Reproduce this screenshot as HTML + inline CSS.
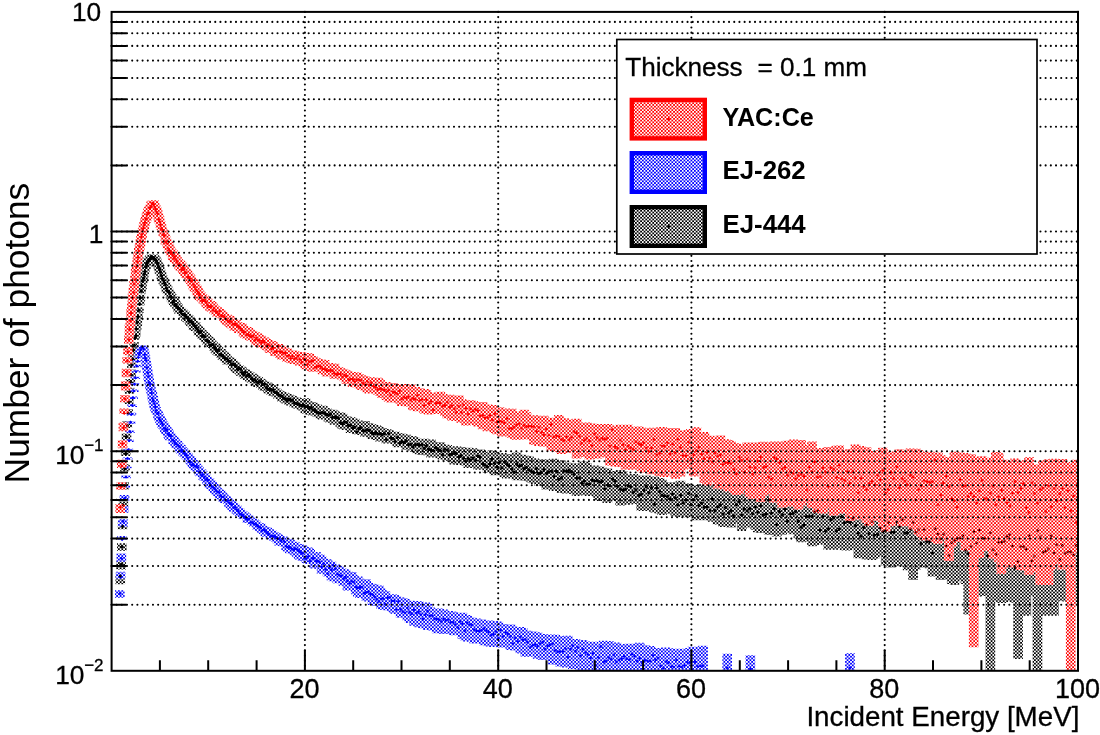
<!DOCTYPE html>
<html lang="en"><head><meta charset="utf-8"><title>Number of photons vs Incident Energy</title>
<style>html,body{margin:0;padding:0;background:#fff}body{width:1100px;height:735px;overflow:hidden}svg{display:block}</style></head>
<body>
<svg width="1100" height="735" viewBox="0 0 1100 735">
<defs>
<pattern id="pr" patternUnits="userSpaceOnUse" x="0" y="0" width="3.47" height="3.47"><rect x="0" y="0" width="1.735" height="1.735" fill="#ff0000"/><rect x="1.735" y="1.735" width="1.735" height="1.735" fill="#ff0000"/></pattern>
<pattern id="pb" patternUnits="userSpaceOnUse" x="0" y="0" width="3.47" height="3.47"><rect x="0" y="0" width="1.735" height="1.735" fill="#0000ff"/><rect x="1.735" y="1.735" width="1.735" height="1.735" fill="#0000ff"/></pattern>
<pattern id="pk" patternUnits="userSpaceOnUse" x="0" y="0" width="3.47" height="3.47"><rect x="0" y="0" width="1.735" height="1.735" fill="#000000"/><rect x="1.735" y="1.735" width="1.735" height="1.735" fill="#000000"/></pattern>
<clipPath id="cp"><rect x="111.6" y="11.9" width="966.4" height="658.9"/></clipPath>
</defs>
<rect width="1100" height="735" fill="#fff"/>
<g clip-path="url(#cp)">
<path d="M115.5 575.2H125.1V584.3H115.5zM116.2 560.7H125.9V569.6H116.2zM117.0 543.3H126.7V550.7H117.0zM117.8 522.2H127.4V529.3H117.8zM118.6 501.2H128.2V506.9H118.6zM119.3 482.1H129.0V489.6H119.3zM120.1 464.3H129.8V471.6H120.1zM120.9 448.7H130.5V455.9H120.9zM121.7 433.6H131.3V441.3H121.7zM122.4 420.9H132.1V428.1H122.4zM123.2 408.9H132.9V413.2H123.2zM124.0 397.5H133.6V403.9H124.0zM124.7 387.7H134.4V393.7H124.7zM125.5 379.1H135.2V384.7H125.5zM126.3 369.5H136.0V376.9H126.3zM127.1 362.3H136.7V367.9H127.1zM127.8 354.6H137.5V361.5H127.8zM128.6 347.7H138.3V354.7H128.6zM129.4 342.3H139.0V348.7H129.4zM130.2 336.7H139.8V339.7H130.2zM130.9 331.1H140.6V336.8H130.9zM131.7 324.9H141.4V330.8H131.7zM132.5 319.6H142.1V326.1H132.5zM133.2 313.5H142.9V319.1H133.2zM134.0 307.2H143.7V312.9H134.0zM134.8 300.7H144.5V305.4H134.8zM135.6 294.7H145.2V300.7H135.6zM136.3 288.8H146.0V293.4H136.3zM137.1 282.9H146.8V289.2H137.1zM137.9 278.5H147.6V283.2H137.9zM138.7 273.4H148.3V280.4H138.7zM139.4 270.3H149.1V276.2H139.4zM140.2 266.9H149.9V271.4H140.2zM141.0 264.6H150.6V269.2H141.0zM141.8 261.8H151.4V267.3H141.8zM142.5 259.4H152.2V265.5H142.5zM143.3 257.6H153.0V264.2H143.3zM144.1 256.9H153.7V263.6H144.1zM144.8 255.8H154.5V262.2H144.8zM145.6 254.9H155.3V261.2H145.6zM146.4 254.8H156.1V259.9H146.4zM147.2 254.6H156.8V260.4H147.2zM147.9 254.5H157.6V261.6H147.9zM148.9 254.6H158.6V260.8H148.9zM149.9 255.8H159.5V261.8H149.9zM150.8 256.4H160.5V264.4H150.8zM151.8 258.5H161.5V265.5H151.8zM152.8 260.9H162.4V266.9H152.8zM153.7 262.9H163.4V270.6H153.7zM154.7 265.5H164.4V273.7H154.7zM155.7 269.4H165.3V273.7H155.7zM156.6 272.1H166.3V279.3H156.6zM157.6 275.3H167.3V280.7H157.6zM158.6 277.5H168.3V284.2H158.6zM159.6 279.5H169.3V285.7H159.6zM160.6 282.4H170.3V288.5H160.6zM161.6 284.4H171.3V292.4H161.6zM162.6 286.0H172.3V293.6H162.6zM163.7 288.5H173.3V294.0H163.7zM164.7 290.2H174.4V296.0H164.7zM165.8 292.1H175.4V299.0H165.8zM166.8 294.2H176.5V302.1H166.8zM167.9 296.1H177.5V303.5H167.9zM169.0 297.8H178.6V305.0H169.0zM170.0 299.1H179.7V306.4H170.0zM171.1 301.2H180.8V306.0H171.1zM172.2 303.0H181.9V308.7H172.2zM173.3 304.4H183.0V311.9H173.3zM174.5 306.6H184.1V314.1H174.5zM175.6 307.2H185.2V313.7H175.6zM176.7 308.7H186.4V313.2H176.7zM177.9 309.6H187.5V315.7H177.9zM179.0 310.8H188.7V318.1H179.0zM180.2 311.5H189.8V317.1H180.2zM181.3 313.0H191.0V321.4H181.3zM182.5 314.1H192.2V321.6H182.5zM183.7 315.3H193.4V322.7H183.7zM184.9 316.7H194.6V325.1H184.9zM186.1 319.0H195.8V326.2H186.1zM187.3 319.7H197.0V324.6H187.3zM188.6 321.2H198.2V329.7H188.6zM189.8 322.1H199.5V330.8H189.8zM191.0 322.4H200.7V331.0H191.0zM192.3 325.2H202.0V331.1H192.3zM193.5 326.6H203.2V335.3H193.5zM194.8 327.4H204.5V334.9H194.8zM196.1 329.7H205.8V337.6H196.1zM197.4 330.3H207.1V338.7H197.4zM198.7 332.1H208.3V339.9H198.7zM200.0 333.3H209.7V341.3H200.0zM201.3 334.6H211.0V342.6H201.3zM202.6 336.0H212.3V345.0H202.6zM204.0 337.0H213.6V345.5H204.0zM205.3 338.6H215.0V346.6H205.3zM206.7 340.5H216.3V348.0H206.7zM208.0 341.7H217.7V347.7H208.0zM209.4 343.8H219.1V351.1H209.4zM210.8 343.5H220.4V353.3H210.8zM212.2 346.3H221.8V354.4H212.2zM213.6 347.3H223.2V356.1H213.6zM215.0 348.9H224.6V355.3H215.0zM216.4 348.9H226.1V357.9H216.4zM217.8 351.3H227.5V359.9H217.8zM219.3 352.6H228.9V360.6H219.3zM220.7 353.8H230.4V362.3H220.7zM222.2 355.8H231.8V364.4H222.2zM223.6 357.0H233.3V364.1H223.6zM225.1 357.8H234.8V364.4H225.1zM226.6 358.6H236.2V365.2H226.6zM228.1 360.5H237.7V368.5H228.1zM229.6 362.0H239.2V371.0H229.6zM231.1 362.7H240.7V372.4H231.1zM232.6 364.9H242.3V372.9H232.6zM234.1 365.6H243.8V373.4H234.1zM235.6 366.4H245.3V375.8H235.6zM237.2 367.3H246.9V373.5H237.2zM238.8 369.1H248.4V377.2H238.8zM240.3 369.5H250.0V379.0H240.3zM241.9 371.0H251.6V380.1H241.9zM243.5 371.4H253.1V379.2H243.5zM245.1 372.4H254.7V381.5H245.1zM246.7 374.2H256.3V382.4H246.7zM248.3 373.8H257.9V383.2H248.3zM249.9 375.6H259.6V383.2H249.9zM251.5 376.4H261.2V384.9H251.5zM253.1 377.0H262.8V387.0H253.1zM254.8 378.7H264.5V385.8H254.8zM256.4 379.3H266.1V387.9H256.4zM258.1 380.7H267.8V390.0H258.1zM259.8 381.4H269.4V391.1H259.8zM261.5 382.3H271.1V389.9H261.5zM263.2 382.8H272.8V393.3H263.2zM264.8 384.1H274.5V393.6H264.8zM266.6 385.3H276.2V395.1H266.6zM268.3 386.4H277.9V396.0H268.3zM270.0 388.3H279.7V394.1H270.0zM271.7 388.7H281.4V397.0H271.7zM273.5 390.3H283.1V399.1H273.5zM275.2 391.3H284.9V397.8H275.2zM277.0 392.1H286.6V401.6H277.0zM278.7 392.6H288.4V401.3H278.7zM280.5 393.4H290.2V403.2H280.5zM282.3 393.9H292.0V403.4H282.3zM284.1 394.8H293.8V404.8H284.1zM285.9 395.6H295.6V405.4H285.9zM287.7 395.9H297.4V405.4H287.7zM289.5 397.4H299.2V407.3H289.5zM291.4 397.6H301.0V407.7H291.4zM293.2 398.8H302.9V408.5H293.2zM295.0 398.3H304.7V409.1H295.0zM296.9 399.7H306.6V410.4H296.9zM298.8 401.1H308.4V408.9H298.8zM300.6 398.3H310.3V413.4H300.6zM302.5 401.3H312.2V411.3H302.5zM304.4 401.5H314.0V414.6H304.4zM306.3 402.1H315.9V415.1H306.3zM308.2 402.8H317.8V415.4H308.2zM310.1 403.9H319.7V414.1H310.1zM312.0 404.5H321.7V416.4H312.0zM313.9 405.8H323.6V417.4H313.9zM315.9 406.1H325.5V419.1H315.9zM317.8 405.7H327.5V419.4H317.8zM319.7 408.6H329.4V418.9H319.7zM321.7 408.1H331.4V417.0H321.7zM323.7 409.4H333.3V421.7H323.7zM325.6 410.1H335.3V422.8H325.6zM327.6 409.7H337.3V420.6H327.6zM329.6 410.8H339.3V424.7H329.6zM331.6 412.2H341.3V422.1H331.6zM333.6 412.9H343.3V423.5H333.6zM335.6 412.4H345.3V427.3H335.6zM337.6 413.7H347.3V428.9H337.6zM339.7 417.8H349.3V429.7H339.7zM341.7 416.3H351.3V430.0H341.7zM343.7 417.5H353.4V428.5H343.7zM345.8 417.2H355.4V432.9H345.8zM347.8 418.6H357.5V431.4H347.8zM349.9 418.7H359.5V430.1H349.9zM352.0 420.5H361.6V434.2H352.0zM354.0 420.5H363.7V432.9H354.0zM356.1 421.3H365.8V435.0H356.1zM358.2 422.0H367.9V433.6H358.2zM360.3 420.9H370.0V436.8H360.3zM362.4 423.0H372.1V434.5H362.4zM364.5 423.4H374.2V434.8H364.5zM366.6 424.3H376.3V439.0H366.6zM368.7 426.0H378.4V436.9H368.7zM370.9 425.1H380.5V439.5H370.9zM373.0 426.2H382.7V440.0H373.0zM375.2 427.0H384.8V441.5H375.2zM377.3 427.9H387.0V436.0H377.3zM379.5 429.3H389.1V440.5H379.5zM381.6 429.0H391.3V443.6H381.6zM383.8 430.0H393.5V443.0H383.8zM386.0 431.6H395.6V439.7H386.0zM388.2 432.8H397.8V441.5H388.2zM390.3 431.8H400.0V444.0H390.3zM392.5 433.1H402.2V447.3H392.5zM394.7 433.6H404.4V446.7H394.7zM397.0 433.8H406.6V446.7H397.0zM399.2 434.6H408.8V447.2H399.2zM401.4 434.8H411.1V449.7H401.4zM403.6 436.0H413.3V447.1H403.6zM405.8 436.9H415.5V448.1H405.8zM408.1 436.2H417.7V450.4H408.1zM410.3 437.4H420.0V451.9H410.3zM412.6 438.9H422.2V453.2H412.6zM414.8 439.1H424.5V454.3H414.8zM417.1 440.1H426.8V455.1H417.1zM419.4 438.8H429.0V452.7H419.4zM421.6 439.9H431.3V455.2H421.6zM423.9 440.3H433.6V454.7H423.9zM426.2 439.5H435.9V457.4H426.2zM428.5 442.0H438.1V453.2H428.5zM430.8 442.3H440.4V457.6H430.8zM433.1 443.3H442.7V457.6H433.1zM435.4 442.3H445.1V458.2H435.4zM437.7 444.6H447.4V459.6H437.7zM440.0 444.8H449.7V458.0H440.0zM442.3 444.9H452.0V460.8H442.3zM444.7 446.2H454.3V459.0H444.7zM447.0 447.5H456.7V461.8H447.0zM449.3 446.2H459.0V464.6H449.3zM451.7 446.4H461.3V461.2H451.7zM454.0 447.2H463.7V465.1H454.0zM456.4 447.1H466.0V461.2H456.4zM458.7 447.8H468.4V463.6H458.7zM461.1 448.7H470.8V465.5H461.1zM463.5 447.7H473.1V468.1H463.5zM465.8 448.6H475.5V468.0H465.8zM468.2 448.3H477.9V466.3H468.2zM470.6 449.6H480.3V467.5H470.6zM473.0 449.6H482.6V469.5H473.0zM475.4 449.4H485.0V469.8H475.4zM477.8 453.1H487.4V466.0H477.8zM480.2 452.4H489.8V468.9H480.2zM482.6 452.2H492.2V472.5H482.6zM485.0 452.0H494.6V470.8H485.0zM487.4 450.6H497.1V471.1H487.4zM489.8 452.2H499.5V475.2H489.8zM492.2 454.1H501.9V472.0H492.2zM494.7 453.4H504.3V474.1H494.7zM497.1 453.0H506.8V474.6H497.1zM499.5 453.9H509.2V477.3H499.5zM502.0 456.9H511.6V478.6H502.0zM504.4 455.5H514.1V472.3H504.4zM506.9 454.1H516.5V476.9H506.9zM509.3 457.0H519.0V476.2H509.3zM511.8 452.4H521.4V480.3H511.8zM514.2 455.1H523.9V479.4H514.2zM516.7 454.7H526.3V477.0H516.7zM519.2 458.2H528.8V480.5H519.2zM521.6 455.7H531.3V480.8H521.6zM524.1 456.6H533.8V481.3H524.1zM526.6 459.3H536.2V482.4H526.6zM529.1 458.3H538.7V483.9H529.1zM531.5 459.8H541.2V482.1H531.5zM534.0 461.5H543.7V486.0H534.0zM536.5 459.3H546.2V480.3H536.5zM539.0 460.3H548.7V482.2H539.0zM541.5 460.2H551.2V489.6H541.5zM544.0 459.6H553.7V483.8H544.0zM546.5 459.6H556.2V483.4H546.5zM549.1 458.8H558.7V491.0H549.1zM551.6 459.9H561.2V482.6H551.6zM554.1 463.9H563.7V490.1H554.1zM556.6 460.4H566.3V492.9H556.6zM559.1 462.9H568.8V486.4H559.1zM561.7 462.8H571.3V493.4H561.7zM564.2 463.3H573.9V492.0H564.2zM566.7 466.2H576.4V493.4H566.7zM569.3 463.4H578.9V494.1H569.3zM571.8 465.9H581.5V496.1H571.8zM574.3 463.2H584.0V493.9H574.3zM576.9 463.2H586.6V489.6H576.9zM579.4 461.5H589.1V495.3H579.4zM582.0 463.1H591.7V485.8H582.0zM584.6 465.6H594.2V496.1H584.6zM587.1 466.8H596.8V490.4H587.1zM589.7 465.5H599.3V495.1H589.7zM592.2 467.2H601.9V497.7H592.2zM594.8 466.6H604.5V501.1H594.8zM597.4 467.7H607.0V500.5H597.4zM600.0 471.9H609.6V499.3H600.0zM602.5 468.6H612.2V503.0H602.5zM605.1 472.0H614.8V497.5H605.1zM607.7 471.3H617.4V494.4H607.7zM610.3 472.0H619.9V500.8H610.3zM612.9 470.9H622.5V492.6H612.9zM615.4 470.0H625.1V505.4H615.4zM618.0 471.6H627.7V501.5H618.0zM620.6 474.5H630.3V504.7H620.6zM623.2 476.0H632.9V504.6H623.2zM625.8 477.0H635.5V501.8H625.8zM628.4 473.9H638.1V503.8H628.4zM631.0 478.1H640.7V502.4H631.0zM633.6 475.5H643.3V504.0H633.6zM636.3 476.8H645.9V510.5H636.3zM638.9 478.6H648.5V510.9H638.9zM641.5 475.6H651.1V506.2H641.5zM644.1 478.8H653.8V510.4H644.1zM646.7 479.0H656.4V510.5H646.7zM649.3 476.6H659.0V512.6H649.3zM652.0 481.2H661.6V509.6H652.0zM654.6 478.1H664.2V513.6H654.6zM657.2 479.7H666.9V514.9H657.2zM659.8 482.2H669.5V509.9H659.8zM662.5 482.9H672.1V513.1H662.5zM665.1 483.0H674.8V513.7H665.1zM667.7 482.6H677.4V511.7H667.7zM670.4 482.3H680.0V516.6H670.4zM673.0 482.2H682.7V515.4H673.0zM675.7 480.8H685.3V517.1H675.7zM678.3 485.3H688.0V509.9H678.3zM680.9 483.4H690.6V517.2H680.9zM683.6 485.6H693.3V511.0H683.6zM686.2 486.8H695.9V514.7H686.2zM688.9 485.0H698.6V513.1H688.9zM691.6 485.1H701.2V520.3H691.6zM694.2 485.6H703.9V519.1H694.2zM696.9 484.2H706.5V518.1H696.9zM699.5 487.7H709.2V520.3H699.5zM702.2 486.5H711.8V519.5H702.2zM704.8 485.1H714.5V518.5H704.8zM707.5 484.6H717.2V521.7H707.5zM710.2 487.4H719.8V520.3H710.2zM712.8 488.0H722.5V524.6H712.8zM715.5 488.6H725.2V522.6H715.5zM718.2 487.9H727.8V527.0H718.2zM720.9 489.9H730.5V526.4H720.9zM723.5 492.2H733.2V525.6H723.5zM726.2 492.1H735.9V527.4H726.2zM728.9 487.0H738.5V523.2H728.9zM731.6 489.0H741.2V520.9H731.6zM734.2 487.5H743.9V522.7H734.2zM736.9 492.7H746.6V531.1H736.9zM739.6 489.4H749.3V527.4H739.6zM742.3 488.9H752.0V527.6H742.3zM745.0 493.3H754.6V521.3H745.0zM747.7 491.3H757.3V526.9H747.7zM750.4 494.7H760.0V529.8H750.4zM753.0 493.0H762.7V532.3H753.0zM755.7 494.1H765.4V533.1H755.7zM758.4 496.8H768.1V529.8H758.4zM761.1 493.8H770.8V526.1H761.1zM763.8 493.7H773.5V534.6H763.8zM766.5 494.6H776.2V535.1H766.5zM769.2 493.2H778.9V532.4H769.2zM771.9 494.5H781.6V536.6H771.9zM774.6 494.7H784.3V531.0H774.6zM777.3 496.4H787.0V534.7H777.3zM780.0 494.4H789.7V524.6H780.0zM782.7 498.8H792.4V528.2H782.7zM785.4 496.2H795.1V532.7H785.4zM788.2 494.3H797.8V534.2H788.2zM790.9 495.0H800.5V533.9H790.9zM793.6 498.1H803.2V538.2H793.6zM796.3 490.8H805.9V542.3H796.3zM799.0 496.3H808.7V541.4H799.0zM801.7 498.3H811.4V535.1H801.7zM804.4 499.9H814.1V537.2H804.4zM807.1 497.3H816.8V546.3H807.1zM809.9 498.4H819.5V545.1H809.9zM812.6 496.3H822.2V543.6H812.6zM815.3 502.6H825.0V541.0H815.3zM818.0 500.5H827.7V541.7H818.0zM820.7 495.7H830.4V544.7H820.7zM823.5 497.0H833.1V549.7H823.5zM826.2 494.4H835.8V548.9H826.2zM828.9 499.3H838.6V549.8H828.9zM831.6 499.6H841.3V543.4H831.6zM834.4 500.1H844.0V545.1H834.4zM837.1 498.5H846.7V547.8H837.1zM839.8 497.3H849.5V550.2H839.8zM842.5 502.8H852.2V550.4H842.5zM845.3 501.1H854.9V548.5H845.3zM848.0 504.4H857.7V546.6H848.0zM850.7 501.6H860.4V548.3H850.7zM853.5 498.2H863.1V558.2H853.5zM856.2 507.5H865.9V543.0H856.2zM858.9 502.6H868.6V552.2H858.9zM861.7 505.0H871.3V559.5H861.7zM864.4 502.4H874.1V557.0H864.4zM867.1 500.1H876.8V560.0H867.1zM869.9 500.9H879.5V558.4H869.9zM872.6 505.7H882.3V556.6H872.6zM875.4 505.7H885.0V548.3H875.4zM878.1 504.3H887.8V555.1H878.1zM880.8 499.7H890.5V565.5H880.8zM883.6 504.7H893.3V552.6H883.6zM886.3 504.4H896.0V567.4H886.3zM889.1 509.5H898.7V566.4H889.1zM891.8 501.5H901.5V564.2H891.8zM894.6 506.2H904.2V565.8H894.6zM897.3 513.4H907.0V551.2H897.3zM900.1 506.2H909.7V566.5H900.1zM902.8 507.2H912.5V570.2H902.8zM905.6 507.4H915.2V569.0H905.6zM908.3 511.4H918.0V580.0H908.3zM911.0 509.8H920.7V569.4H911.0zM913.8 510.1H923.5V555.2H913.8zM916.6 515.2H926.2V562.9H916.6zM919.3 515.5H929.0V567.4H919.3zM922.1 515.5H931.7V565.9H922.1zM924.8 507.2H934.5V568.3H924.8zM927.6 518.6H937.2V576.4H927.6zM930.3 509.1H940.0V572.6H930.3zM933.1 513.4H942.7V568.1H933.1zM935.8 515.0H945.5V580.1H935.8zM938.6 514.3H948.2V566.6H938.6zM941.3 506.8H951.0V579.2H941.3zM944.1 513.1H953.8V569.9H944.1zM946.9 508.8H956.5V584.0H946.9zM949.6 506.6H959.3V585.0H949.6zM952.4 509.5H962.0V580.1H952.4zM955.1 511.2H964.8V580.5H955.1zM957.9 507.8H967.6V580.5H957.9zM960.6 509.7H970.3V583.9H960.6zM963.4 513.8H973.1V614.6H963.4zM966.2 511.6H975.8V584.4H966.2zM968.9 516.0H978.6V573.1H968.9zM971.7 514.0H981.4V596.7H971.7zM974.5 524.2H984.1V581.0H974.5zM977.2 513.3H986.9V595.9H977.2zM980.0 510.6H989.7V587.7H980.0zM982.8 513.8H992.4V593.2H982.8zM985.5 513.5H995.2V670.8H985.5zM988.3 511.3H997.9V591.3H988.3zM991.0 510.1H1000.7V599.8H991.0zM993.8 508.6H1003.5V601.7H993.8zM996.6 518.4H1006.2V603.1H996.6zM999.3 511.5H1009.0V596.5H999.3zM1002.1 510.4H1011.8V587.8H1002.1zM1004.9 517.5H1014.5V602.1H1004.9zM1007.7 510.4H1017.3V601.3H1007.7zM1010.4 514.6H1020.1V602.8H1010.4zM1013.2 523.2H1022.9V659.1H1013.2zM1016.0 518.7H1025.6V592.6H1016.0zM1018.7 515.2H1028.4V589.3H1018.7zM1021.5 515.7H1031.2V615.7H1021.5zM1024.3 518.9H1033.9V590.7H1024.3zM1027.0 517.9H1036.7V595.7H1027.0zM1029.8 518.1H1039.5V589.2H1029.8zM1032.6 522.9H1042.3V670.8H1032.6zM1035.4 515.0H1045.0V604.1H1035.4zM1038.1 514.0H1047.8V603.5H1038.1zM1040.9 512.3H1050.6V615.7H1040.9zM1043.7 518.4H1053.4V592.2H1043.7zM1046.5 516.1H1056.1V588.5H1046.5zM1049.2 515.0H1058.9V615.7H1049.2zM1052.0 517.0H1061.7V596.2H1052.0zM1054.8 512.0H1064.5V601.2H1054.8zM1057.6 520.5H1067.2V580.5H1057.6zM1060.3 521.4H1070.0V600.0H1060.3zM1063.1 517.2H1072.8V601.7H1063.1zM1065.9 516.5H1075.6V600.7H1065.9zM1068.7 520.4H1078.0V601.6H1068.7zM1071.4 523.0H1078.0V603.9H1071.4z" fill="url(#pk)"/>
<path d="M118.6 576.0l1.7 -1.7l1.7 1.7l-1.7 1.7zM119.4 564.6l1.7 -1.7l1.7 1.7l-1.7 1.7zM120.1 546.6l1.7 -1.7l1.7 1.7l-1.7 1.7zM120.9 526.2l1.7 -1.7l1.7 1.7l-1.7 1.7zM121.7 505.3l1.7 -1.7l1.7 1.7l-1.7 1.7zM122.5 485.5l1.7 -1.7l1.7 1.7l-1.7 1.7zM123.2 468.7l1.7 -1.7l1.7 1.7l-1.7 1.7zM124.0 453.7l1.7 -1.7l1.7 1.7l-1.7 1.7zM124.8 436.8l1.7 -1.7l1.7 1.7l-1.7 1.7zM125.6 425.7l1.7 -1.7l1.7 1.7l-1.7 1.7zM126.3 413.1l1.7 -1.7l1.7 1.7l-1.7 1.7zM127.1 402.1l1.7 -1.7l1.7 1.7l-1.7 1.7zM127.9 391.9l1.7 -1.7l1.7 1.7l-1.7 1.7zM128.6 382.0l1.7 -1.7l1.7 1.7l-1.7 1.7zM129.4 374.7l1.7 -1.7l1.7 1.7l-1.7 1.7zM130.2 365.0l1.7 -1.7l1.7 1.7l-1.7 1.7zM131.0 359.0l1.7 -1.7l1.7 1.7l-1.7 1.7zM131.7 350.3l1.7 -1.7l1.7 1.7l-1.7 1.7zM132.5 345.7l1.7 -1.7l1.7 1.7l-1.7 1.7zM133.3 338.2l1.7 -1.7l1.7 1.7l-1.7 1.7zM134.1 335.7l1.7 -1.7l1.7 1.7l-1.7 1.7zM134.8 328.9l1.7 -1.7l1.7 1.7l-1.7 1.7zM135.6 322.3l1.7 -1.7l1.7 1.7l-1.7 1.7zM136.4 316.8l1.7 -1.7l1.7 1.7l-1.7 1.7zM137.2 310.2l1.7 -1.7l1.7 1.7l-1.7 1.7zM137.9 304.2l1.7 -1.7l1.7 1.7l-1.7 1.7zM138.7 297.8l1.7 -1.7l1.7 1.7l-1.7 1.7zM139.5 291.0l1.7 -1.7l1.7 1.7l-1.7 1.7zM140.2 285.8l1.7 -1.7l1.7 1.7l-1.7 1.7zM141.0 281.4l1.7 -1.7l1.7 1.7l-1.7 1.7zM141.8 278.2l1.7 -1.7l1.7 1.7l-1.7 1.7zM142.6 274.0l1.7 -1.7l1.7 1.7l-1.7 1.7zM143.3 271.5l1.7 -1.7l1.7 1.7l-1.7 1.7zM144.1 267.0l1.7 -1.7l1.7 1.7l-1.7 1.7zM144.9 264.1l1.7 -1.7l1.7 1.7l-1.7 1.7zM145.7 262.6l1.7 -1.7l1.7 1.7l-1.7 1.7zM146.4 261.7l1.7 -1.7l1.7 1.7l-1.7 1.7zM147.2 259.6l1.7 -1.7l1.7 1.7l-1.7 1.7zM148.0 259.2l1.7 -1.7l1.7 1.7l-1.7 1.7zM148.7 258.2l1.7 -1.7l1.7 1.7l-1.7 1.7zM149.5 256.4l1.7 -1.7l1.7 1.7l-1.7 1.7zM150.3 257.5l1.7 -1.7l1.7 1.7l-1.7 1.7zM151.1 257.7l1.7 -1.7l1.7 1.7l-1.7 1.7zM152.0 257.6l1.7 -1.7l1.7 1.7l-1.7 1.7zM153.0 259.3l1.7 -1.7l1.7 1.7l-1.7 1.7zM154.0 260.0l1.7 -1.7l1.7 1.7l-1.7 1.7zM154.9 261.0l1.7 -1.7l1.7 1.7l-1.7 1.7zM155.9 263.8l1.7 -1.7l1.7 1.7l-1.7 1.7zM156.9 266.7l1.7 -1.7l1.7 1.7l-1.7 1.7zM157.8 269.4l1.7 -1.7l1.7 1.7l-1.7 1.7zM158.8 272.1l1.7 -1.7l1.7 1.7l-1.7 1.7zM159.8 275.8l1.7 -1.7l1.7 1.7l-1.7 1.7zM160.8 278.7l1.7 -1.7l1.7 1.7l-1.7 1.7zM161.7 280.4l1.7 -1.7l1.7 1.7l-1.7 1.7zM162.7 282.7l1.7 -1.7l1.7 1.7l-1.7 1.7zM163.7 284.5l1.7 -1.7l1.7 1.7l-1.7 1.7zM164.8 288.2l1.7 -1.7l1.7 1.7l-1.7 1.7zM165.8 291.1l1.7 -1.7l1.7 1.7l-1.7 1.7zM166.8 291.5l1.7 -1.7l1.7 1.7l-1.7 1.7zM167.8 293.0l1.7 -1.7l1.7 1.7l-1.7 1.7zM168.9 296.3l1.7 -1.7l1.7 1.7l-1.7 1.7zM169.9 297.6l1.7 -1.7l1.7 1.7l-1.7 1.7zM171.0 302.3l1.7 -1.7l1.7 1.7l-1.7 1.7zM172.1 300.6l1.7 -1.7l1.7 1.7l-1.7 1.7zM173.2 305.0l1.7 -1.7l1.7 1.7l-1.7 1.7zM174.3 304.8l1.7 -1.7l1.7 1.7l-1.7 1.7zM175.4 306.5l1.7 -1.7l1.7 1.7l-1.7 1.7zM176.5 307.9l1.7 -1.7l1.7 1.7l-1.7 1.7zM177.6 308.7l1.7 -1.7l1.7 1.7l-1.7 1.7zM178.7 312.0l1.7 -1.7l1.7 1.7l-1.7 1.7zM179.8 310.7l1.7 -1.7l1.7 1.7l-1.7 1.7zM181.0 314.4l1.7 -1.7l1.7 1.7l-1.7 1.7zM182.1 314.8l1.7 -1.7l1.7 1.7l-1.7 1.7zM183.3 315.0l1.7 -1.7l1.7 1.7l-1.7 1.7zM184.5 317.2l1.7 -1.7l1.7 1.7l-1.7 1.7zM185.7 318.0l1.7 -1.7l1.7 1.7l-1.7 1.7zM186.8 320.4l1.7 -1.7l1.7 1.7l-1.7 1.7zM188.0 321.7l1.7 -1.7l1.7 1.7l-1.7 1.7zM189.3 321.3l1.7 -1.7l1.7 1.7l-1.7 1.7zM190.5 323.0l1.7 -1.7l1.7 1.7l-1.7 1.7zM191.7 324.5l1.7 -1.7l1.7 1.7l-1.7 1.7zM192.9 325.9l1.7 -1.7l1.7 1.7l-1.7 1.7zM194.2 327.6l1.7 -1.7l1.7 1.7l-1.7 1.7zM195.4 329.0l1.7 -1.7l1.7 1.7l-1.7 1.7zM196.7 331.1l1.7 -1.7l1.7 1.7l-1.7 1.7zM198.0 332.6l1.7 -1.7l1.7 1.7l-1.7 1.7zM199.2 331.8l1.7 -1.7l1.7 1.7l-1.7 1.7zM200.5 336.2l1.7 -1.7l1.7 1.7l-1.7 1.7zM201.8 335.7l1.7 -1.7l1.7 1.7l-1.7 1.7zM203.1 336.6l1.7 -1.7l1.7 1.7l-1.7 1.7zM204.4 340.4l1.7 -1.7l1.7 1.7l-1.7 1.7zM205.8 340.5l1.7 -1.7l1.7 1.7l-1.7 1.7zM207.1 342.0l1.7 -1.7l1.7 1.7l-1.7 1.7zM208.4 345.4l1.7 -1.7l1.7 1.7l-1.7 1.7zM209.8 345.1l1.7 -1.7l1.7 1.7l-1.7 1.7zM211.2 344.6l1.7 -1.7l1.7 1.7l-1.7 1.7zM212.5 347.4l1.7 -1.7l1.7 1.7l-1.7 1.7zM213.9 349.3l1.7 -1.7l1.7 1.7l-1.7 1.7zM215.3 351.2l1.7 -1.7l1.7 1.7l-1.7 1.7zM216.7 350.0l1.7 -1.7l1.7 1.7l-1.7 1.7zM218.1 354.8l1.7 -1.7l1.7 1.7l-1.7 1.7zM219.5 354.4l1.7 -1.7l1.7 1.7l-1.7 1.7zM220.9 355.4l1.7 -1.7l1.7 1.7l-1.7 1.7zM222.4 357.3l1.7 -1.7l1.7 1.7l-1.7 1.7zM223.8 358.9l1.7 -1.7l1.7 1.7l-1.7 1.7zM225.3 358.9l1.7 -1.7l1.7 1.7l-1.7 1.7zM226.7 360.9l1.7 -1.7l1.7 1.7l-1.7 1.7zM228.2 361.5l1.7 -1.7l1.7 1.7l-1.7 1.7zM229.7 364.2l1.7 -1.7l1.7 1.7l-1.7 1.7zM231.2 364.2l1.7 -1.7l1.7 1.7l-1.7 1.7zM232.7 365.0l1.7 -1.7l1.7 1.7l-1.7 1.7zM234.2 366.2l1.7 -1.7l1.7 1.7l-1.7 1.7zM235.7 369.3l1.7 -1.7l1.7 1.7l-1.7 1.7zM237.2 367.9l1.7 -1.7l1.7 1.7l-1.7 1.7zM238.8 369.1l1.7 -1.7l1.7 1.7l-1.7 1.7zM240.3 372.7l1.7 -1.7l1.7 1.7l-1.7 1.7zM241.9 374.8l1.7 -1.7l1.7 1.7l-1.7 1.7zM243.4 372.3l1.7 -1.7l1.7 1.7l-1.7 1.7zM245.0 376.1l1.7 -1.7l1.7 1.7l-1.7 1.7zM246.6 374.4l1.7 -1.7l1.7 1.7l-1.7 1.7zM248.2 375.9l1.7 -1.7l1.7 1.7l-1.7 1.7zM249.8 378.4l1.7 -1.7l1.7 1.7l-1.7 1.7zM251.4 380.3l1.7 -1.7l1.7 1.7l-1.7 1.7zM253.0 379.5l1.7 -1.7l1.7 1.7l-1.7 1.7zM254.6 381.5l1.7 -1.7l1.7 1.7l-1.7 1.7zM256.3 382.7l1.7 -1.7l1.7 1.7l-1.7 1.7zM257.9 381.1l1.7 -1.7l1.7 1.7l-1.7 1.7zM259.6 382.1l1.7 -1.7l1.7 1.7l-1.7 1.7zM261.2 384.4l1.7 -1.7l1.7 1.7l-1.7 1.7zM262.9 384.1l1.7 -1.7l1.7 1.7l-1.7 1.7zM264.6 387.6l1.7 -1.7l1.7 1.7l-1.7 1.7zM266.3 389.2l1.7 -1.7l1.7 1.7l-1.7 1.7zM268.0 389.0l1.7 -1.7l1.7 1.7l-1.7 1.7zM269.7 390.0l1.7 -1.7l1.7 1.7l-1.7 1.7zM271.4 389.9l1.7 -1.7l1.7 1.7l-1.7 1.7zM273.1 392.4l1.7 -1.7l1.7 1.7l-1.7 1.7zM274.9 392.6l1.7 -1.7l1.7 1.7l-1.7 1.7zM276.6 394.6l1.7 -1.7l1.7 1.7l-1.7 1.7zM278.4 395.4l1.7 -1.7l1.7 1.7l-1.7 1.7zM280.1 396.1l1.7 -1.7l1.7 1.7l-1.7 1.7zM281.9 398.1l1.7 -1.7l1.7 1.7l-1.7 1.7zM283.7 399.1l1.7 -1.7l1.7 1.7l-1.7 1.7zM285.4 401.1l1.7 -1.7l1.7 1.7l-1.7 1.7zM287.2 399.2l1.7 -1.7l1.7 1.7l-1.7 1.7zM289.0 400.6l1.7 -1.7l1.7 1.7l-1.7 1.7zM290.8 400.1l1.7 -1.7l1.7 1.7l-1.7 1.7zM292.7 402.7l1.7 -1.7l1.7 1.7l-1.7 1.7zM294.5 403.5l1.7 -1.7l1.7 1.7l-1.7 1.7zM296.3 403.9l1.7 -1.7l1.7 1.7l-1.7 1.7zM298.2 404.9l1.7 -1.7l1.7 1.7l-1.7 1.7zM300.0 405.8l1.7 -1.7l1.7 1.7l-1.7 1.7zM301.9 404.9l1.7 -1.7l1.7 1.7l-1.7 1.7zM303.8 406.9l1.7 -1.7l1.7 1.7l-1.7 1.7zM305.6 406.4l1.7 -1.7l1.7 1.7l-1.7 1.7zM307.5 408.5l1.7 -1.7l1.7 1.7l-1.7 1.7zM309.4 407.7l1.7 -1.7l1.7 1.7l-1.7 1.7zM311.3 410.0l1.7 -1.7l1.7 1.7l-1.7 1.7zM313.2 410.3l1.7 -1.7l1.7 1.7l-1.7 1.7zM315.1 412.4l1.7 -1.7l1.7 1.7l-1.7 1.7zM317.1 413.0l1.7 -1.7l1.7 1.7l-1.7 1.7zM319.0 413.1l1.7 -1.7l1.7 1.7l-1.7 1.7zM320.9 412.4l1.7 -1.7l1.7 1.7l-1.7 1.7zM322.9 413.1l1.7 -1.7l1.7 1.7l-1.7 1.7zM324.8 414.5l1.7 -1.7l1.7 1.7l-1.7 1.7zM326.8 415.3l1.7 -1.7l1.7 1.7l-1.7 1.7zM328.8 414.1l1.7 -1.7l1.7 1.7l-1.7 1.7zM330.7 417.6l1.7 -1.7l1.7 1.7l-1.7 1.7zM332.7 417.2l1.7 -1.7l1.7 1.7l-1.7 1.7zM334.7 417.3l1.7 -1.7l1.7 1.7l-1.7 1.7zM336.7 418.3l1.7 -1.7l1.7 1.7l-1.7 1.7zM338.7 422.7l1.7 -1.7l1.7 1.7l-1.7 1.7zM340.8 424.0l1.7 -1.7l1.7 1.7l-1.7 1.7zM342.8 421.7l1.7 -1.7l1.7 1.7l-1.7 1.7zM344.8 422.5l1.7 -1.7l1.7 1.7l-1.7 1.7zM346.9 425.8l1.7 -1.7l1.7 1.7l-1.7 1.7zM348.9 425.2l1.7 -1.7l1.7 1.7l-1.7 1.7zM351.0 428.1l1.7 -1.7l1.7 1.7l-1.7 1.7zM353.0 427.3l1.7 -1.7l1.7 1.7l-1.7 1.7zM355.1 432.1l1.7 -1.7l1.7 1.7l-1.7 1.7zM357.2 428.7l1.7 -1.7l1.7 1.7l-1.7 1.7zM359.2 427.8l1.7 -1.7l1.7 1.7l-1.7 1.7zM361.3 430.4l1.7 -1.7l1.7 1.7l-1.7 1.7zM363.4 430.9l1.7 -1.7l1.7 1.7l-1.7 1.7zM365.5 429.7l1.7 -1.7l1.7 1.7l-1.7 1.7zM367.6 430.6l1.7 -1.7l1.7 1.7l-1.7 1.7zM369.8 432.7l1.7 -1.7l1.7 1.7l-1.7 1.7zM371.9 433.7l1.7 -1.7l1.7 1.7l-1.7 1.7zM374.0 432.3l1.7 -1.7l1.7 1.7l-1.7 1.7zM376.1 433.9l1.7 -1.7l1.7 1.7l-1.7 1.7zM378.3 433.6l1.7 -1.7l1.7 1.7l-1.7 1.7zM380.4 434.7l1.7 -1.7l1.7 1.7l-1.7 1.7zM382.6 433.2l1.7 -1.7l1.7 1.7l-1.7 1.7zM384.8 439.6l1.7 -1.7l1.7 1.7l-1.7 1.7zM386.9 433.6l1.7 -1.7l1.7 1.7l-1.7 1.7zM389.1 437.7l1.7 -1.7l1.7 1.7l-1.7 1.7zM391.3 438.5l1.7 -1.7l1.7 1.7l-1.7 1.7zM393.5 441.6l1.7 -1.7l1.7 1.7l-1.7 1.7zM395.7 437.4l1.7 -1.7l1.7 1.7l-1.7 1.7zM397.9 443.3l1.7 -1.7l1.7 1.7l-1.7 1.7zM400.1 441.5l1.7 -1.7l1.7 1.7l-1.7 1.7zM402.3 442.6l1.7 -1.7l1.7 1.7l-1.7 1.7zM404.5 440.9l1.7 -1.7l1.7 1.7l-1.7 1.7zM406.7 444.5l1.7 -1.7l1.7 1.7l-1.7 1.7zM409.0 444.5l1.7 -1.7l1.7 1.7l-1.7 1.7zM411.2 446.9l1.7 -1.7l1.7 1.7l-1.7 1.7zM413.5 444.6l1.7 -1.7l1.7 1.7l-1.7 1.7zM415.7 444.6l1.7 -1.7l1.7 1.7l-1.7 1.7zM418.0 445.2l1.7 -1.7l1.7 1.7l-1.7 1.7zM420.2 444.5l1.7 -1.7l1.7 1.7l-1.7 1.7zM422.5 448.2l1.7 -1.7l1.7 1.7l-1.7 1.7zM424.8 445.8l1.7 -1.7l1.7 1.7l-1.7 1.7zM427.0 449.2l1.7 -1.7l1.7 1.7l-1.7 1.7zM429.3 450.4l1.7 -1.7l1.7 1.7l-1.7 1.7zM431.6 450.6l1.7 -1.7l1.7 1.7l-1.7 1.7zM433.9 447.6l1.7 -1.7l1.7 1.7l-1.7 1.7zM436.2 449.0l1.7 -1.7l1.7 1.7l-1.7 1.7zM438.5 450.5l1.7 -1.7l1.7 1.7l-1.7 1.7zM440.8 454.8l1.7 -1.7l1.7 1.7l-1.7 1.7zM443.1 449.1l1.7 -1.7l1.7 1.7l-1.7 1.7zM445.5 450.1l1.7 -1.7l1.7 1.7l-1.7 1.7zM447.8 454.8l1.7 -1.7l1.7 1.7l-1.7 1.7zM450.1 454.1l1.7 -1.7l1.7 1.7l-1.7 1.7zM452.5 453.4l1.7 -1.7l1.7 1.7l-1.7 1.7zM454.8 453.5l1.7 -1.7l1.7 1.7l-1.7 1.7zM457.2 457.0l1.7 -1.7l1.7 1.7l-1.7 1.7zM459.5 455.6l1.7 -1.7l1.7 1.7l-1.7 1.7zM461.9 458.3l1.7 -1.7l1.7 1.7l-1.7 1.7zM464.2 461.6l1.7 -1.7l1.7 1.7l-1.7 1.7zM466.6 458.5l1.7 -1.7l1.7 1.7l-1.7 1.7zM469.0 460.1l1.7 -1.7l1.7 1.7l-1.7 1.7zM471.3 458.1l1.7 -1.7l1.7 1.7l-1.7 1.7zM473.7 460.4l1.7 -1.7l1.7 1.7l-1.7 1.7zM476.1 456.2l1.7 -1.7l1.7 1.7l-1.7 1.7zM478.5 457.5l1.7 -1.7l1.7 1.7l-1.7 1.7zM480.9 463.7l1.7 -1.7l1.7 1.7l-1.7 1.7zM483.3 465.1l1.7 -1.7l1.7 1.7l-1.7 1.7zM485.7 466.8l1.7 -1.7l1.7 1.7l-1.7 1.7zM488.1 463.7l1.7 -1.7l1.7 1.7l-1.7 1.7zM490.5 458.7l1.7 -1.7l1.7 1.7l-1.7 1.7zM492.9 463.5l1.7 -1.7l1.7 1.7l-1.7 1.7zM495.4 466.6l1.7 -1.7l1.7 1.7l-1.7 1.7zM497.8 462.6l1.7 -1.7l1.7 1.7l-1.7 1.7zM500.2 467.9l1.7 -1.7l1.7 1.7l-1.7 1.7zM502.7 462.0l1.7 -1.7l1.7 1.7l-1.7 1.7zM505.1 464.3l1.7 -1.7l1.7 1.7l-1.7 1.7zM507.5 465.9l1.7 -1.7l1.7 1.7l-1.7 1.7zM510.0 469.1l1.7 -1.7l1.7 1.7l-1.7 1.7zM512.4 472.3l1.7 -1.7l1.7 1.7l-1.7 1.7zM514.9 464.1l1.7 -1.7l1.7 1.7l-1.7 1.7zM517.4 466.3l1.7 -1.7l1.7 1.7l-1.7 1.7zM519.8 465.5l1.7 -1.7l1.7 1.7l-1.7 1.7zM522.3 468.8l1.7 -1.7l1.7 1.7l-1.7 1.7zM524.8 467.4l1.7 -1.7l1.7 1.7l-1.7 1.7zM527.2 469.9l1.7 -1.7l1.7 1.7l-1.7 1.7zM529.7 471.5l1.7 -1.7l1.7 1.7l-1.7 1.7zM532.2 472.6l1.7 -1.7l1.7 1.7l-1.7 1.7zM534.7 468.5l1.7 -1.7l1.7 1.7l-1.7 1.7zM537.2 473.4l1.7 -1.7l1.7 1.7l-1.7 1.7zM539.7 472.5l1.7 -1.7l1.7 1.7l-1.7 1.7zM542.2 469.7l1.7 -1.7l1.7 1.7l-1.7 1.7zM544.7 473.3l1.7 -1.7l1.7 1.7l-1.7 1.7zM547.2 471.9l1.7 -1.7l1.7 1.7l-1.7 1.7zM549.7 471.1l1.7 -1.7l1.7 1.7l-1.7 1.7zM552.2 476.6l1.7 -1.7l1.7 1.7l-1.7 1.7zM554.7 470.9l1.7 -1.7l1.7 1.7l-1.7 1.7zM557.2 479.5l1.7 -1.7l1.7 1.7l-1.7 1.7zM559.7 477.9l1.7 -1.7l1.7 1.7l-1.7 1.7zM562.3 471.0l1.7 -1.7l1.7 1.7l-1.7 1.7zM564.8 471.4l1.7 -1.7l1.7 1.7l-1.7 1.7zM567.3 470.3l1.7 -1.7l1.7 1.7l-1.7 1.7zM569.9 471.7l1.7 -1.7l1.7 1.7l-1.7 1.7zM572.4 474.3l1.7 -1.7l1.7 1.7l-1.7 1.7zM574.9 478.2l1.7 -1.7l1.7 1.7l-1.7 1.7zM577.5 478.0l1.7 -1.7l1.7 1.7l-1.7 1.7zM580.0 483.3l1.7 -1.7l1.7 1.7l-1.7 1.7zM582.6 480.9l1.7 -1.7l1.7 1.7l-1.7 1.7zM585.1 484.1l1.7 -1.7l1.7 1.7l-1.7 1.7zM587.7 484.3l1.7 -1.7l1.7 1.7l-1.7 1.7zM590.2 480.1l1.7 -1.7l1.7 1.7l-1.7 1.7zM592.8 480.7l1.7 -1.7l1.7 1.7l-1.7 1.7zM595.4 480.4l1.7 -1.7l1.7 1.7l-1.7 1.7zM597.9 481.9l1.7 -1.7l1.7 1.7l-1.7 1.7zM600.5 481.2l1.7 -1.7l1.7 1.7l-1.7 1.7zM603.1 489.1l1.7 -1.7l1.7 1.7l-1.7 1.7zM605.7 485.1l1.7 -1.7l1.7 1.7l-1.7 1.7zM608.2 485.6l1.7 -1.7l1.7 1.7l-1.7 1.7zM610.8 479.1l1.7 -1.7l1.7 1.7l-1.7 1.7zM613.4 481.0l1.7 -1.7l1.7 1.7l-1.7 1.7zM616.0 486.2l1.7 -1.7l1.7 1.7l-1.7 1.7zM618.6 489.1l1.7 -1.7l1.7 1.7l-1.7 1.7zM621.2 490.3l1.7 -1.7l1.7 1.7l-1.7 1.7zM623.8 489.5l1.7 -1.7l1.7 1.7l-1.7 1.7zM626.4 485.7l1.7 -1.7l1.7 1.7l-1.7 1.7zM629.0 486.8l1.7 -1.7l1.7 1.7l-1.7 1.7zM631.6 492.4l1.7 -1.7l1.7 1.7l-1.7 1.7zM634.2 490.0l1.7 -1.7l1.7 1.7l-1.7 1.7zM636.8 495.5l1.7 -1.7l1.7 1.7l-1.7 1.7zM639.4 494.7l1.7 -1.7l1.7 1.7l-1.7 1.7zM642.0 490.2l1.7 -1.7l1.7 1.7l-1.7 1.7zM644.6 486.7l1.7 -1.7l1.7 1.7l-1.7 1.7zM647.2 492.7l1.7 -1.7l1.7 1.7l-1.7 1.7zM649.8 488.0l1.7 -1.7l1.7 1.7l-1.7 1.7zM652.5 504.2l1.7 -1.7l1.7 1.7l-1.7 1.7zM655.1 487.7l1.7 -1.7l1.7 1.7l-1.7 1.7zM657.7 491.6l1.7 -1.7l1.7 1.7l-1.7 1.7zM660.3 495.2l1.7 -1.7l1.7 1.7l-1.7 1.7zM663.0 495.9l1.7 -1.7l1.7 1.7l-1.7 1.7zM665.6 496.8l1.7 -1.7l1.7 1.7l-1.7 1.7zM668.2 499.1l1.7 -1.7l1.7 1.7l-1.7 1.7zM670.9 494.2l1.7 -1.7l1.7 1.7l-1.7 1.7zM673.5 497.9l1.7 -1.7l1.7 1.7l-1.7 1.7zM676.1 504.8l1.7 -1.7l1.7 1.7l-1.7 1.7zM678.8 495.2l1.7 -1.7l1.7 1.7l-1.7 1.7zM681.4 502.9l1.7 -1.7l1.7 1.7l-1.7 1.7zM684.1 499.7l1.7 -1.7l1.7 1.7l-1.7 1.7zM686.7 493.4l1.7 -1.7l1.7 1.7l-1.7 1.7zM689.4 504.4l1.7 -1.7l1.7 1.7l-1.7 1.7zM692.0 499.6l1.7 -1.7l1.7 1.7l-1.7 1.7zM694.7 495.7l1.7 -1.7l1.7 1.7l-1.7 1.7zM697.3 505.4l1.7 -1.7l1.7 1.7l-1.7 1.7zM700.0 503.5l1.7 -1.7l1.7 1.7l-1.7 1.7zM702.7 507.2l1.7 -1.7l1.7 1.7l-1.7 1.7zM705.3 506.8l1.7 -1.7l1.7 1.7l-1.7 1.7zM708.0 510.6l1.7 -1.7l1.7 1.7l-1.7 1.7zM710.6 498.7l1.7 -1.7l1.7 1.7l-1.7 1.7zM713.3 510.7l1.7 -1.7l1.7 1.7l-1.7 1.7zM716.0 506.8l1.7 -1.7l1.7 1.7l-1.7 1.7zM718.6 505.0l1.7 -1.7l1.7 1.7l-1.7 1.7zM721.3 514.1l1.7 -1.7l1.7 1.7l-1.7 1.7zM724.0 507.5l1.7 -1.7l1.7 1.7l-1.7 1.7zM726.7 512.9l1.7 -1.7l1.7 1.7l-1.7 1.7zM729.3 510.5l1.7 -1.7l1.7 1.7l-1.7 1.7zM732.0 515.7l1.7 -1.7l1.7 1.7l-1.7 1.7zM734.7 504.5l1.7 -1.7l1.7 1.7l-1.7 1.7zM737.4 501.7l1.7 -1.7l1.7 1.7l-1.7 1.7zM740.1 515.2l1.7 -1.7l1.7 1.7l-1.7 1.7zM742.7 508.9l1.7 -1.7l1.7 1.7l-1.7 1.7zM745.4 510.9l1.7 -1.7l1.7 1.7l-1.7 1.7zM748.1 508.4l1.7 -1.7l1.7 1.7l-1.7 1.7zM750.8 513.4l1.7 -1.7l1.7 1.7l-1.7 1.7zM753.5 506.9l1.7 -1.7l1.7 1.7l-1.7 1.7zM756.2 512.1l1.7 -1.7l1.7 1.7l-1.7 1.7zM758.9 505.8l1.7 -1.7l1.7 1.7l-1.7 1.7zM761.6 515.1l1.7 -1.7l1.7 1.7l-1.7 1.7zM764.3 513.7l1.7 -1.7l1.7 1.7l-1.7 1.7zM767.0 499.9l1.7 -1.7l1.7 1.7l-1.7 1.7zM769.7 513.4l1.7 -1.7l1.7 1.7l-1.7 1.7zM772.4 508.8l1.7 -1.7l1.7 1.7l-1.7 1.7zM775.1 524.6l1.7 -1.7l1.7 1.7l-1.7 1.7zM777.8 511.7l1.7 -1.7l1.7 1.7l-1.7 1.7zM780.5 514.8l1.7 -1.7l1.7 1.7l-1.7 1.7zM783.2 509.0l1.7 -1.7l1.7 1.7l-1.7 1.7zM785.9 521.3l1.7 -1.7l1.7 1.7l-1.7 1.7zM788.6 513.9l1.7 -1.7l1.7 1.7l-1.7 1.7zM791.3 513.3l1.7 -1.7l1.7 1.7l-1.7 1.7zM794.0 511.3l1.7 -1.7l1.7 1.7l-1.7 1.7zM796.7 521.3l1.7 -1.7l1.7 1.7l-1.7 1.7zM799.4 527.1l1.7 -1.7l1.7 1.7l-1.7 1.7zM802.1 525.2l1.7 -1.7l1.7 1.7l-1.7 1.7zM804.8 516.4l1.7 -1.7l1.7 1.7l-1.7 1.7zM807.6 516.6l1.7 -1.7l1.7 1.7l-1.7 1.7zM810.3 516.3l1.7 -1.7l1.7 1.7l-1.7 1.7zM813.0 512.0l1.7 -1.7l1.7 1.7l-1.7 1.7zM815.7 510.6l1.7 -1.7l1.7 1.7l-1.7 1.7zM818.4 530.4l1.7 -1.7l1.7 1.7l-1.7 1.7zM821.1 516.7l1.7 -1.7l1.7 1.7l-1.7 1.7zM823.9 531.0l1.7 -1.7l1.7 1.7l-1.7 1.7zM826.6 529.0l1.7 -1.7l1.7 1.7l-1.7 1.7zM829.3 519.8l1.7 -1.7l1.7 1.7l-1.7 1.7zM832.0 517.8l1.7 -1.7l1.7 1.7l-1.7 1.7zM834.8 531.0l1.7 -1.7l1.7 1.7l-1.7 1.7zM837.5 529.1l1.7 -1.7l1.7 1.7l-1.7 1.7zM840.2 516.6l1.7 -1.7l1.7 1.7l-1.7 1.7zM842.9 522.7l1.7 -1.7l1.7 1.7l-1.7 1.7zM845.7 521.4l1.7 -1.7l1.7 1.7l-1.7 1.7zM848.4 522.6l1.7 -1.7l1.7 1.7l-1.7 1.7zM851.1 518.9l1.7 -1.7l1.7 1.7l-1.7 1.7zM853.9 525.7l1.7 -1.7l1.7 1.7l-1.7 1.7zM856.6 533.1l1.7 -1.7l1.7 1.7l-1.7 1.7zM859.3 536.1l1.7 -1.7l1.7 1.7l-1.7 1.7zM862.1 527.4l1.7 -1.7l1.7 1.7l-1.7 1.7zM864.8 524.5l1.7 -1.7l1.7 1.7l-1.7 1.7zM867.5 533.6l1.7 -1.7l1.7 1.7l-1.7 1.7zM870.3 521.6l1.7 -1.7l1.7 1.7l-1.7 1.7zM873.0 535.1l1.7 -1.7l1.7 1.7l-1.7 1.7zM875.8 534.3l1.7 -1.7l1.7 1.7l-1.7 1.7zM878.5 527.7l1.7 -1.7l1.7 1.7l-1.7 1.7zM881.2 531.6l1.7 -1.7l1.7 1.7l-1.7 1.7zM884.0 530.7l1.7 -1.7l1.7 1.7l-1.7 1.7zM886.7 522.5l1.7 -1.7l1.7 1.7l-1.7 1.7zM889.5 532.6l1.7 -1.7l1.7 1.7l-1.7 1.7zM892.2 532.4l1.7 -1.7l1.7 1.7l-1.7 1.7zM895.0 521.9l1.7 -1.7l1.7 1.7l-1.7 1.7zM897.7 526.5l1.7 -1.7l1.7 1.7l-1.7 1.7zM900.4 519.7l1.7 -1.7l1.7 1.7l-1.7 1.7zM903.2 533.1l1.7 -1.7l1.7 1.7l-1.7 1.7zM905.9 533.0l1.7 -1.7l1.7 1.7l-1.7 1.7zM908.7 528.9l1.7 -1.7l1.7 1.7l-1.7 1.7zM911.4 522.2l1.7 -1.7l1.7 1.7l-1.7 1.7zM914.2 532.4l1.7 -1.7l1.7 1.7l-1.7 1.7zM916.9 529.9l1.7 -1.7l1.7 1.7l-1.7 1.7zM919.7 543.7l1.7 -1.7l1.7 1.7l-1.7 1.7zM922.4 529.3l1.7 -1.7l1.7 1.7l-1.7 1.7zM925.2 541.8l1.7 -1.7l1.7 1.7l-1.7 1.7zM927.9 541.5l1.7 -1.7l1.7 1.7l-1.7 1.7zM930.7 553.3l1.7 -1.7l1.7 1.7l-1.7 1.7zM933.4 528.8l1.7 -1.7l1.7 1.7l-1.7 1.7zM936.2 534.2l1.7 -1.7l1.7 1.7l-1.7 1.7zM939.0 538.9l1.7 -1.7l1.7 1.7l-1.7 1.7zM941.7 534.0l1.7 -1.7l1.7 1.7l-1.7 1.7zM944.5 546.1l1.7 -1.7l1.7 1.7l-1.7 1.7zM947.2 555.6l1.7 -1.7l1.7 1.7l-1.7 1.7zM950.0 542.5l1.7 -1.7l1.7 1.7l-1.7 1.7zM952.7 540.5l1.7 -1.7l1.7 1.7l-1.7 1.7zM955.5 538.0l1.7 -1.7l1.7 1.7l-1.7 1.7zM958.3 538.1l1.7 -1.7l1.7 1.7l-1.7 1.7zM961.0 535.6l1.7 -1.7l1.7 1.7l-1.7 1.7zM963.8 549.7l1.7 -1.7l1.7 1.7l-1.7 1.7zM966.5 553.8l1.7 -1.7l1.7 1.7l-1.7 1.7zM969.3 546.7l1.7 -1.7l1.7 1.7l-1.7 1.7zM972.1 531.5l1.7 -1.7l1.7 1.7l-1.7 1.7zM974.8 542.9l1.7 -1.7l1.7 1.7l-1.7 1.7zM977.6 530.2l1.7 -1.7l1.7 1.7l-1.7 1.7zM980.4 538.2l1.7 -1.7l1.7 1.7l-1.7 1.7zM983.1 538.2l1.7 -1.7l1.7 1.7l-1.7 1.7zM985.9 555.7l1.7 -1.7l1.7 1.7l-1.7 1.7zM988.6 532.6l1.7 -1.7l1.7 1.7l-1.7 1.7zM991.4 549.5l1.7 -1.7l1.7 1.7l-1.7 1.7zM994.2 554.2l1.7 -1.7l1.7 1.7l-1.7 1.7zM996.9 542.6l1.7 -1.7l1.7 1.7l-1.7 1.7zM999.7 542.3l1.7 -1.7l1.7 1.7l-1.7 1.7zM1002.5 541.6l1.7 -1.7l1.7 1.7l-1.7 1.7zM1005.2 536.2l1.7 -1.7l1.7 1.7l-1.7 1.7zM1008.0 534.6l1.7 -1.7l1.7 1.7l-1.7 1.7zM1010.8 546.3l1.7 -1.7l1.7 1.7l-1.7 1.7zM1013.6 567.8l1.7 -1.7l1.7 1.7l-1.7 1.7zM1016.3 561.8l1.7 -1.7l1.7 1.7l-1.7 1.7zM1019.1 546.3l1.7 -1.7l1.7 1.7l-1.7 1.7zM1021.9 546.7l1.7 -1.7l1.7 1.7l-1.7 1.7zM1024.6 549.5l1.7 -1.7l1.7 1.7l-1.7 1.7zM1027.4 535.7l1.7 -1.7l1.7 1.7l-1.7 1.7zM1030.2 560.7l1.7 -1.7l1.7 1.7l-1.7 1.7zM1033.0 556.1l1.7 -1.7l1.7 1.7l-1.7 1.7zM1035.7 530.5l1.7 -1.7l1.7 1.7l-1.7 1.7zM1038.5 536.9l1.7 -1.7l1.7 1.7l-1.7 1.7zM1041.3 552.2l1.7 -1.7l1.7 1.7l-1.7 1.7zM1044.0 551.4l1.7 -1.7l1.7 1.7l-1.7 1.7zM1046.8 549.0l1.7 -1.7l1.7 1.7l-1.7 1.7zM1049.6 536.0l1.7 -1.7l1.7 1.7l-1.7 1.7zM1052.4 553.2l1.7 -1.7l1.7 1.7l-1.7 1.7zM1055.1 544.6l1.7 -1.7l1.7 1.7l-1.7 1.7zM1057.9 559.5l1.7 -1.7l1.7 1.7l-1.7 1.7zM1060.7 545.5l1.7 -1.7l1.7 1.7l-1.7 1.7zM1063.5 553.4l1.7 -1.7l1.7 1.7l-1.7 1.7zM1066.2 551.6l1.7 -1.7l1.7 1.7l-1.7 1.7zM1069.0 551.7l1.7 -1.7l1.7 1.7l-1.7 1.7zM1071.8 555.3l1.7 -1.7l1.7 1.7l-1.7 1.7zM1074.6 545.5l1.7 -1.7l1.7 1.7l-1.7 1.7z" fill="#000"/>
<path d="M115.0 590.2H124.6V597.8H115.0zM115.8 571.8H125.4V578.4H115.8zM116.5 553.4H126.2V561.7H116.5zM117.3 535.9H127.0V540.0H117.3zM118.1 519.2H127.7V526.7H118.1zM118.8 506.1H128.5V512.8H118.8zM119.6 494.9H129.3V500.7H119.6zM120.4 485.0H130.1V487.8H120.4zM121.2 475.5H130.8V478.3H121.2zM121.9 466.5H131.6V468.2H121.9zM122.7 457.5H132.4V459.9H122.7zM123.5 448.8H133.2V451.0H123.5zM124.3 439.6H133.9V442.0H124.3zM125.0 430.5H134.7V433.1H125.0zM125.8 421.5H135.5V424.0H125.8zM126.6 412.7H136.2V415.4H126.6zM127.4 404.3H137.0V406.9H127.4zM128.1 396.5H137.8V398.9H128.1zM128.9 389.5H138.6V391.9H128.9zM129.7 383.0H139.3V385.2H129.7zM130.4 376.7H140.1V379.0H130.4zM131.2 370.3H140.9V372.6H131.2zM132.0 364.8H141.7V367.3H132.0zM132.8 360.1H142.4V362.2H132.8zM133.5 356.4H143.2V358.09999999999997H133.5zM134.3 353.5H144.0V355.5H134.3zM135.1 350.7H144.7V353.5H135.1zM135.9 348.5H145.5V350.7H135.9zM136.6 346.5H146.3V349.9H136.6zM137.4 345.4H147.1V349.2H137.4zM138.2 345.5H147.8V349.2H138.2zM138.9 347.3H148.6V352.4H138.9zM139.7 351.2H149.4V356.3H139.7zM140.5 355.2H150.2V359.0H140.5zM141.3 359.3H150.9V364.4H141.3zM142.0 363.7H151.7V370.3H142.0zM142.8 369.2H152.5V375.5H142.8zM143.6 374.1H153.3V381.1H143.6zM144.4 378.4H154.0V384.3H144.4zM145.1 382.3H154.8V388.9H145.1zM145.9 385.0H155.6V392.5H145.9zM146.7 389.7H156.3V395.2H146.7zM147.5 391.6H157.1V400.6H147.5zM148.4 396.0H158.1V404.4H148.4zM149.4 400.0H159.1V408.3H149.4zM150.4 404.2H160.0V411.6H150.4zM151.3 407.0H161.0V412.8H151.3zM152.3 410.0H161.9V415.0H152.3zM153.3 411.5H162.9V419.6H153.3zM154.2 413.7H163.9V421.1H154.2zM155.2 415.6H164.8V423.1H155.2zM156.2 417.4H165.8V425.1H156.2zM157.1 419.3H166.8V427.4H157.1zM158.1 421.2H167.8V428.9H158.1zM159.1 422.8H168.8V429.5H159.1zM160.1 424.4H169.8V432.9H160.1zM161.1 425.8H170.8V433.8H161.1zM162.1 427.4H171.8V435.0H162.1zM163.2 428.7H172.8V437.4H163.2zM164.2 430.5H173.9V438.9H164.2zM165.2 432.0H174.9V440.3H165.2zM166.3 433.7H176.0V439.1H166.3zM167.3 435.7H177.0V440.5H167.3zM168.4 435.9H178.1V443.9H168.4zM169.5 437.8H179.2V444.6H169.5zM170.6 439.6H180.2V447.3H170.6zM171.7 440.8H181.3V448.3H171.7zM172.8 441.1H182.4V447.8H172.8zM173.9 443.4H183.6V449.3H173.9zM175.0 444.8H184.7V452.8H175.0zM176.1 445.1H185.8V453.5H176.1zM177.3 447.0H187.0V453.5H177.3zM178.4 448.3H188.1V456.0H178.4zM179.6 449.7H189.3V457.0H179.6zM180.8 450.9H190.4V458.2H180.8zM181.9 452.7H191.6V459.8H181.9zM183.1 453.1H192.8V460.5H183.1zM184.3 455.4H194.0V460.5H184.3zM185.5 456.3H195.2V464.1H185.5zM186.7 457.8H196.4V465.5H186.7zM187.9 460.1H197.6V468.1H187.9zM189.2 460.6H198.8V468.4H189.2zM190.4 463.4H200.1V470.2H190.4zM191.7 463.7H201.3V471.6H191.7zM192.9 465.7H202.6V471.3H192.9zM194.2 467.3H203.8V475.2H194.2zM195.5 469.2H205.1V476.2H195.5zM196.7 469.4H206.4V476.1H196.7zM198.0 471.6H207.7V479.5H198.0zM199.3 472.9H209.0V480.4H199.3zM200.6 474.2H210.3V481.1H200.6zM202.0 476.5H211.6V483.6H202.0zM203.3 477.7H213.0V485.1H203.3zM204.6 478.5H214.3V487.4H204.6zM206.0 480.5H215.7V488.7H206.0zM207.3 481.8H217.0V489.3H207.3zM208.7 483.9H218.4V492.1H208.7zM210.1 484.7H219.7V493.4H210.1zM211.5 487.1H221.1V494.4H211.5zM212.9 488.3H222.5V496.0H212.9zM214.3 489.8H223.9V497.5H214.3zM215.7 490.0H225.3V499.3H215.7zM217.1 492.0H226.8V498.4H217.1zM218.5 493.5H228.2V501.9H218.5zM220.0 495.5H229.6V503.0H220.0zM221.4 496.6H231.1V503.1H221.4zM222.9 498.3H232.5V503.7H222.9zM224.3 499.5H234.0V507.0H224.3zM225.8 500.9H235.5V508.2H225.8zM227.3 501.5H237.0V509.8H227.3zM228.8 503.3H238.5V511.5H228.8zM230.3 504.8H240.0V511.8H230.3zM231.8 505.5H241.5V514.0H231.8zM233.3 507.5H243.0V514.7H233.3zM234.9 508.5H244.5V516.3H234.9zM236.4 510.0H246.1V515.9H236.4zM238.0 511.4H247.6V518.9H238.0zM239.5 512.6H249.2V518.7H239.5zM241.1 513.5H250.8V518.3H241.1zM242.7 515.2H252.3V522.9H242.7zM244.3 515.8H253.9V522.8H244.3zM245.9 517.8H255.5V522.8H245.9zM247.5 518.5H257.1V524.9H247.5zM249.1 519.0H258.7V526.6H249.1zM250.7 520.5H260.4V526.5H250.7zM252.3 522.0H262.0V529.6H252.3zM254.0 523.6H263.6V530.4H254.0zM255.6 523.2H265.3V531.6H255.6zM257.3 525.7H266.9V533.0H257.3zM258.9 526.0H268.6V534.0H258.9zM260.6 527.1H270.3V536.2H260.6zM262.3 527.7H272.0V536.8H262.3zM264.0 529.0H273.7V533.4H264.0zM265.7 530.5H275.4V539.3H265.7zM267.4 530.8H277.1V538.9H267.4zM269.1 532.2H278.8V540.6H269.1zM270.9 533.0H280.5V541.6H270.9zM272.6 534.2H282.3V543.3H272.6zM274.3 534.9H284.0V545.4H274.3zM276.1 536.3H285.8V544.5H276.1zM277.9 536.5H287.5V546.1H277.9zM279.6 538.2H289.3V546.5H279.6zM281.4 538.8H291.1V550.7H281.4zM283.2 538.8H292.9V551.4H283.2zM285.0 539.7H294.7V553.2H285.0zM286.8 542.3H296.5V550.3H286.8zM288.6 541.7H298.3V554.3H288.6zM290.4 542.4H300.1V555.6H290.4zM292.3 544.2H301.9V557.3H292.3zM294.1 543.9H303.8V559.6H294.1zM296.0 545.2H305.6V554.9H296.0zM297.8 545.6H307.5V560.9H297.8zM299.7 547.1H309.3V560.4H299.7zM301.6 547.6H311.2V563.0H301.6zM303.4 547.5H313.1V563.8H303.4zM305.3 549.1H315.0V564.1H305.3zM307.2 552.3H316.9V562.6H307.2zM309.1 553.1H318.8V568.4H309.1zM311.0 552.0H320.7V567.5H311.0zM313.0 554.6H322.6V565.6H313.0zM314.9 554.5H324.6V569.0H314.9zM316.8 556.5H326.5V573.8H316.8zM318.8 558.8H328.4V568.4H318.8zM320.7 558.9H330.4V573.1H320.7zM322.7 559.6H332.3V576.3H322.7zM324.6 562.1H334.3V576.9H324.6zM326.6 561.8H336.3V580.3H326.6zM328.6 564.9H338.3V581.2H328.6zM330.6 564.5H340.3V581.2H330.6zM332.6 565.8H342.3V583.3H332.6zM334.6 566.6H344.3V581.1H334.6zM336.6 568.4H346.3V580.7H336.6zM338.6 569.2H348.3V585.8H338.6zM340.7 569.4H350.3V579.6H340.7zM342.7 571.4H352.4V590.4H342.7zM344.7 572.9H354.4V589.0H344.7zM346.8 572.1H356.5V588.5H346.8zM348.9 575.0H358.5V588.9H348.9zM350.9 577.4H360.6V594.2H350.9zM353.0 576.5H362.7V596.4H353.0zM355.1 578.8H364.7V597.9H355.1zM357.2 579.3H366.8V594.5H357.2zM359.2 580.8H368.9V593.3H359.2zM361.3 579.3H371.0V600.4H361.3zM363.5 583.0H373.1V601.4H363.5zM365.6 583.4H375.2V601.1H365.6zM367.7 583.9H377.3V605.0H367.7zM369.8 584.7H379.5V604.4H369.8zM371.9 585.8H381.6V605.9H371.9zM374.1 585.6H383.7V603.1H374.1zM376.2 588.4H385.9V608.9H376.2zM378.4 590.6H388.0V609.8H378.4zM380.5 591.3H390.2V609.3H380.5zM382.7 594.7H392.4V610.2H382.7zM384.9 594.8H394.5V610.4H384.9zM387.1 594.3H396.7V611.7H387.1zM389.3 595.1H398.9V613.5H389.3zM391.4 595.9H401.1V614.0H391.4zM393.6 597.2H403.3V613.5H393.6zM395.8 597.5H405.5V617.7H395.8zM398.1 598.3H407.7V613.1H398.1zM400.3 599.0H409.9V617.4H400.3zM402.5 601.5H412.2V620.6H402.5zM404.7 600.7H414.4V622.9H404.7zM407.0 602.8H416.6V621.1H407.0zM409.2 601.1H418.9V625.7H409.2zM411.4 603.2H421.1V624.2H411.4zM413.7 601.3H423.4V627.2H413.7zM416.0 606.1H425.6V626.4H416.0zM418.2 603.4H427.9V628.3H418.2zM420.5 602.5H430.2V621.9H420.5zM422.8 603.8H432.4V630.1H422.8zM425.1 607.2H434.7V626.8H425.1zM427.3 608.5H437.0V630.6H427.3zM429.6 608.6H439.3V630.0H429.6zM431.9 608.4H441.6V633.2H431.9zM434.2 608.4H443.9V631.6H434.2zM436.5 610.6H446.2V628.8H436.5zM438.9 609.6H448.5V633.9H438.9zM441.2 611.3H450.8V627.9H441.2zM443.5 610.9H453.2V630.6H443.5zM445.8 611.6H455.5V632.9H445.8zM448.2 611.8H457.8V635.0H448.2zM450.5 613.3H460.2V635.3H450.5zM452.8 614.7H462.5V630.2H452.8zM455.2 616.2H464.9V630.1H455.2zM457.6 612.8H467.2V638.9H457.6zM459.9 617.1H469.6V640.3H459.9zM462.3 615.0H471.9V641.5H462.3zM464.6 617.6H474.3V640.4H464.6zM467.0 617.7H476.7V641.8H467.0zM469.4 619.6H479.1V643.4H469.4zM471.8 618.6H481.4V633.8H471.8zM474.2 621.7H483.8V637.7H474.2zM476.6 619.5H486.2V641.2H476.6zM479.0 621.1H488.6V645.2H479.0zM481.4 620.8H491.0V644.9H481.4zM483.8 620.5H493.4V646.5H483.8zM486.2 622.1H495.8V639.0H486.2zM488.6 620.9H498.3V647.0H488.6zM491.0 624.6H500.7V645.6H491.0zM493.4 621.6H503.1V646.9H493.4zM495.9 626.6H505.5V647.6H495.9zM498.3 624.0H508.0V646.4H498.3zM500.7 625.5H510.4V645.3H500.7zM503.2 624.7H512.8V643.6H503.2zM505.6 624.5H515.3V649.9H505.6zM508.1 626.5H517.7V645.6H508.1zM510.5 628.5H520.2V650.6H510.5zM513.0 629.5H522.7V650.1H513.0zM515.5 627.1H525.1V653.2H515.5zM517.9 628.1H527.6V653.5H517.9zM520.4 630.8H530.1V656.5H520.4zM522.9 630.7H532.5V656.8H522.9zM525.3 631.5H535.0V651.5H525.3zM527.8 631.5H537.5V652.8H527.8zM530.3 632.2H540.0V648.8H530.3zM532.8 632.8H542.5V658.7H532.8zM535.3 634.8H544.9V657.3H535.3zM537.8 634.1H547.4V660.0H537.8zM540.3 634.8H549.9V657.4H540.3zM542.8 638.7H552.4V658.5H542.8zM545.3 634.5H554.9V655.1H545.3zM547.8 635.9H557.5V664.5H547.8zM550.3 634.8H560.0V657.2H550.3zM552.8 636.6H562.5V664.7H552.8zM555.3 636.8H565.0V666.6H555.3zM557.9 636.1H567.5V661.9H557.9zM560.4 639.8H570.1V667.5H560.4zM562.9 635.8H572.6V664.0H562.9zM565.5 640.3H575.1V666.8H565.5zM568.0 640.9H577.7V669.1H568.0zM570.5 639.1H580.2V666.7H570.5zM573.1 641.5H582.7V664.7H573.1zM575.6 640.8H585.3V670.8H575.6zM578.2 639.9H587.8V670.8H578.2zM580.7 641.5H590.4V670.8H580.7zM583.3 643.5H592.9V662.6H583.3zM585.8 643.6H595.5V664.6H585.8zM588.4 641.7H598.1V670.8H588.4zM591.0 643.9H600.6V670.8H591.0zM593.5 644.3H603.2V670.8H593.5zM596.1 644.8H605.8V670.8H596.1zM598.7 640.7H608.3V670.8H598.7zM601.2 644.6H610.9V670.8H601.2zM603.8 640.9H613.5V670.8H603.8zM606.4 642.7H616.1V670.8H606.4zM609.0 642.9H618.6V670.8H609.0zM611.6 642.6H621.2V670.8H611.6zM614.2 644.2H623.8V670.8H614.2zM616.7 644.0H626.4V668.1H616.7zM619.3 645.3H629.0V670.8H619.3zM621.9 644.5H631.6V670.8H621.9zM624.5 643.7H634.2V670.7H624.5zM627.1 646.5H636.8V670.8H627.1zM629.7 646.4H639.4V670.8H629.7zM632.3 643.7H642.0V666.9H632.3zM634.9 642.8H644.6V670.8H634.9zM637.6 647.2H647.2V670.8H637.6zM640.2 645.3H649.8V670.8H640.2zM642.8 648.5H652.4V670.8H642.8zM645.4 646.1H655.1V670.8H645.4zM648.0 649.5H657.7V670.8H648.0zM650.6 648.9H660.3V670.8H650.6zM653.3 648.1H662.9V670.8H653.3zM655.9 648.6H665.6V667.4H655.9zM658.5 648.3H668.2V670.8H658.5zM661.2 647.4H670.8V670.8H661.2zM663.8 648.3H673.4V670.8H663.8zM666.4 648.9H676.1V670.8H666.4zM669.1 648.8H678.7V670.8H669.1zM671.7 648.8H681.4V670.8H671.7zM674.3 648.7H684.0V670.8H674.3zM677.0 651.3H686.6V670.8H677.0zM679.6 649.3H689.3V670.8H679.6zM682.3 651.1H691.9V670.8H682.3zM684.9 648.1H694.6V670.8H684.9zM687.6 646.7H697.2V670.8H687.6zM690.2 647.6H699.9V670.5H690.2zM692.9 646.7H702.5V670.8H692.9zM695.5 648.4H705.2V670.8H695.5zM698.2 645.8H707.9V670.8H698.2zM722.4 653.8H732.0V670.8H722.4zM745.6 655.3H755.2V670.8H745.6zM845.1 653.2H854.8V670.8H845.1z" fill="#fff"/>
<path d="M118.6 576.0l1.7 -1.7l1.7 1.7l-1.7 1.7zM119.4 564.6l1.7 -1.7l1.7 1.7l-1.7 1.7zM120.1 546.6l1.7 -1.7l1.7 1.7l-1.7 1.7zM120.9 526.2l1.7 -1.7l1.7 1.7l-1.7 1.7zM121.7 505.3l1.7 -1.7l1.7 1.7l-1.7 1.7zM122.5 485.5l1.7 -1.7l1.7 1.7l-1.7 1.7zM123.2 468.7l1.7 -1.7l1.7 1.7l-1.7 1.7zM124.0 453.7l1.7 -1.7l1.7 1.7l-1.7 1.7zM124.8 436.8l1.7 -1.7l1.7 1.7l-1.7 1.7zM125.6 425.7l1.7 -1.7l1.7 1.7l-1.7 1.7zM126.3 413.1l1.7 -1.7l1.7 1.7l-1.7 1.7zM127.1 402.1l1.7 -1.7l1.7 1.7l-1.7 1.7zM127.9 391.9l1.7 -1.7l1.7 1.7l-1.7 1.7zM128.6 382.0l1.7 -1.7l1.7 1.7l-1.7 1.7zM129.4 374.7l1.7 -1.7l1.7 1.7l-1.7 1.7zM130.2 365.0l1.7 -1.7l1.7 1.7l-1.7 1.7zM131.0 359.0l1.7 -1.7l1.7 1.7l-1.7 1.7zM131.7 350.3l1.7 -1.7l1.7 1.7l-1.7 1.7zM132.5 345.7l1.7 -1.7l1.7 1.7l-1.7 1.7zM133.3 338.2l1.7 -1.7l1.7 1.7l-1.7 1.7zM134.1 335.7l1.7 -1.7l1.7 1.7l-1.7 1.7zM134.8 328.9l1.7 -1.7l1.7 1.7l-1.7 1.7zM135.6 322.3l1.7 -1.7l1.7 1.7l-1.7 1.7zM136.4 316.8l1.7 -1.7l1.7 1.7l-1.7 1.7zM137.2 310.2l1.7 -1.7l1.7 1.7l-1.7 1.7zM137.9 304.2l1.7 -1.7l1.7 1.7l-1.7 1.7zM138.7 297.8l1.7 -1.7l1.7 1.7l-1.7 1.7zM139.5 291.0l1.7 -1.7l1.7 1.7l-1.7 1.7zM140.2 285.8l1.7 -1.7l1.7 1.7l-1.7 1.7zM141.0 281.4l1.7 -1.7l1.7 1.7l-1.7 1.7zM141.8 278.2l1.7 -1.7l1.7 1.7l-1.7 1.7zM142.6 274.0l1.7 -1.7l1.7 1.7l-1.7 1.7zM143.3 271.5l1.7 -1.7l1.7 1.7l-1.7 1.7zM144.1 267.0l1.7 -1.7l1.7 1.7l-1.7 1.7zM144.9 264.1l1.7 -1.7l1.7 1.7l-1.7 1.7zM145.7 262.6l1.7 -1.7l1.7 1.7l-1.7 1.7zM146.4 261.7l1.7 -1.7l1.7 1.7l-1.7 1.7zM147.2 259.6l1.7 -1.7l1.7 1.7l-1.7 1.7zM148.0 259.2l1.7 -1.7l1.7 1.7l-1.7 1.7zM148.7 258.2l1.7 -1.7l1.7 1.7l-1.7 1.7zM149.5 256.4l1.7 -1.7l1.7 1.7l-1.7 1.7zM150.3 257.5l1.7 -1.7l1.7 1.7l-1.7 1.7zM151.1 257.7l1.7 -1.7l1.7 1.7l-1.7 1.7zM152.0 257.6l1.7 -1.7l1.7 1.7l-1.7 1.7zM153.0 259.3l1.7 -1.7l1.7 1.7l-1.7 1.7zM154.0 260.0l1.7 -1.7l1.7 1.7l-1.7 1.7zM154.9 261.0l1.7 -1.7l1.7 1.7l-1.7 1.7zM155.9 263.8l1.7 -1.7l1.7 1.7l-1.7 1.7zM156.9 266.7l1.7 -1.7l1.7 1.7l-1.7 1.7zM157.8 269.4l1.7 -1.7l1.7 1.7l-1.7 1.7zM158.8 272.1l1.7 -1.7l1.7 1.7l-1.7 1.7zM159.8 275.8l1.7 -1.7l1.7 1.7l-1.7 1.7zM160.8 278.7l1.7 -1.7l1.7 1.7l-1.7 1.7zM161.7 280.4l1.7 -1.7l1.7 1.7l-1.7 1.7zM162.7 282.7l1.7 -1.7l1.7 1.7l-1.7 1.7zM163.7 284.5l1.7 -1.7l1.7 1.7l-1.7 1.7zM164.8 288.2l1.7 -1.7l1.7 1.7l-1.7 1.7zM165.8 291.1l1.7 -1.7l1.7 1.7l-1.7 1.7zM166.8 291.5l1.7 -1.7l1.7 1.7l-1.7 1.7zM167.8 293.0l1.7 -1.7l1.7 1.7l-1.7 1.7zM168.9 296.3l1.7 -1.7l1.7 1.7l-1.7 1.7zM169.9 297.6l1.7 -1.7l1.7 1.7l-1.7 1.7zM171.0 302.3l1.7 -1.7l1.7 1.7l-1.7 1.7zM172.1 300.6l1.7 -1.7l1.7 1.7l-1.7 1.7zM173.2 305.0l1.7 -1.7l1.7 1.7l-1.7 1.7zM174.3 304.8l1.7 -1.7l1.7 1.7l-1.7 1.7zM175.4 306.5l1.7 -1.7l1.7 1.7l-1.7 1.7zM176.5 307.9l1.7 -1.7l1.7 1.7l-1.7 1.7zM177.6 308.7l1.7 -1.7l1.7 1.7l-1.7 1.7zM178.7 312.0l1.7 -1.7l1.7 1.7l-1.7 1.7zM179.8 310.7l1.7 -1.7l1.7 1.7l-1.7 1.7zM181.0 314.4l1.7 -1.7l1.7 1.7l-1.7 1.7zM182.1 314.8l1.7 -1.7l1.7 1.7l-1.7 1.7zM183.3 315.0l1.7 -1.7l1.7 1.7l-1.7 1.7zM184.5 317.2l1.7 -1.7l1.7 1.7l-1.7 1.7zM185.7 318.0l1.7 -1.7l1.7 1.7l-1.7 1.7zM186.8 320.4l1.7 -1.7l1.7 1.7l-1.7 1.7zM188.0 321.7l1.7 -1.7l1.7 1.7l-1.7 1.7zM189.3 321.3l1.7 -1.7l1.7 1.7l-1.7 1.7zM190.5 323.0l1.7 -1.7l1.7 1.7l-1.7 1.7zM191.7 324.5l1.7 -1.7l1.7 1.7l-1.7 1.7zM192.9 325.9l1.7 -1.7l1.7 1.7l-1.7 1.7zM194.2 327.6l1.7 -1.7l1.7 1.7l-1.7 1.7zM195.4 329.0l1.7 -1.7l1.7 1.7l-1.7 1.7zM196.7 331.1l1.7 -1.7l1.7 1.7l-1.7 1.7zM198.0 332.6l1.7 -1.7l1.7 1.7l-1.7 1.7zM199.2 331.8l1.7 -1.7l1.7 1.7l-1.7 1.7zM200.5 336.2l1.7 -1.7l1.7 1.7l-1.7 1.7zM201.8 335.7l1.7 -1.7l1.7 1.7l-1.7 1.7zM203.1 336.6l1.7 -1.7l1.7 1.7l-1.7 1.7zM204.4 340.4l1.7 -1.7l1.7 1.7l-1.7 1.7zM205.8 340.5l1.7 -1.7l1.7 1.7l-1.7 1.7zM207.1 342.0l1.7 -1.7l1.7 1.7l-1.7 1.7zM208.4 345.4l1.7 -1.7l1.7 1.7l-1.7 1.7zM209.8 345.1l1.7 -1.7l1.7 1.7l-1.7 1.7zM211.2 344.6l1.7 -1.7l1.7 1.7l-1.7 1.7zM212.5 347.4l1.7 -1.7l1.7 1.7l-1.7 1.7zM213.9 349.3l1.7 -1.7l1.7 1.7l-1.7 1.7zM215.3 351.2l1.7 -1.7l1.7 1.7l-1.7 1.7zM216.7 350.0l1.7 -1.7l1.7 1.7l-1.7 1.7zM218.1 354.8l1.7 -1.7l1.7 1.7l-1.7 1.7zM219.5 354.4l1.7 -1.7l1.7 1.7l-1.7 1.7zM220.9 355.4l1.7 -1.7l1.7 1.7l-1.7 1.7zM222.4 357.3l1.7 -1.7l1.7 1.7l-1.7 1.7zM223.8 358.9l1.7 -1.7l1.7 1.7l-1.7 1.7zM225.3 358.9l1.7 -1.7l1.7 1.7l-1.7 1.7zM226.7 360.9l1.7 -1.7l1.7 1.7l-1.7 1.7zM228.2 361.5l1.7 -1.7l1.7 1.7l-1.7 1.7zM229.7 364.2l1.7 -1.7l1.7 1.7l-1.7 1.7zM231.2 364.2l1.7 -1.7l1.7 1.7l-1.7 1.7zM232.7 365.0l1.7 -1.7l1.7 1.7l-1.7 1.7zM234.2 366.2l1.7 -1.7l1.7 1.7l-1.7 1.7zM235.7 369.3l1.7 -1.7l1.7 1.7l-1.7 1.7zM237.2 367.9l1.7 -1.7l1.7 1.7l-1.7 1.7zM238.8 369.1l1.7 -1.7l1.7 1.7l-1.7 1.7zM240.3 372.7l1.7 -1.7l1.7 1.7l-1.7 1.7zM241.9 374.8l1.7 -1.7l1.7 1.7l-1.7 1.7zM243.4 372.3l1.7 -1.7l1.7 1.7l-1.7 1.7zM245.0 376.1l1.7 -1.7l1.7 1.7l-1.7 1.7zM246.6 374.4l1.7 -1.7l1.7 1.7l-1.7 1.7zM248.2 375.9l1.7 -1.7l1.7 1.7l-1.7 1.7zM249.8 378.4l1.7 -1.7l1.7 1.7l-1.7 1.7zM251.4 380.3l1.7 -1.7l1.7 1.7l-1.7 1.7zM253.0 379.5l1.7 -1.7l1.7 1.7l-1.7 1.7zM254.6 381.5l1.7 -1.7l1.7 1.7l-1.7 1.7zM256.3 382.7l1.7 -1.7l1.7 1.7l-1.7 1.7zM257.9 381.1l1.7 -1.7l1.7 1.7l-1.7 1.7zM259.6 382.1l1.7 -1.7l1.7 1.7l-1.7 1.7zM261.2 384.4l1.7 -1.7l1.7 1.7l-1.7 1.7zM262.9 384.1l1.7 -1.7l1.7 1.7l-1.7 1.7zM264.6 387.6l1.7 -1.7l1.7 1.7l-1.7 1.7zM266.3 389.2l1.7 -1.7l1.7 1.7l-1.7 1.7zM268.0 389.0l1.7 -1.7l1.7 1.7l-1.7 1.7zM269.7 390.0l1.7 -1.7l1.7 1.7l-1.7 1.7zM271.4 389.9l1.7 -1.7l1.7 1.7l-1.7 1.7zM273.1 392.4l1.7 -1.7l1.7 1.7l-1.7 1.7zM274.9 392.6l1.7 -1.7l1.7 1.7l-1.7 1.7zM276.6 394.6l1.7 -1.7l1.7 1.7l-1.7 1.7zM278.4 395.4l1.7 -1.7l1.7 1.7l-1.7 1.7zM280.1 396.1l1.7 -1.7l1.7 1.7l-1.7 1.7zM281.9 398.1l1.7 -1.7l1.7 1.7l-1.7 1.7zM283.7 399.1l1.7 -1.7l1.7 1.7l-1.7 1.7zM285.4 401.1l1.7 -1.7l1.7 1.7l-1.7 1.7zM287.2 399.2l1.7 -1.7l1.7 1.7l-1.7 1.7zM289.0 400.6l1.7 -1.7l1.7 1.7l-1.7 1.7zM290.8 400.1l1.7 -1.7l1.7 1.7l-1.7 1.7zM292.7 402.7l1.7 -1.7l1.7 1.7l-1.7 1.7zM294.5 403.5l1.7 -1.7l1.7 1.7l-1.7 1.7zM296.3 403.9l1.7 -1.7l1.7 1.7l-1.7 1.7zM298.2 404.9l1.7 -1.7l1.7 1.7l-1.7 1.7zM300.0 405.8l1.7 -1.7l1.7 1.7l-1.7 1.7zM301.9 404.9l1.7 -1.7l1.7 1.7l-1.7 1.7zM303.8 406.9l1.7 -1.7l1.7 1.7l-1.7 1.7zM305.6 406.4l1.7 -1.7l1.7 1.7l-1.7 1.7zM307.5 408.5l1.7 -1.7l1.7 1.7l-1.7 1.7zM309.4 407.7l1.7 -1.7l1.7 1.7l-1.7 1.7zM311.3 410.0l1.7 -1.7l1.7 1.7l-1.7 1.7zM313.2 410.3l1.7 -1.7l1.7 1.7l-1.7 1.7zM315.1 412.4l1.7 -1.7l1.7 1.7l-1.7 1.7zM317.1 413.0l1.7 -1.7l1.7 1.7l-1.7 1.7zM319.0 413.1l1.7 -1.7l1.7 1.7l-1.7 1.7zM320.9 412.4l1.7 -1.7l1.7 1.7l-1.7 1.7zM322.9 413.1l1.7 -1.7l1.7 1.7l-1.7 1.7zM324.8 414.5l1.7 -1.7l1.7 1.7l-1.7 1.7zM326.8 415.3l1.7 -1.7l1.7 1.7l-1.7 1.7zM328.8 414.1l1.7 -1.7l1.7 1.7l-1.7 1.7zM330.7 417.6l1.7 -1.7l1.7 1.7l-1.7 1.7zM332.7 417.2l1.7 -1.7l1.7 1.7l-1.7 1.7zM334.7 417.3l1.7 -1.7l1.7 1.7l-1.7 1.7zM336.7 418.3l1.7 -1.7l1.7 1.7l-1.7 1.7zM338.7 422.7l1.7 -1.7l1.7 1.7l-1.7 1.7zM340.8 424.0l1.7 -1.7l1.7 1.7l-1.7 1.7zM342.8 421.7l1.7 -1.7l1.7 1.7l-1.7 1.7zM344.8 422.5l1.7 -1.7l1.7 1.7l-1.7 1.7zM346.9 425.8l1.7 -1.7l1.7 1.7l-1.7 1.7zM348.9 425.2l1.7 -1.7l1.7 1.7l-1.7 1.7zM351.0 428.1l1.7 -1.7l1.7 1.7l-1.7 1.7zM353.0 427.3l1.7 -1.7l1.7 1.7l-1.7 1.7zM355.1 432.1l1.7 -1.7l1.7 1.7l-1.7 1.7zM357.2 428.7l1.7 -1.7l1.7 1.7l-1.7 1.7zM359.2 427.8l1.7 -1.7l1.7 1.7l-1.7 1.7zM361.3 430.4l1.7 -1.7l1.7 1.7l-1.7 1.7zM363.4 430.9l1.7 -1.7l1.7 1.7l-1.7 1.7zM365.5 429.7l1.7 -1.7l1.7 1.7l-1.7 1.7zM367.6 430.6l1.7 -1.7l1.7 1.7l-1.7 1.7zM369.8 432.7l1.7 -1.7l1.7 1.7l-1.7 1.7zM371.9 433.7l1.7 -1.7l1.7 1.7l-1.7 1.7zM374.0 432.3l1.7 -1.7l1.7 1.7l-1.7 1.7zM376.1 433.9l1.7 -1.7l1.7 1.7l-1.7 1.7zM378.3 433.6l1.7 -1.7l1.7 1.7l-1.7 1.7zM380.4 434.7l1.7 -1.7l1.7 1.7l-1.7 1.7zM382.6 433.2l1.7 -1.7l1.7 1.7l-1.7 1.7zM384.8 439.6l1.7 -1.7l1.7 1.7l-1.7 1.7zM386.9 433.6l1.7 -1.7l1.7 1.7l-1.7 1.7zM389.1 437.7l1.7 -1.7l1.7 1.7l-1.7 1.7zM391.3 438.5l1.7 -1.7l1.7 1.7l-1.7 1.7zM393.5 441.6l1.7 -1.7l1.7 1.7l-1.7 1.7zM395.7 437.4l1.7 -1.7l1.7 1.7l-1.7 1.7zM397.9 443.3l1.7 -1.7l1.7 1.7l-1.7 1.7zM400.1 441.5l1.7 -1.7l1.7 1.7l-1.7 1.7zM402.3 442.6l1.7 -1.7l1.7 1.7l-1.7 1.7zM404.5 440.9l1.7 -1.7l1.7 1.7l-1.7 1.7zM406.7 444.5l1.7 -1.7l1.7 1.7l-1.7 1.7zM409.0 444.5l1.7 -1.7l1.7 1.7l-1.7 1.7zM411.2 446.9l1.7 -1.7l1.7 1.7l-1.7 1.7zM413.5 444.6l1.7 -1.7l1.7 1.7l-1.7 1.7zM415.7 444.6l1.7 -1.7l1.7 1.7l-1.7 1.7zM418.0 445.2l1.7 -1.7l1.7 1.7l-1.7 1.7zM420.2 444.5l1.7 -1.7l1.7 1.7l-1.7 1.7zM422.5 448.2l1.7 -1.7l1.7 1.7l-1.7 1.7zM424.8 445.8l1.7 -1.7l1.7 1.7l-1.7 1.7zM427.0 449.2l1.7 -1.7l1.7 1.7l-1.7 1.7zM429.3 450.4l1.7 -1.7l1.7 1.7l-1.7 1.7zM431.6 450.6l1.7 -1.7l1.7 1.7l-1.7 1.7zM433.9 447.6l1.7 -1.7l1.7 1.7l-1.7 1.7zM436.2 449.0l1.7 -1.7l1.7 1.7l-1.7 1.7zM438.5 450.5l1.7 -1.7l1.7 1.7l-1.7 1.7zM440.8 454.8l1.7 -1.7l1.7 1.7l-1.7 1.7zM443.1 449.1l1.7 -1.7l1.7 1.7l-1.7 1.7zM445.5 450.1l1.7 -1.7l1.7 1.7l-1.7 1.7zM447.8 454.8l1.7 -1.7l1.7 1.7l-1.7 1.7zM450.1 454.1l1.7 -1.7l1.7 1.7l-1.7 1.7zM452.5 453.4l1.7 -1.7l1.7 1.7l-1.7 1.7zM454.8 453.5l1.7 -1.7l1.7 1.7l-1.7 1.7zM457.2 457.0l1.7 -1.7l1.7 1.7l-1.7 1.7zM459.5 455.6l1.7 -1.7l1.7 1.7l-1.7 1.7zM461.9 458.3l1.7 -1.7l1.7 1.7l-1.7 1.7zM464.2 461.6l1.7 -1.7l1.7 1.7l-1.7 1.7zM466.6 458.5l1.7 -1.7l1.7 1.7l-1.7 1.7zM469.0 460.1l1.7 -1.7l1.7 1.7l-1.7 1.7zM471.3 458.1l1.7 -1.7l1.7 1.7l-1.7 1.7zM473.7 460.4l1.7 -1.7l1.7 1.7l-1.7 1.7zM476.1 456.2l1.7 -1.7l1.7 1.7l-1.7 1.7zM478.5 457.5l1.7 -1.7l1.7 1.7l-1.7 1.7zM480.9 463.7l1.7 -1.7l1.7 1.7l-1.7 1.7zM483.3 465.1l1.7 -1.7l1.7 1.7l-1.7 1.7zM485.7 466.8l1.7 -1.7l1.7 1.7l-1.7 1.7zM488.1 463.7l1.7 -1.7l1.7 1.7l-1.7 1.7zM490.5 458.7l1.7 -1.7l1.7 1.7l-1.7 1.7zM492.9 463.5l1.7 -1.7l1.7 1.7l-1.7 1.7zM495.4 466.6l1.7 -1.7l1.7 1.7l-1.7 1.7zM497.8 462.6l1.7 -1.7l1.7 1.7l-1.7 1.7zM500.2 467.9l1.7 -1.7l1.7 1.7l-1.7 1.7zM502.7 462.0l1.7 -1.7l1.7 1.7l-1.7 1.7zM505.1 464.3l1.7 -1.7l1.7 1.7l-1.7 1.7zM507.5 465.9l1.7 -1.7l1.7 1.7l-1.7 1.7zM510.0 469.1l1.7 -1.7l1.7 1.7l-1.7 1.7zM512.4 472.3l1.7 -1.7l1.7 1.7l-1.7 1.7zM514.9 464.1l1.7 -1.7l1.7 1.7l-1.7 1.7zM517.4 466.3l1.7 -1.7l1.7 1.7l-1.7 1.7zM519.8 465.5l1.7 -1.7l1.7 1.7l-1.7 1.7zM522.3 468.8l1.7 -1.7l1.7 1.7l-1.7 1.7zM524.8 467.4l1.7 -1.7l1.7 1.7l-1.7 1.7zM527.2 469.9l1.7 -1.7l1.7 1.7l-1.7 1.7zM529.7 471.5l1.7 -1.7l1.7 1.7l-1.7 1.7zM532.2 472.6l1.7 -1.7l1.7 1.7l-1.7 1.7zM534.7 468.5l1.7 -1.7l1.7 1.7l-1.7 1.7zM537.2 473.4l1.7 -1.7l1.7 1.7l-1.7 1.7zM539.7 472.5l1.7 -1.7l1.7 1.7l-1.7 1.7zM542.2 469.7l1.7 -1.7l1.7 1.7l-1.7 1.7zM544.7 473.3l1.7 -1.7l1.7 1.7l-1.7 1.7zM547.2 471.9l1.7 -1.7l1.7 1.7l-1.7 1.7zM549.7 471.1l1.7 -1.7l1.7 1.7l-1.7 1.7zM552.2 476.6l1.7 -1.7l1.7 1.7l-1.7 1.7zM554.7 470.9l1.7 -1.7l1.7 1.7l-1.7 1.7zM557.2 479.5l1.7 -1.7l1.7 1.7l-1.7 1.7zM559.7 477.9l1.7 -1.7l1.7 1.7l-1.7 1.7zM562.3 471.0l1.7 -1.7l1.7 1.7l-1.7 1.7zM564.8 471.4l1.7 -1.7l1.7 1.7l-1.7 1.7zM567.3 470.3l1.7 -1.7l1.7 1.7l-1.7 1.7zM569.9 471.7l1.7 -1.7l1.7 1.7l-1.7 1.7zM572.4 474.3l1.7 -1.7l1.7 1.7l-1.7 1.7zM574.9 478.2l1.7 -1.7l1.7 1.7l-1.7 1.7zM577.5 478.0l1.7 -1.7l1.7 1.7l-1.7 1.7zM580.0 483.3l1.7 -1.7l1.7 1.7l-1.7 1.7zM582.6 480.9l1.7 -1.7l1.7 1.7l-1.7 1.7zM585.1 484.1l1.7 -1.7l1.7 1.7l-1.7 1.7zM587.7 484.3l1.7 -1.7l1.7 1.7l-1.7 1.7zM590.2 480.1l1.7 -1.7l1.7 1.7l-1.7 1.7zM592.8 480.7l1.7 -1.7l1.7 1.7l-1.7 1.7zM595.4 480.4l1.7 -1.7l1.7 1.7l-1.7 1.7zM597.9 481.9l1.7 -1.7l1.7 1.7l-1.7 1.7zM600.5 481.2l1.7 -1.7l1.7 1.7l-1.7 1.7zM603.1 489.1l1.7 -1.7l1.7 1.7l-1.7 1.7zM605.7 485.1l1.7 -1.7l1.7 1.7l-1.7 1.7zM608.2 485.6l1.7 -1.7l1.7 1.7l-1.7 1.7zM610.8 479.1l1.7 -1.7l1.7 1.7l-1.7 1.7zM613.4 481.0l1.7 -1.7l1.7 1.7l-1.7 1.7zM616.0 486.2l1.7 -1.7l1.7 1.7l-1.7 1.7zM618.6 489.1l1.7 -1.7l1.7 1.7l-1.7 1.7zM621.2 490.3l1.7 -1.7l1.7 1.7l-1.7 1.7zM623.8 489.5l1.7 -1.7l1.7 1.7l-1.7 1.7zM626.4 485.7l1.7 -1.7l1.7 1.7l-1.7 1.7zM629.0 486.8l1.7 -1.7l1.7 1.7l-1.7 1.7zM631.6 492.4l1.7 -1.7l1.7 1.7l-1.7 1.7zM634.2 490.0l1.7 -1.7l1.7 1.7l-1.7 1.7zM636.8 495.5l1.7 -1.7l1.7 1.7l-1.7 1.7zM639.4 494.7l1.7 -1.7l1.7 1.7l-1.7 1.7zM642.0 490.2l1.7 -1.7l1.7 1.7l-1.7 1.7zM644.6 486.7l1.7 -1.7l1.7 1.7l-1.7 1.7zM647.2 492.7l1.7 -1.7l1.7 1.7l-1.7 1.7zM649.8 488.0l1.7 -1.7l1.7 1.7l-1.7 1.7zM652.5 504.2l1.7 -1.7l1.7 1.7l-1.7 1.7zM655.1 487.7l1.7 -1.7l1.7 1.7l-1.7 1.7zM657.7 491.6l1.7 -1.7l1.7 1.7l-1.7 1.7zM660.3 495.2l1.7 -1.7l1.7 1.7l-1.7 1.7zM663.0 495.9l1.7 -1.7l1.7 1.7l-1.7 1.7zM665.6 496.8l1.7 -1.7l1.7 1.7l-1.7 1.7zM668.2 499.1l1.7 -1.7l1.7 1.7l-1.7 1.7zM670.9 494.2l1.7 -1.7l1.7 1.7l-1.7 1.7zM673.5 497.9l1.7 -1.7l1.7 1.7l-1.7 1.7zM676.1 504.8l1.7 -1.7l1.7 1.7l-1.7 1.7zM678.8 495.2l1.7 -1.7l1.7 1.7l-1.7 1.7zM681.4 502.9l1.7 -1.7l1.7 1.7l-1.7 1.7zM684.1 499.7l1.7 -1.7l1.7 1.7l-1.7 1.7zM686.7 493.4l1.7 -1.7l1.7 1.7l-1.7 1.7zM689.4 504.4l1.7 -1.7l1.7 1.7l-1.7 1.7zM692.0 499.6l1.7 -1.7l1.7 1.7l-1.7 1.7zM694.7 495.7l1.7 -1.7l1.7 1.7l-1.7 1.7zM697.3 505.4l1.7 -1.7l1.7 1.7l-1.7 1.7zM700.0 503.5l1.7 -1.7l1.7 1.7l-1.7 1.7zM702.7 507.2l1.7 -1.7l1.7 1.7l-1.7 1.7zM705.3 506.8l1.7 -1.7l1.7 1.7l-1.7 1.7zM708.0 510.6l1.7 -1.7l1.7 1.7l-1.7 1.7zM710.6 498.7l1.7 -1.7l1.7 1.7l-1.7 1.7zM713.3 510.7l1.7 -1.7l1.7 1.7l-1.7 1.7zM716.0 506.8l1.7 -1.7l1.7 1.7l-1.7 1.7zM718.6 505.0l1.7 -1.7l1.7 1.7l-1.7 1.7zM721.3 514.1l1.7 -1.7l1.7 1.7l-1.7 1.7zM724.0 507.5l1.7 -1.7l1.7 1.7l-1.7 1.7zM726.7 512.9l1.7 -1.7l1.7 1.7l-1.7 1.7zM729.3 510.5l1.7 -1.7l1.7 1.7l-1.7 1.7zM732.0 515.7l1.7 -1.7l1.7 1.7l-1.7 1.7zM734.7 504.5l1.7 -1.7l1.7 1.7l-1.7 1.7zM737.4 501.7l1.7 -1.7l1.7 1.7l-1.7 1.7zM740.1 515.2l1.7 -1.7l1.7 1.7l-1.7 1.7zM742.7 508.9l1.7 -1.7l1.7 1.7l-1.7 1.7zM745.4 510.9l1.7 -1.7l1.7 1.7l-1.7 1.7zM748.1 508.4l1.7 -1.7l1.7 1.7l-1.7 1.7zM750.8 513.4l1.7 -1.7l1.7 1.7l-1.7 1.7zM753.5 506.9l1.7 -1.7l1.7 1.7l-1.7 1.7zM756.2 512.1l1.7 -1.7l1.7 1.7l-1.7 1.7zM758.9 505.8l1.7 -1.7l1.7 1.7l-1.7 1.7zM761.6 515.1l1.7 -1.7l1.7 1.7l-1.7 1.7zM764.3 513.7l1.7 -1.7l1.7 1.7l-1.7 1.7zM767.0 499.9l1.7 -1.7l1.7 1.7l-1.7 1.7zM769.7 513.4l1.7 -1.7l1.7 1.7l-1.7 1.7zM772.4 508.8l1.7 -1.7l1.7 1.7l-1.7 1.7zM775.1 524.6l1.7 -1.7l1.7 1.7l-1.7 1.7zM777.8 511.7l1.7 -1.7l1.7 1.7l-1.7 1.7zM780.5 514.8l1.7 -1.7l1.7 1.7l-1.7 1.7zM783.2 509.0l1.7 -1.7l1.7 1.7l-1.7 1.7zM785.9 521.3l1.7 -1.7l1.7 1.7l-1.7 1.7zM788.6 513.9l1.7 -1.7l1.7 1.7l-1.7 1.7zM791.3 513.3l1.7 -1.7l1.7 1.7l-1.7 1.7zM794.0 511.3l1.7 -1.7l1.7 1.7l-1.7 1.7zM796.7 521.3l1.7 -1.7l1.7 1.7l-1.7 1.7zM799.4 527.1l1.7 -1.7l1.7 1.7l-1.7 1.7zM802.1 525.2l1.7 -1.7l1.7 1.7l-1.7 1.7zM804.8 516.4l1.7 -1.7l1.7 1.7l-1.7 1.7zM807.6 516.6l1.7 -1.7l1.7 1.7l-1.7 1.7zM810.3 516.3l1.7 -1.7l1.7 1.7l-1.7 1.7zM813.0 512.0l1.7 -1.7l1.7 1.7l-1.7 1.7zM815.7 510.6l1.7 -1.7l1.7 1.7l-1.7 1.7zM818.4 530.4l1.7 -1.7l1.7 1.7l-1.7 1.7zM821.1 516.7l1.7 -1.7l1.7 1.7l-1.7 1.7zM823.9 531.0l1.7 -1.7l1.7 1.7l-1.7 1.7zM826.6 529.0l1.7 -1.7l1.7 1.7l-1.7 1.7zM829.3 519.8l1.7 -1.7l1.7 1.7l-1.7 1.7zM832.0 517.8l1.7 -1.7l1.7 1.7l-1.7 1.7zM834.8 531.0l1.7 -1.7l1.7 1.7l-1.7 1.7zM837.5 529.1l1.7 -1.7l1.7 1.7l-1.7 1.7zM840.2 516.6l1.7 -1.7l1.7 1.7l-1.7 1.7zM842.9 522.7l1.7 -1.7l1.7 1.7l-1.7 1.7zM845.7 521.4l1.7 -1.7l1.7 1.7l-1.7 1.7zM848.4 522.6l1.7 -1.7l1.7 1.7l-1.7 1.7zM851.1 518.9l1.7 -1.7l1.7 1.7l-1.7 1.7zM853.9 525.7l1.7 -1.7l1.7 1.7l-1.7 1.7zM856.6 533.1l1.7 -1.7l1.7 1.7l-1.7 1.7zM859.3 536.1l1.7 -1.7l1.7 1.7l-1.7 1.7zM862.1 527.4l1.7 -1.7l1.7 1.7l-1.7 1.7zM864.8 524.5l1.7 -1.7l1.7 1.7l-1.7 1.7zM867.5 533.6l1.7 -1.7l1.7 1.7l-1.7 1.7zM870.3 521.6l1.7 -1.7l1.7 1.7l-1.7 1.7zM873.0 535.1l1.7 -1.7l1.7 1.7l-1.7 1.7zM875.8 534.3l1.7 -1.7l1.7 1.7l-1.7 1.7zM878.5 527.7l1.7 -1.7l1.7 1.7l-1.7 1.7zM881.2 531.6l1.7 -1.7l1.7 1.7l-1.7 1.7zM884.0 530.7l1.7 -1.7l1.7 1.7l-1.7 1.7zM886.7 522.5l1.7 -1.7l1.7 1.7l-1.7 1.7zM889.5 532.6l1.7 -1.7l1.7 1.7l-1.7 1.7zM892.2 532.4l1.7 -1.7l1.7 1.7l-1.7 1.7zM895.0 521.9l1.7 -1.7l1.7 1.7l-1.7 1.7zM897.7 526.5l1.7 -1.7l1.7 1.7l-1.7 1.7zM900.4 519.7l1.7 -1.7l1.7 1.7l-1.7 1.7zM903.2 533.1l1.7 -1.7l1.7 1.7l-1.7 1.7zM905.9 533.0l1.7 -1.7l1.7 1.7l-1.7 1.7zM908.7 528.9l1.7 -1.7l1.7 1.7l-1.7 1.7zM911.4 522.2l1.7 -1.7l1.7 1.7l-1.7 1.7zM914.2 532.4l1.7 -1.7l1.7 1.7l-1.7 1.7zM916.9 529.9l1.7 -1.7l1.7 1.7l-1.7 1.7zM919.7 543.7l1.7 -1.7l1.7 1.7l-1.7 1.7zM922.4 529.3l1.7 -1.7l1.7 1.7l-1.7 1.7zM925.2 541.8l1.7 -1.7l1.7 1.7l-1.7 1.7zM927.9 541.5l1.7 -1.7l1.7 1.7l-1.7 1.7zM930.7 553.3l1.7 -1.7l1.7 1.7l-1.7 1.7zM933.4 528.8l1.7 -1.7l1.7 1.7l-1.7 1.7zM936.2 534.2l1.7 -1.7l1.7 1.7l-1.7 1.7zM939.0 538.9l1.7 -1.7l1.7 1.7l-1.7 1.7zM941.7 534.0l1.7 -1.7l1.7 1.7l-1.7 1.7zM944.5 546.1l1.7 -1.7l1.7 1.7l-1.7 1.7zM947.2 555.6l1.7 -1.7l1.7 1.7l-1.7 1.7zM950.0 542.5l1.7 -1.7l1.7 1.7l-1.7 1.7zM952.7 540.5l1.7 -1.7l1.7 1.7l-1.7 1.7zM955.5 538.0l1.7 -1.7l1.7 1.7l-1.7 1.7zM958.3 538.1l1.7 -1.7l1.7 1.7l-1.7 1.7zM961.0 535.6l1.7 -1.7l1.7 1.7l-1.7 1.7zM963.8 549.7l1.7 -1.7l1.7 1.7l-1.7 1.7zM966.5 553.8l1.7 -1.7l1.7 1.7l-1.7 1.7zM969.3 546.7l1.7 -1.7l1.7 1.7l-1.7 1.7zM972.1 531.5l1.7 -1.7l1.7 1.7l-1.7 1.7zM974.8 542.9l1.7 -1.7l1.7 1.7l-1.7 1.7zM977.6 530.2l1.7 -1.7l1.7 1.7l-1.7 1.7zM980.4 538.2l1.7 -1.7l1.7 1.7l-1.7 1.7zM983.1 538.2l1.7 -1.7l1.7 1.7l-1.7 1.7zM985.9 555.7l1.7 -1.7l1.7 1.7l-1.7 1.7zM988.6 532.6l1.7 -1.7l1.7 1.7l-1.7 1.7zM991.4 549.5l1.7 -1.7l1.7 1.7l-1.7 1.7zM994.2 554.2l1.7 -1.7l1.7 1.7l-1.7 1.7zM996.9 542.6l1.7 -1.7l1.7 1.7l-1.7 1.7zM999.7 542.3l1.7 -1.7l1.7 1.7l-1.7 1.7zM1002.5 541.6l1.7 -1.7l1.7 1.7l-1.7 1.7zM1005.2 536.2l1.7 -1.7l1.7 1.7l-1.7 1.7zM1008.0 534.6l1.7 -1.7l1.7 1.7l-1.7 1.7zM1010.8 546.3l1.7 -1.7l1.7 1.7l-1.7 1.7zM1013.6 567.8l1.7 -1.7l1.7 1.7l-1.7 1.7zM1016.3 561.8l1.7 -1.7l1.7 1.7l-1.7 1.7zM1019.1 546.3l1.7 -1.7l1.7 1.7l-1.7 1.7zM1021.9 546.7l1.7 -1.7l1.7 1.7l-1.7 1.7zM1024.6 549.5l1.7 -1.7l1.7 1.7l-1.7 1.7zM1027.4 535.7l1.7 -1.7l1.7 1.7l-1.7 1.7zM1030.2 560.7l1.7 -1.7l1.7 1.7l-1.7 1.7zM1033.0 556.1l1.7 -1.7l1.7 1.7l-1.7 1.7zM1035.7 530.5l1.7 -1.7l1.7 1.7l-1.7 1.7zM1038.5 536.9l1.7 -1.7l1.7 1.7l-1.7 1.7zM1041.3 552.2l1.7 -1.7l1.7 1.7l-1.7 1.7zM1044.0 551.4l1.7 -1.7l1.7 1.7l-1.7 1.7zM1046.8 549.0l1.7 -1.7l1.7 1.7l-1.7 1.7zM1049.6 536.0l1.7 -1.7l1.7 1.7l-1.7 1.7zM1052.4 553.2l1.7 -1.7l1.7 1.7l-1.7 1.7zM1055.1 544.6l1.7 -1.7l1.7 1.7l-1.7 1.7zM1057.9 559.5l1.7 -1.7l1.7 1.7l-1.7 1.7zM1060.7 545.5l1.7 -1.7l1.7 1.7l-1.7 1.7zM1063.5 553.4l1.7 -1.7l1.7 1.7l-1.7 1.7zM1066.2 551.6l1.7 -1.7l1.7 1.7l-1.7 1.7zM1069.0 551.7l1.7 -1.7l1.7 1.7l-1.7 1.7zM1071.8 555.3l1.7 -1.7l1.7 1.7l-1.7 1.7zM1074.6 545.5l1.7 -1.7l1.7 1.7l-1.7 1.7z" fill="#000"/>
<path d="M115.0 590.2H124.6V597.8H115.0zM115.8 571.8H125.4V578.4H115.8zM116.5 553.4H126.2V561.7H116.5zM117.3 535.9H127.0V540.0H117.3zM118.1 519.2H127.7V526.7H118.1zM118.8 506.1H128.5V512.8H118.8zM119.6 494.9H129.3V500.7H119.6zM120.4 485.0H130.1V487.8H120.4zM121.2 475.5H130.8V478.3H121.2zM121.9 466.5H131.6V468.2H121.9zM122.7 457.5H132.4V459.9H122.7zM123.5 448.8H133.2V451.0H123.5zM124.3 439.6H133.9V442.0H124.3zM125.0 430.5H134.7V433.1H125.0zM125.8 421.5H135.5V424.0H125.8zM126.6 412.7H136.2V415.4H126.6zM127.4 404.3H137.0V406.9H127.4zM128.1 396.5H137.8V398.9H128.1zM128.9 389.5H138.6V391.9H128.9zM129.7 383.0H139.3V385.2H129.7zM130.4 376.7H140.1V379.0H130.4zM131.2 370.3H140.9V372.6H131.2zM132.0 364.8H141.7V367.3H132.0zM132.8 360.1H142.4V362.2H132.8zM133.5 356.4H143.2V358.09999999999997H133.5zM134.3 353.5H144.0V355.5H134.3zM135.1 350.7H144.7V353.5H135.1zM135.9 348.5H145.5V350.7H135.9zM136.6 346.5H146.3V349.9H136.6zM137.4 345.4H147.1V349.2H137.4zM138.2 345.5H147.8V349.2H138.2zM138.9 347.3H148.6V352.4H138.9zM139.7 351.2H149.4V356.3H139.7zM140.5 355.2H150.2V359.0H140.5zM141.3 359.3H150.9V364.4H141.3zM142.0 363.7H151.7V370.3H142.0zM142.8 369.2H152.5V375.5H142.8zM143.6 374.1H153.3V381.1H143.6zM144.4 378.4H154.0V384.3H144.4zM145.1 382.3H154.8V388.9H145.1zM145.9 385.0H155.6V392.5H145.9zM146.7 389.7H156.3V395.2H146.7zM147.5 391.6H157.1V400.6H147.5zM148.4 396.0H158.1V404.4H148.4zM149.4 400.0H159.1V408.3H149.4zM150.4 404.2H160.0V411.6H150.4zM151.3 407.0H161.0V412.8H151.3zM152.3 410.0H161.9V415.0H152.3zM153.3 411.5H162.9V419.6H153.3zM154.2 413.7H163.9V421.1H154.2zM155.2 415.6H164.8V423.1H155.2zM156.2 417.4H165.8V425.1H156.2zM157.1 419.3H166.8V427.4H157.1zM158.1 421.2H167.8V428.9H158.1zM159.1 422.8H168.8V429.5H159.1zM160.1 424.4H169.8V432.9H160.1zM161.1 425.8H170.8V433.8H161.1zM162.1 427.4H171.8V435.0H162.1zM163.2 428.7H172.8V437.4H163.2zM164.2 430.5H173.9V438.9H164.2zM165.2 432.0H174.9V440.3H165.2zM166.3 433.7H176.0V439.1H166.3zM167.3 435.7H177.0V440.5H167.3zM168.4 435.9H178.1V443.9H168.4zM169.5 437.8H179.2V444.6H169.5zM170.6 439.6H180.2V447.3H170.6zM171.7 440.8H181.3V448.3H171.7zM172.8 441.1H182.4V447.8H172.8zM173.9 443.4H183.6V449.3H173.9zM175.0 444.8H184.7V452.8H175.0zM176.1 445.1H185.8V453.5H176.1zM177.3 447.0H187.0V453.5H177.3zM178.4 448.3H188.1V456.0H178.4zM179.6 449.7H189.3V457.0H179.6zM180.8 450.9H190.4V458.2H180.8zM181.9 452.7H191.6V459.8H181.9zM183.1 453.1H192.8V460.5H183.1zM184.3 455.4H194.0V460.5H184.3zM185.5 456.3H195.2V464.1H185.5zM186.7 457.8H196.4V465.5H186.7zM187.9 460.1H197.6V468.1H187.9zM189.2 460.6H198.8V468.4H189.2zM190.4 463.4H200.1V470.2H190.4zM191.7 463.7H201.3V471.6H191.7zM192.9 465.7H202.6V471.3H192.9zM194.2 467.3H203.8V475.2H194.2zM195.5 469.2H205.1V476.2H195.5zM196.7 469.4H206.4V476.1H196.7zM198.0 471.6H207.7V479.5H198.0zM199.3 472.9H209.0V480.4H199.3zM200.6 474.2H210.3V481.1H200.6zM202.0 476.5H211.6V483.6H202.0zM203.3 477.7H213.0V485.1H203.3zM204.6 478.5H214.3V487.4H204.6zM206.0 480.5H215.7V488.7H206.0zM207.3 481.8H217.0V489.3H207.3zM208.7 483.9H218.4V492.1H208.7zM210.1 484.7H219.7V493.4H210.1zM211.5 487.1H221.1V494.4H211.5zM212.9 488.3H222.5V496.0H212.9zM214.3 489.8H223.9V497.5H214.3zM215.7 490.0H225.3V499.3H215.7zM217.1 492.0H226.8V498.4H217.1zM218.5 493.5H228.2V501.9H218.5zM220.0 495.5H229.6V503.0H220.0zM221.4 496.6H231.1V503.1H221.4zM222.9 498.3H232.5V503.7H222.9zM224.3 499.5H234.0V507.0H224.3zM225.8 500.9H235.5V508.2H225.8zM227.3 501.5H237.0V509.8H227.3zM228.8 503.3H238.5V511.5H228.8zM230.3 504.8H240.0V511.8H230.3zM231.8 505.5H241.5V514.0H231.8zM233.3 507.5H243.0V514.7H233.3zM234.9 508.5H244.5V516.3H234.9zM236.4 510.0H246.1V515.9H236.4zM238.0 511.4H247.6V518.9H238.0zM239.5 512.6H249.2V518.7H239.5zM241.1 513.5H250.8V518.3H241.1zM242.7 515.2H252.3V522.9H242.7zM244.3 515.8H253.9V522.8H244.3zM245.9 517.8H255.5V522.8H245.9zM247.5 518.5H257.1V524.9H247.5zM249.1 519.0H258.7V526.6H249.1zM250.7 520.5H260.4V526.5H250.7zM252.3 522.0H262.0V529.6H252.3zM254.0 523.6H263.6V530.4H254.0zM255.6 523.2H265.3V531.6H255.6zM257.3 525.7H266.9V533.0H257.3zM258.9 526.0H268.6V534.0H258.9zM260.6 527.1H270.3V536.2H260.6zM262.3 527.7H272.0V536.8H262.3zM264.0 529.0H273.7V533.4H264.0zM265.7 530.5H275.4V539.3H265.7zM267.4 530.8H277.1V538.9H267.4zM269.1 532.2H278.8V540.6H269.1zM270.9 533.0H280.5V541.6H270.9zM272.6 534.2H282.3V543.3H272.6zM274.3 534.9H284.0V545.4H274.3zM276.1 536.3H285.8V544.5H276.1zM277.9 536.5H287.5V546.1H277.9zM279.6 538.2H289.3V546.5H279.6zM281.4 538.8H291.1V550.7H281.4zM283.2 538.8H292.9V551.4H283.2zM285.0 539.7H294.7V553.2H285.0zM286.8 542.3H296.5V550.3H286.8zM288.6 541.7H298.3V554.3H288.6zM290.4 542.4H300.1V555.6H290.4zM292.3 544.2H301.9V557.3H292.3zM294.1 543.9H303.8V559.6H294.1zM296.0 545.2H305.6V554.9H296.0zM297.8 545.6H307.5V560.9H297.8zM299.7 547.1H309.3V560.4H299.7zM301.6 547.6H311.2V563.0H301.6zM303.4 547.5H313.1V563.8H303.4zM305.3 549.1H315.0V564.1H305.3zM307.2 552.3H316.9V562.6H307.2zM309.1 553.1H318.8V568.4H309.1zM311.0 552.0H320.7V567.5H311.0zM313.0 554.6H322.6V565.6H313.0zM314.9 554.5H324.6V569.0H314.9zM316.8 556.5H326.5V573.8H316.8zM318.8 558.8H328.4V568.4H318.8zM320.7 558.9H330.4V573.1H320.7zM322.7 559.6H332.3V576.3H322.7zM324.6 562.1H334.3V576.9H324.6zM326.6 561.8H336.3V580.3H326.6zM328.6 564.9H338.3V581.2H328.6zM330.6 564.5H340.3V581.2H330.6zM332.6 565.8H342.3V583.3H332.6zM334.6 566.6H344.3V581.1H334.6zM336.6 568.4H346.3V580.7H336.6zM338.6 569.2H348.3V585.8H338.6zM340.7 569.4H350.3V579.6H340.7zM342.7 571.4H352.4V590.4H342.7zM344.7 572.9H354.4V589.0H344.7zM346.8 572.1H356.5V588.5H346.8zM348.9 575.0H358.5V588.9H348.9zM350.9 577.4H360.6V594.2H350.9zM353.0 576.5H362.7V596.4H353.0zM355.1 578.8H364.7V597.9H355.1zM357.2 579.3H366.8V594.5H357.2zM359.2 580.8H368.9V593.3H359.2zM361.3 579.3H371.0V600.4H361.3zM363.5 583.0H373.1V601.4H363.5zM365.6 583.4H375.2V601.1H365.6zM367.7 583.9H377.3V605.0H367.7zM369.8 584.7H379.5V604.4H369.8zM371.9 585.8H381.6V605.9H371.9zM374.1 585.6H383.7V603.1H374.1zM376.2 588.4H385.9V608.9H376.2zM378.4 590.6H388.0V609.8H378.4zM380.5 591.3H390.2V609.3H380.5zM382.7 594.7H392.4V610.2H382.7zM384.9 594.8H394.5V610.4H384.9zM387.1 594.3H396.7V611.7H387.1zM389.3 595.1H398.9V613.5H389.3zM391.4 595.9H401.1V614.0H391.4zM393.6 597.2H403.3V613.5H393.6zM395.8 597.5H405.5V617.7H395.8zM398.1 598.3H407.7V613.1H398.1zM400.3 599.0H409.9V617.4H400.3zM402.5 601.5H412.2V620.6H402.5zM404.7 600.7H414.4V622.9H404.7zM407.0 602.8H416.6V621.1H407.0zM409.2 601.1H418.9V625.7H409.2zM411.4 603.2H421.1V624.2H411.4zM413.7 601.3H423.4V627.2H413.7zM416.0 606.1H425.6V626.4H416.0zM418.2 603.4H427.9V628.3H418.2zM420.5 602.5H430.2V621.9H420.5zM422.8 603.8H432.4V630.1H422.8zM425.1 607.2H434.7V626.8H425.1zM427.3 608.5H437.0V630.6H427.3zM429.6 608.6H439.3V630.0H429.6zM431.9 608.4H441.6V633.2H431.9zM434.2 608.4H443.9V631.6H434.2zM436.5 610.6H446.2V628.8H436.5zM438.9 609.6H448.5V633.9H438.9zM441.2 611.3H450.8V627.9H441.2zM443.5 610.9H453.2V630.6H443.5zM445.8 611.6H455.5V632.9H445.8zM448.2 611.8H457.8V635.0H448.2zM450.5 613.3H460.2V635.3H450.5zM452.8 614.7H462.5V630.2H452.8zM455.2 616.2H464.9V630.1H455.2zM457.6 612.8H467.2V638.9H457.6zM459.9 617.1H469.6V640.3H459.9zM462.3 615.0H471.9V641.5H462.3zM464.6 617.6H474.3V640.4H464.6zM467.0 617.7H476.7V641.8H467.0zM469.4 619.6H479.1V643.4H469.4zM471.8 618.6H481.4V633.8H471.8zM474.2 621.7H483.8V637.7H474.2zM476.6 619.5H486.2V641.2H476.6zM479.0 621.1H488.6V645.2H479.0zM481.4 620.8H491.0V644.9H481.4zM483.8 620.5H493.4V646.5H483.8zM486.2 622.1H495.8V639.0H486.2zM488.6 620.9H498.3V647.0H488.6zM491.0 624.6H500.7V645.6H491.0zM493.4 621.6H503.1V646.9H493.4zM495.9 626.6H505.5V647.6H495.9zM498.3 624.0H508.0V646.4H498.3zM500.7 625.5H510.4V645.3H500.7zM503.2 624.7H512.8V643.6H503.2zM505.6 624.5H515.3V649.9H505.6zM508.1 626.5H517.7V645.6H508.1zM510.5 628.5H520.2V650.6H510.5zM513.0 629.5H522.7V650.1H513.0zM515.5 627.1H525.1V653.2H515.5zM517.9 628.1H527.6V653.5H517.9zM520.4 630.8H530.1V656.5H520.4zM522.9 630.7H532.5V656.8H522.9zM525.3 631.5H535.0V651.5H525.3zM527.8 631.5H537.5V652.8H527.8zM530.3 632.2H540.0V648.8H530.3zM532.8 632.8H542.5V658.7H532.8zM535.3 634.8H544.9V657.3H535.3zM537.8 634.1H547.4V660.0H537.8zM540.3 634.8H549.9V657.4H540.3zM542.8 638.7H552.4V658.5H542.8zM545.3 634.5H554.9V655.1H545.3zM547.8 635.9H557.5V664.5H547.8zM550.3 634.8H560.0V657.2H550.3zM552.8 636.6H562.5V664.7H552.8zM555.3 636.8H565.0V666.6H555.3zM557.9 636.1H567.5V661.9H557.9zM560.4 639.8H570.1V667.5H560.4zM562.9 635.8H572.6V664.0H562.9zM565.5 640.3H575.1V666.8H565.5zM568.0 640.9H577.7V669.1H568.0zM570.5 639.1H580.2V666.7H570.5zM573.1 641.5H582.7V664.7H573.1zM575.6 640.8H585.3V670.8H575.6zM578.2 639.9H587.8V670.8H578.2zM580.7 641.5H590.4V670.8H580.7zM583.3 643.5H592.9V662.6H583.3zM585.8 643.6H595.5V664.6H585.8zM588.4 641.7H598.1V670.8H588.4zM591.0 643.9H600.6V670.8H591.0zM593.5 644.3H603.2V670.8H593.5zM596.1 644.8H605.8V670.8H596.1zM598.7 640.7H608.3V670.8H598.7zM601.2 644.6H610.9V670.8H601.2zM603.8 640.9H613.5V670.8H603.8zM606.4 642.7H616.1V670.8H606.4zM609.0 642.9H618.6V670.8H609.0zM611.6 642.6H621.2V670.8H611.6zM614.2 644.2H623.8V670.8H614.2zM616.7 644.0H626.4V668.1H616.7zM619.3 645.3H629.0V670.8H619.3zM621.9 644.5H631.6V670.8H621.9zM624.5 643.7H634.2V670.7H624.5zM627.1 646.5H636.8V670.8H627.1zM629.7 646.4H639.4V670.8H629.7zM632.3 643.7H642.0V666.9H632.3zM634.9 642.8H644.6V670.8H634.9zM637.6 647.2H647.2V670.8H637.6zM640.2 645.3H649.8V670.8H640.2zM642.8 648.5H652.4V670.8H642.8zM645.4 646.1H655.1V670.8H645.4zM648.0 649.5H657.7V670.8H648.0zM650.6 648.9H660.3V670.8H650.6zM653.3 648.1H662.9V670.8H653.3zM655.9 648.6H665.6V667.4H655.9zM658.5 648.3H668.2V670.8H658.5zM661.2 647.4H670.8V670.8H661.2zM663.8 648.3H673.4V670.8H663.8zM666.4 648.9H676.1V670.8H666.4zM669.1 648.8H678.7V670.8H669.1zM671.7 648.8H681.4V670.8H671.7zM674.3 648.7H684.0V670.8H674.3zM677.0 651.3H686.6V670.8H677.0zM679.6 649.3H689.3V670.8H679.6zM682.3 651.1H691.9V670.8H682.3zM684.9 648.1H694.6V670.8H684.9zM687.6 646.7H697.2V670.8H687.6zM690.2 647.6H699.9V670.5H690.2zM692.9 646.7H702.5V670.8H692.9zM695.5 648.4H705.2V670.8H695.5zM698.2 645.8H707.9V670.8H698.2zM722.4 653.8H732.0V670.8H722.4zM745.6 655.3H755.2V670.8H745.6zM845.1 653.2H854.8V670.8H845.1z" fill="url(#pb)"/>
<path d="M118.1 593.5l1.7 -1.7l1.7 1.7l-1.7 1.7zM118.9 577.4l1.7 -1.7l1.7 1.7l-1.7 1.7zM119.7 558.4l1.7 -1.7l1.7 1.7l-1.7 1.7zM120.4 539.5l1.7 -1.7l1.7 1.7l-1.7 1.7zM121.2 521.3l1.7 -1.7l1.7 1.7l-1.7 1.7zM122.0 508.6l1.7 -1.7l1.7 1.7l-1.7 1.7zM122.8 498.4l1.7 -1.7l1.7 1.7l-1.7 1.7zM123.5 486.5l1.7 -1.7l1.7 1.7l-1.7 1.7zM124.3 477.1l1.7 -1.7l1.7 1.7l-1.7 1.7zM125.1 467.4l1.7 -1.7l1.7 1.7l-1.7 1.7zM125.8 458.4l1.7 -1.7l1.7 1.7l-1.7 1.7zM126.6 449.7l1.7 -1.7l1.7 1.7l-1.7 1.7zM127.4 440.6l1.7 -1.7l1.7 1.7l-1.7 1.7zM128.2 431.5l1.7 -1.7l1.7 1.7l-1.7 1.7zM128.9 422.2l1.7 -1.7l1.7 1.7l-1.7 1.7zM129.7 414.4l1.7 -1.7l1.7 1.7l-1.7 1.7zM130.5 405.4l1.7 -1.7l1.7 1.7l-1.7 1.7zM131.3 397.7l1.7 -1.7l1.7 1.7l-1.7 1.7zM132.0 391.0l1.7 -1.7l1.7 1.7l-1.7 1.7zM132.8 384.2l1.7 -1.7l1.7 1.7l-1.7 1.7zM133.6 377.8l1.7 -1.7l1.7 1.7l-1.7 1.7zM134.3 371.6l1.7 -1.7l1.7 1.7l-1.7 1.7zM135.1 366.1l1.7 -1.7l1.7 1.7l-1.7 1.7zM135.9 361.4l1.7 -1.7l1.7 1.7l-1.7 1.7zM136.7 357.6l1.7 -1.7l1.7 1.7l-1.7 1.7zM137.4 354.7l1.7 -1.7l1.7 1.7l-1.7 1.7zM138.2 352.5l1.7 -1.7l1.7 1.7l-1.7 1.7zM139.0 349.7l1.7 -1.7l1.7 1.7l-1.7 1.7zM139.8 347.3l1.7 -1.7l1.7 1.7l-1.7 1.7zM140.5 347.1l1.7 -1.7l1.7 1.7l-1.7 1.7zM141.3 347.7l1.7 -1.7l1.7 1.7l-1.7 1.7zM142.1 349.1l1.7 -1.7l1.7 1.7l-1.7 1.7zM142.9 354.6l1.7 -1.7l1.7 1.7l-1.7 1.7zM143.6 358.0l1.7 -1.7l1.7 1.7l-1.7 1.7zM144.4 360.4l1.7 -1.7l1.7 1.7l-1.7 1.7zM145.2 367.7l1.7 -1.7l1.7 1.7l-1.7 1.7zM145.9 372.8l1.7 -1.7l1.7 1.7l-1.7 1.7zM146.7 376.8l1.7 -1.7l1.7 1.7l-1.7 1.7zM147.5 382.5l1.7 -1.7l1.7 1.7l-1.7 1.7zM148.3 383.9l1.7 -1.7l1.7 1.7l-1.7 1.7zM149.0 389.4l1.7 -1.7l1.7 1.7l-1.7 1.7zM149.8 393.1l1.7 -1.7l1.7 1.7l-1.7 1.7zM150.6 398.2l1.7 -1.7l1.7 1.7l-1.7 1.7zM151.6 400.8l1.7 -1.7l1.7 1.7l-1.7 1.7zM152.5 403.6l1.7 -1.7l1.7 1.7l-1.7 1.7zM153.5 406.9l1.7 -1.7l1.7 1.7l-1.7 1.7zM154.5 410.5l1.7 -1.7l1.7 1.7l-1.7 1.7zM155.4 413.4l1.7 -1.7l1.7 1.7l-1.7 1.7zM156.4 413.5l1.7 -1.7l1.7 1.7l-1.7 1.7zM157.4 418.2l1.7 -1.7l1.7 1.7l-1.7 1.7zM158.3 420.3l1.7 -1.7l1.7 1.7l-1.7 1.7zM159.3 421.4l1.7 -1.7l1.7 1.7l-1.7 1.7zM160.3 423.1l1.7 -1.7l1.7 1.7l-1.7 1.7zM161.2 424.9l1.7 -1.7l1.7 1.7l-1.7 1.7zM162.2 428.2l1.7 -1.7l1.7 1.7l-1.7 1.7zM163.2 428.2l1.7 -1.7l1.7 1.7l-1.7 1.7zM164.2 430.5l1.7 -1.7l1.7 1.7l-1.7 1.7zM165.3 429.8l1.7 -1.7l1.7 1.7l-1.7 1.7zM166.3 433.6l1.7 -1.7l1.7 1.7l-1.7 1.7zM167.3 435.2l1.7 -1.7l1.7 1.7l-1.7 1.7zM168.4 435.2l1.7 -1.7l1.7 1.7l-1.7 1.7zM169.4 435.9l1.7 -1.7l1.7 1.7l-1.7 1.7zM170.5 439.9l1.7 -1.7l1.7 1.7l-1.7 1.7zM171.5 440.3l1.7 -1.7l1.7 1.7l-1.7 1.7zM172.6 441.6l1.7 -1.7l1.7 1.7l-1.7 1.7zM173.7 443.5l1.7 -1.7l1.7 1.7l-1.7 1.7zM174.8 443.9l1.7 -1.7l1.7 1.7l-1.7 1.7zM175.9 445.1l1.7 -1.7l1.7 1.7l-1.7 1.7zM177.0 446.0l1.7 -1.7l1.7 1.7l-1.7 1.7zM178.1 447.0l1.7 -1.7l1.7 1.7l-1.7 1.7zM179.3 450.7l1.7 -1.7l1.7 1.7l-1.7 1.7zM180.4 450.1l1.7 -1.7l1.7 1.7l-1.7 1.7zM181.6 451.8l1.7 -1.7l1.7 1.7l-1.7 1.7zM182.7 453.0l1.7 -1.7l1.7 1.7l-1.7 1.7zM183.9 455.0l1.7 -1.7l1.7 1.7l-1.7 1.7zM185.1 455.6l1.7 -1.7l1.7 1.7l-1.7 1.7zM186.3 458.2l1.7 -1.7l1.7 1.7l-1.7 1.7zM187.4 461.5l1.7 -1.7l1.7 1.7l-1.7 1.7zM188.6 461.7l1.7 -1.7l1.7 1.7l-1.7 1.7zM189.9 465.2l1.7 -1.7l1.7 1.7l-1.7 1.7zM191.1 464.0l1.7 -1.7l1.7 1.7l-1.7 1.7zM192.3 465.2l1.7 -1.7l1.7 1.7l-1.7 1.7zM193.5 466.4l1.7 -1.7l1.7 1.7l-1.7 1.7zM194.8 466.1l1.7 -1.7l1.7 1.7l-1.7 1.7zM196.0 467.6l1.7 -1.7l1.7 1.7l-1.7 1.7zM197.3 471.6l1.7 -1.7l1.7 1.7l-1.7 1.7zM198.6 472.4l1.7 -1.7l1.7 1.7l-1.7 1.7zM199.9 475.7l1.7 -1.7l1.7 1.7l-1.7 1.7zM201.2 474.6l1.7 -1.7l1.7 1.7l-1.7 1.7zM202.5 477.2l1.7 -1.7l1.7 1.7l-1.7 1.7zM203.8 479.9l1.7 -1.7l1.7 1.7l-1.7 1.7zM205.1 478.7l1.7 -1.7l1.7 1.7l-1.7 1.7zM206.4 480.2l1.7 -1.7l1.7 1.7l-1.7 1.7zM207.8 483.2l1.7 -1.7l1.7 1.7l-1.7 1.7zM209.1 485.3l1.7 -1.7l1.7 1.7l-1.7 1.7zM210.5 486.7l1.7 -1.7l1.7 1.7l-1.7 1.7zM211.8 487.6l1.7 -1.7l1.7 1.7l-1.7 1.7zM213.2 489.0l1.7 -1.7l1.7 1.7l-1.7 1.7zM214.6 490.9l1.7 -1.7l1.7 1.7l-1.7 1.7zM216.0 492.0l1.7 -1.7l1.7 1.7l-1.7 1.7zM217.4 492.4l1.7 -1.7l1.7 1.7l-1.7 1.7zM218.8 495.4l1.7 -1.7l1.7 1.7l-1.7 1.7zM220.2 496.9l1.7 -1.7l1.7 1.7l-1.7 1.7zM221.7 496.9l1.7 -1.7l1.7 1.7l-1.7 1.7zM223.1 499.4l1.7 -1.7l1.7 1.7l-1.7 1.7zM224.6 500.8l1.7 -1.7l1.7 1.7l-1.7 1.7zM226.0 500.6l1.7 -1.7l1.7 1.7l-1.7 1.7zM227.5 502.9l1.7 -1.7l1.7 1.7l-1.7 1.7zM229.0 504.0l1.7 -1.7l1.7 1.7l-1.7 1.7zM230.4 504.6l1.7 -1.7l1.7 1.7l-1.7 1.7zM231.9 507.6l1.7 -1.7l1.7 1.7l-1.7 1.7zM233.4 507.2l1.7 -1.7l1.7 1.7l-1.7 1.7zM235.0 509.8l1.7 -1.7l1.7 1.7l-1.7 1.7zM236.5 511.3l1.7 -1.7l1.7 1.7l-1.7 1.7zM238.0 513.8l1.7 -1.7l1.7 1.7l-1.7 1.7zM239.6 514.5l1.7 -1.7l1.7 1.7l-1.7 1.7zM241.1 515.8l1.7 -1.7l1.7 1.7l-1.7 1.7zM242.7 517.1l1.7 -1.7l1.7 1.7l-1.7 1.7zM244.2 518.8l1.7 -1.7l1.7 1.7l-1.7 1.7zM245.8 519.5l1.7 -1.7l1.7 1.7l-1.7 1.7zM247.4 518.8l1.7 -1.7l1.7 1.7l-1.7 1.7zM249.0 522.2l1.7 -1.7l1.7 1.7l-1.7 1.7zM250.6 522.5l1.7 -1.7l1.7 1.7l-1.7 1.7zM252.2 523.9l1.7 -1.7l1.7 1.7l-1.7 1.7zM253.8 524.0l1.7 -1.7l1.7 1.7l-1.7 1.7zM255.5 525.3l1.7 -1.7l1.7 1.7l-1.7 1.7zM257.1 526.8l1.7 -1.7l1.7 1.7l-1.7 1.7zM258.8 527.8l1.7 -1.7l1.7 1.7l-1.7 1.7zM260.4 530.6l1.7 -1.7l1.7 1.7l-1.7 1.7zM262.1 529.4l1.7 -1.7l1.7 1.7l-1.7 1.7zM263.8 531.0l1.7 -1.7l1.7 1.7l-1.7 1.7zM265.4 533.0l1.7 -1.7l1.7 1.7l-1.7 1.7zM267.1 534.2l1.7 -1.7l1.7 1.7l-1.7 1.7zM268.8 536.4l1.7 -1.7l1.7 1.7l-1.7 1.7zM270.5 536.1l1.7 -1.7l1.7 1.7l-1.7 1.7zM272.3 536.2l1.7 -1.7l1.7 1.7l-1.7 1.7zM274.0 537.2l1.7 -1.7l1.7 1.7l-1.7 1.7zM275.7 538.2l1.7 -1.7l1.7 1.7l-1.7 1.7zM277.5 538.6l1.7 -1.7l1.7 1.7l-1.7 1.7zM279.2 540.7l1.7 -1.7l1.7 1.7l-1.7 1.7zM281.0 538.7l1.7 -1.7l1.7 1.7l-1.7 1.7zM282.8 541.7l1.7 -1.7l1.7 1.7l-1.7 1.7zM284.5 546.3l1.7 -1.7l1.7 1.7l-1.7 1.7zM286.3 547.5l1.7 -1.7l1.7 1.7l-1.7 1.7zM288.1 547.1l1.7 -1.7l1.7 1.7l-1.7 1.7zM289.9 548.8l1.7 -1.7l1.7 1.7l-1.7 1.7zM291.8 550.0l1.7 -1.7l1.7 1.7l-1.7 1.7zM293.6 548.6l1.7 -1.7l1.7 1.7l-1.7 1.7zM295.4 549.6l1.7 -1.7l1.7 1.7l-1.7 1.7zM297.2 551.1l1.7 -1.7l1.7 1.7l-1.7 1.7zM299.1 552.4l1.7 -1.7l1.7 1.7l-1.7 1.7zM301.0 553.3l1.7 -1.7l1.7 1.7l-1.7 1.7zM302.8 558.3l1.7 -1.7l1.7 1.7l-1.7 1.7zM304.7 558.7l1.7 -1.7l1.7 1.7l-1.7 1.7zM306.6 556.5l1.7 -1.7l1.7 1.7l-1.7 1.7zM308.5 560.9l1.7 -1.7l1.7 1.7l-1.7 1.7zM310.4 558.3l1.7 -1.7l1.7 1.7l-1.7 1.7zM312.3 558.2l1.7 -1.7l1.7 1.7l-1.7 1.7zM314.2 561.1l1.7 -1.7l1.7 1.7l-1.7 1.7zM316.1 561.0l1.7 -1.7l1.7 1.7l-1.7 1.7zM318.0 562.3l1.7 -1.7l1.7 1.7l-1.7 1.7zM320.0 566.9l1.7 -1.7l1.7 1.7l-1.7 1.7zM321.9 563.6l1.7 -1.7l1.7 1.7l-1.7 1.7zM323.9 569.2l1.7 -1.7l1.7 1.7l-1.7 1.7zM325.8 573.6l1.7 -1.7l1.7 1.7l-1.7 1.7zM327.8 567.7l1.7 -1.7l1.7 1.7l-1.7 1.7zM329.8 570.0l1.7 -1.7l1.7 1.7l-1.7 1.7zM331.7 565.5l1.7 -1.7l1.7 1.7l-1.7 1.7zM333.7 568.6l1.7 -1.7l1.7 1.7l-1.7 1.7zM335.7 573.9l1.7 -1.7l1.7 1.7l-1.7 1.7zM337.7 575.2l1.7 -1.7l1.7 1.7l-1.7 1.7zM339.7 575.9l1.7 -1.7l1.7 1.7l-1.7 1.7zM341.8 578.7l1.7 -1.7l1.7 1.7l-1.7 1.7zM343.8 577.1l1.7 -1.7l1.7 1.7l-1.7 1.7zM345.8 580.8l1.7 -1.7l1.7 1.7l-1.7 1.7zM347.9 583.2l1.7 -1.7l1.7 1.7l-1.7 1.7zM349.9 581.1l1.7 -1.7l1.7 1.7l-1.7 1.7zM352.0 582.1l1.7 -1.7l1.7 1.7l-1.7 1.7zM354.0 586.9l1.7 -1.7l1.7 1.7l-1.7 1.7zM356.1 588.0l1.7 -1.7l1.7 1.7l-1.7 1.7zM358.2 587.3l1.7 -1.7l1.7 1.7l-1.7 1.7zM360.3 587.3l1.7 -1.7l1.7 1.7l-1.7 1.7zM362.4 593.3l1.7 -1.7l1.7 1.7l-1.7 1.7zM364.5 592.4l1.7 -1.7l1.7 1.7l-1.7 1.7zM366.6 591.6l1.7 -1.7l1.7 1.7l-1.7 1.7zM368.7 593.8l1.7 -1.7l1.7 1.7l-1.7 1.7zM370.8 594.6l1.7 -1.7l1.7 1.7l-1.7 1.7zM372.9 596.7l1.7 -1.7l1.7 1.7l-1.7 1.7zM375.1 599.2l1.7 -1.7l1.7 1.7l-1.7 1.7zM377.2 601.5l1.7 -1.7l1.7 1.7l-1.7 1.7zM379.4 598.9l1.7 -1.7l1.7 1.7l-1.7 1.7zM381.5 598.6l1.7 -1.7l1.7 1.7l-1.7 1.7zM383.7 604.3l1.7 -1.7l1.7 1.7l-1.7 1.7zM385.8 597.8l1.7 -1.7l1.7 1.7l-1.7 1.7zM388.0 597.4l1.7 -1.7l1.7 1.7l-1.7 1.7zM390.2 600.9l1.7 -1.7l1.7 1.7l-1.7 1.7zM392.4 600.9l1.7 -1.7l1.7 1.7l-1.7 1.7zM394.6 609.4l1.7 -1.7l1.7 1.7l-1.7 1.7zM396.8 601.5l1.7 -1.7l1.7 1.7l-1.7 1.7zM399.0 609.2l1.7 -1.7l1.7 1.7l-1.7 1.7zM401.2 611.6l1.7 -1.7l1.7 1.7l-1.7 1.7zM403.4 612.9l1.7 -1.7l1.7 1.7l-1.7 1.7zM405.6 608.1l1.7 -1.7l1.7 1.7l-1.7 1.7zM407.9 612.1l1.7 -1.7l1.7 1.7l-1.7 1.7zM410.1 613.8l1.7 -1.7l1.7 1.7l-1.7 1.7zM412.3 609.9l1.7 -1.7l1.7 1.7l-1.7 1.7zM414.6 613.1l1.7 -1.7l1.7 1.7l-1.7 1.7zM416.8 611.7l1.7 -1.7l1.7 1.7l-1.7 1.7zM419.1 614.8l1.7 -1.7l1.7 1.7l-1.7 1.7zM421.4 619.0l1.7 -1.7l1.7 1.7l-1.7 1.7zM423.6 614.6l1.7 -1.7l1.7 1.7l-1.7 1.7zM425.9 611.3l1.7 -1.7l1.7 1.7l-1.7 1.7zM428.2 615.9l1.7 -1.7l1.7 1.7l-1.7 1.7zM430.5 615.6l1.7 -1.7l1.7 1.7l-1.7 1.7zM432.8 618.8l1.7 -1.7l1.7 1.7l-1.7 1.7zM435.1 619.1l1.7 -1.7l1.7 1.7l-1.7 1.7zM437.4 619.8l1.7 -1.7l1.7 1.7l-1.7 1.7zM439.7 621.7l1.7 -1.7l1.7 1.7l-1.7 1.7zM442.0 619.0l1.7 -1.7l1.7 1.7l-1.7 1.7zM444.3 620.4l1.7 -1.7l1.7 1.7l-1.7 1.7zM446.6 619.4l1.7 -1.7l1.7 1.7l-1.7 1.7zM449.0 622.5l1.7 -1.7l1.7 1.7l-1.7 1.7zM451.3 622.3l1.7 -1.7l1.7 1.7l-1.7 1.7zM453.6 624.8l1.7 -1.7l1.7 1.7l-1.7 1.7zM456.0 627.4l1.7 -1.7l1.7 1.7l-1.7 1.7zM458.3 621.5l1.7 -1.7l1.7 1.7l-1.7 1.7zM460.7 623.8l1.7 -1.7l1.7 1.7l-1.7 1.7zM463.0 630.7l1.7 -1.7l1.7 1.7l-1.7 1.7zM465.4 622.8l1.7 -1.7l1.7 1.7l-1.7 1.7zM467.8 624.8l1.7 -1.7l1.7 1.7l-1.7 1.7zM470.2 624.9l1.7 -1.7l1.7 1.7l-1.7 1.7zM472.5 629.7l1.7 -1.7l1.7 1.7l-1.7 1.7zM474.9 630.9l1.7 -1.7l1.7 1.7l-1.7 1.7zM477.3 631.3l1.7 -1.7l1.7 1.7l-1.7 1.7zM479.7 630.4l1.7 -1.7l1.7 1.7l-1.7 1.7zM482.1 628.7l1.7 -1.7l1.7 1.7l-1.7 1.7zM484.5 630.5l1.7 -1.7l1.7 1.7l-1.7 1.7zM486.9 631.9l1.7 -1.7l1.7 1.7l-1.7 1.7zM489.3 635.3l1.7 -1.7l1.7 1.7l-1.7 1.7zM491.7 634.2l1.7 -1.7l1.7 1.7l-1.7 1.7zM494.2 631.4l1.7 -1.7l1.7 1.7l-1.7 1.7zM496.6 638.2l1.7 -1.7l1.7 1.7l-1.7 1.7zM499.0 630.1l1.7 -1.7l1.7 1.7l-1.7 1.7zM501.4 636.4l1.7 -1.7l1.7 1.7l-1.7 1.7zM503.9 632.4l1.7 -1.7l1.7 1.7l-1.7 1.7zM506.3 633.9l1.7 -1.7l1.7 1.7l-1.7 1.7zM508.8 636.2l1.7 -1.7l1.7 1.7l-1.7 1.7zM511.2 643.8l1.7 -1.7l1.7 1.7l-1.7 1.7zM513.7 637.9l1.7 -1.7l1.7 1.7l-1.7 1.7zM516.1 641.5l1.7 -1.7l1.7 1.7l-1.7 1.7zM518.6 637.0l1.7 -1.7l1.7 1.7l-1.7 1.7zM521.0 639.9l1.7 -1.7l1.7 1.7l-1.7 1.7zM523.5 639.5l1.7 -1.7l1.7 1.7l-1.7 1.7zM526.0 642.3l1.7 -1.7l1.7 1.7l-1.7 1.7zM528.5 647.5l1.7 -1.7l1.7 1.7l-1.7 1.7zM530.9 645.4l1.7 -1.7l1.7 1.7l-1.7 1.7zM533.4 644.5l1.7 -1.7l1.7 1.7l-1.7 1.7zM535.9 646.3l1.7 -1.7l1.7 1.7l-1.7 1.7zM538.4 643.7l1.7 -1.7l1.7 1.7l-1.7 1.7zM540.9 642.3l1.7 -1.7l1.7 1.7l-1.7 1.7zM543.4 649.2l1.7 -1.7l1.7 1.7l-1.7 1.7zM545.9 645.8l1.7 -1.7l1.7 1.7l-1.7 1.7zM548.4 644.8l1.7 -1.7l1.7 1.7l-1.7 1.7zM550.9 643.4l1.7 -1.7l1.7 1.7l-1.7 1.7zM553.4 650.4l1.7 -1.7l1.7 1.7l-1.7 1.7zM556.0 651.8l1.7 -1.7l1.7 1.7l-1.7 1.7zM558.5 651.6l1.7 -1.7l1.7 1.7l-1.7 1.7zM561.0 651.4l1.7 -1.7l1.7 1.7l-1.7 1.7zM563.5 648.4l1.7 -1.7l1.7 1.7l-1.7 1.7zM566.1 657.2l1.7 -1.7l1.7 1.7l-1.7 1.7zM568.6 649.3l1.7 -1.7l1.7 1.7l-1.7 1.7zM571.1 645.7l1.7 -1.7l1.7 1.7l-1.7 1.7zM573.7 651.3l1.7 -1.7l1.7 1.7l-1.7 1.7zM576.2 647.5l1.7 -1.7l1.7 1.7l-1.7 1.7zM578.8 656.0l1.7 -1.7l1.7 1.7l-1.7 1.7zM581.3 649.2l1.7 -1.7l1.7 1.7l-1.7 1.7zM583.9 652.2l1.7 -1.7l1.7 1.7l-1.7 1.7zM586.4 654.6l1.7 -1.7l1.7 1.7l-1.7 1.7zM589.0 657.8l1.7 -1.7l1.7 1.7l-1.7 1.7zM591.5 653.2l1.7 -1.7l1.7 1.7l-1.7 1.7zM594.1 665.4l1.7 -1.7l1.7 1.7l-1.7 1.7zM596.7 657.4l1.7 -1.7l1.7 1.7l-1.7 1.7zM599.2 646.5l1.7 -1.7l1.7 1.7l-1.7 1.7zM601.8 662.0l1.7 -1.7l1.7 1.7l-1.7 1.7zM604.4 661.3l1.7 -1.7l1.7 1.7l-1.7 1.7zM606.9 657.3l1.7 -1.7l1.7 1.7l-1.7 1.7zM609.5 659.4l1.7 -1.7l1.7 1.7l-1.7 1.7zM612.1 654.9l1.7 -1.7l1.7 1.7l-1.7 1.7zM614.7 661.9l1.7 -1.7l1.7 1.7l-1.7 1.7zM617.3 660.0l1.7 -1.7l1.7 1.7l-1.7 1.7zM619.9 658.8l1.7 -1.7l1.7 1.7l-1.7 1.7zM622.5 656.2l1.7 -1.7l1.7 1.7l-1.7 1.7zM625.1 658.7l1.7 -1.7l1.7 1.7l-1.7 1.7zM627.7 659.8l1.7 -1.7l1.7 1.7l-1.7 1.7zM630.3 654.0l1.7 -1.7l1.7 1.7l-1.7 1.7zM632.9 656.1l1.7 -1.7l1.7 1.7l-1.7 1.7zM635.5 661.2l1.7 -1.7l1.7 1.7l-1.7 1.7zM638.1 658.2l1.7 -1.7l1.7 1.7l-1.7 1.7zM640.7 663.2l1.7 -1.7l1.7 1.7l-1.7 1.7zM643.3 660.2l1.7 -1.7l1.7 1.7l-1.7 1.7zM645.9 661.1l1.7 -1.7l1.7 1.7l-1.7 1.7zM648.5 661.1l1.7 -1.7l1.7 1.7l-1.7 1.7zM651.2 655.4l1.7 -1.7l1.7 1.7l-1.7 1.7zM653.8 659.8l1.7 -1.7l1.7 1.7l-1.7 1.7zM656.4 658.1l1.7 -1.7l1.7 1.7l-1.7 1.7zM659.0 666.1l1.7 -1.7l1.7 1.7l-1.7 1.7zM661.7 668.1l1.7 -1.7l1.7 1.7l-1.7 1.7zM664.3 661.6l1.7 -1.7l1.7 1.7l-1.7 1.7zM666.9 662.5l1.7 -1.7l1.7 1.7l-1.7 1.7zM669.6 666.6l1.7 -1.7l1.7 1.7l-1.7 1.7zM672.2 667.1l1.7 -1.7l1.7 1.7l-1.7 1.7zM674.8 660.1l1.7 -1.7l1.7 1.7l-1.7 1.7zM677.5 666.0l1.7 -1.7l1.7 1.7l-1.7 1.7zM680.1 667.1l1.7 -1.7l1.7 1.7l-1.7 1.7zM682.8 665.5l1.7 -1.7l1.7 1.7l-1.7 1.7zM685.4 662.1l1.7 -1.7l1.7 1.7l-1.7 1.7zM688.1 662.6l1.7 -1.7l1.7 1.7l-1.7 1.7zM690.7 670.7l1.7 -1.7l1.7 1.7l-1.7 1.7zM693.4 662.0l1.7 -1.7l1.7 1.7l-1.7 1.7zM696.0 666.4l1.7 -1.7l1.7 1.7l-1.7 1.7zM698.7 665.9l1.7 -1.7l1.7 1.7l-1.7 1.7zM701.3 665.8l1.7 -1.7l1.7 1.7l-1.7 1.7zM725.5 668.0l1.7 -1.7l1.7 1.7l-1.7 1.7zM748.7 668.9l1.7 -1.7l1.7 1.7l-1.7 1.7zM848.2 668.0l1.7 -1.7l1.7 1.7l-1.7 1.7z" fill="#00f"/>
<path d="M115.5 504.1H125.1V512.9H115.5zM116.2 482.3H125.9V489.7H116.2zM117.0 459.8H126.7V468.0H117.0zM117.8 440.3H127.4V448.3H117.8zM118.6 422.4H128.2V431.2H118.6zM119.3 408.6H129.0V413.7H119.3zM120.1 394.9H129.8V402.3H120.1zM120.9 381.3H130.5V390.4H120.9zM121.7 368.7H131.3V377.3H121.7zM122.4 357.0H132.1V363.6H122.4zM123.2 346.7H132.9V355.2H123.2zM124.0 335.7H133.6V343.8H124.0zM124.7 324.6H134.4V335.4H124.7zM125.5 317.7H135.2V326.0H125.5zM126.3 308.9H136.0V317.5H126.3zM127.1 301.8H136.7V309.6H127.1zM127.8 293.5H137.5V302.6H127.8zM128.6 287.5H138.3V295.1H128.6zM129.4 280.6H139.0V289.9H129.4zM130.2 274.5H139.8V283.6H130.2zM130.9 268.6H140.6V277.1H130.9zM131.7 263.4H141.4V271.3H131.7zM132.5 257.7H142.1V266.4H132.5zM133.2 253.0H142.9V260.0H133.2zM134.0 247.7H143.7V254.3H134.0zM134.8 242.9H144.5V250.9H134.8zM135.6 239.0H145.2V246.5H135.6zM136.3 235.1H146.0V242.6H136.3zM137.1 231.1H146.8V238.3H137.1zM137.9 228.2H147.6V232.6H137.9zM138.7 224.4H148.3V231.8H138.7zM139.4 221.8H149.1V229.7H139.4zM140.2 218.1H149.9V225.9H140.2zM141.0 215.3H150.6V223.1H141.0zM141.8 212.9H151.4V221.2H141.8zM142.5 211.5H152.2V219.0H142.5zM143.3 208.5H153.0V215.8H143.3zM144.1 207.0H153.7V215.2H144.1zM144.8 205.3H154.5V210.4H144.8zM145.6 204.4H155.3V211.6H145.6zM146.4 201.5H156.1V209.8H146.4zM147.2 200.7H156.8V209.4H147.2zM147.9 200.9H157.6V208.1H147.9zM148.9 200.3H158.6V208.1H148.9zM149.9 203.2H159.5V209.8H149.9zM150.8 205.2H160.5V212.6H150.8zM151.8 207.2H161.5V216.1H151.8zM152.8 210.3H162.4V218.4H152.8zM153.7 213.8H163.4V222.2H153.7zM154.7 216.5H164.4V223.9H154.7zM155.7 221.0H165.3V227.9H155.7zM156.6 224.2H166.3V229.8H156.6zM157.6 227.7H167.3V232.5H157.6zM158.6 230.0H168.3V236.6H158.6zM159.6 233.5H169.3V236.3H159.6zM160.6 235.2H170.3V244.4H160.6zM161.6 238.1H171.3V244.7H161.6zM162.6 241.4H172.3V248.2H162.6zM163.7 242.1H173.3V250.1H163.7zM164.7 244.7H174.4V252.9H164.7zM165.8 247.5H175.4V255.3H165.8zM166.8 249.4H176.5V256.3H166.8zM167.9 249.9H177.5V260.0H167.9zM169.0 252.9H178.6V261.6H169.0zM170.0 254.8H179.7V262.2H170.0zM171.1 255.1H180.8V262.7H171.1zM172.2 257.3H181.9V266.3H172.2zM173.3 258.9H183.0V265.0H173.3zM174.5 259.9H184.1V269.1H174.5zM175.6 260.8H185.2V270.6H175.6zM176.7 262.5H186.4V271.1H176.7zM177.9 264.2H187.5V272.9H177.9zM179.0 265.9H188.7V273.9H179.0zM180.2 268.6H189.8V276.0H180.2zM181.3 269.6H191.0V278.1H181.3zM182.5 270.4H192.2V278.7H182.5zM183.7 272.7H193.4V278.0H183.7zM184.9 273.9H194.6V282.5H184.9zM186.1 275.8H195.8V283.9H186.1zM187.3 278.2H197.0V286.2H187.3zM188.6 279.4H198.2V289.5H188.6zM189.8 282.1H199.5V291.5H189.8zM191.0 284.5H200.7V291.9H191.0zM192.3 285.7H202.0V295.3H192.3zM193.5 288.6H203.2V298.3H193.5zM194.8 290.7H204.5V299.9H194.8zM196.1 292.4H205.8V300.5H196.1zM197.4 294.0H207.1V301.8H197.4zM198.7 295.1H208.3V303.8H198.7zM200.0 296.3H209.7V304.3H200.0zM201.3 297.8H211.0V306.6H201.3zM202.6 298.6H212.3V308.3H202.6zM204.0 300.9H213.6V308.3H204.0zM205.3 300.9H215.0V310.9H205.3zM206.7 301.9H216.3V311.6H206.7zM208.0 303.4H217.7V311.1H208.0zM209.4 305.4H219.1V313.5H209.4zM210.8 306.6H220.4V314.4H210.8zM212.2 307.3H221.8V316.5H212.2zM213.6 309.1H223.2V316.8H213.6zM215.0 309.1H224.6V315.9H215.0zM216.4 310.6H226.1V317.7H216.4zM217.8 312.0H227.5V318.4H217.8zM219.3 313.0H228.9V321.4H219.3zM220.7 314.5H230.4V323.3H220.7zM222.2 314.7H231.8V325.2H222.2zM223.6 315.7H233.3V325.4H223.6zM225.1 316.0H234.8V326.9H225.1zM226.6 318.6H236.2V328.3H226.6zM228.1 319.4H237.7V327.5H228.1zM229.6 319.5H239.2V330.5H229.6zM231.1 320.1H240.7V331.0H231.1zM232.6 322.1H242.3V331.0H232.6zM234.1 323.3H243.8V333.1H234.1zM235.6 323.0H245.3V331.3H235.6zM237.2 323.7H246.9V333.5H237.2zM238.8 326.0H248.4V336.4H238.8zM240.3 326.8H250.0V337.7H240.3zM241.9 326.9H251.6V338.6H241.9zM243.5 328.0H253.1V337.9H243.5zM245.1 329.6H254.7V340.4H245.1zM246.7 330.6H256.3V337.6H246.7zM248.3 331.5H257.9V340.8H248.3zM249.9 332.0H259.6V342.3H249.9zM251.5 333.8H261.2V344.9H251.5zM253.1 333.5H262.8V345.2H253.1zM254.8 335.2H264.5V346.7H254.8zM256.4 335.7H266.1V347.4H256.4zM258.1 337.6H267.8V346.8H258.1zM259.8 337.4H269.4V348.3H259.8zM261.5 338.9H271.1V349.7H261.5zM263.2 340.0H272.8V350.5H263.2zM264.8 341.2H274.5V352.9H264.8zM266.6 341.0H276.2V352.4H266.6zM268.3 342.2H277.9V352.7H268.3zM270.0 343.9H279.7V355.9H270.0zM271.7 344.0H281.4V355.9H271.7zM273.5 344.0H283.1V356.3H273.5zM275.2 345.8H284.9V358.0H275.2zM277.0 345.8H286.6V359.6H277.0zM278.7 347.2H288.4V358.3H278.7zM280.5 348.5H290.2V358.2H280.5zM282.3 348.4H292.0V361.7H282.3zM284.1 350.7H293.8V361.4H284.1zM285.9 351.1H295.6V363.0H285.9zM287.7 350.6H297.4V363.5H287.7zM289.5 351.0H299.2V364.1H289.5zM291.4 352.0H301.0V363.9H291.4zM293.2 352.1H302.9V364.2H293.2zM295.0 354.5H304.7V365.4H295.0zM296.9 352.0H306.6V364.8H296.9zM298.8 353.8H308.4V366.4H298.8zM300.6 353.0H310.3V369.3H300.6zM302.5 353.2H312.2V368.4H302.5zM304.4 353.7H314.0V367.8H304.4zM306.3 355.9H315.9V370.7H306.3zM308.2 356.2H317.8V371.8H308.2zM310.1 357.8H319.7V370.9H310.1zM312.0 358.4H321.7V371.1H312.0zM313.9 359.2H323.6V369.0H313.9zM315.9 359.6H325.5V368.7H315.9zM317.8 361.6H327.5V374.3H317.8zM319.7 360.0H329.4V372.8H319.7zM321.7 363.1H331.4V376.6H321.7zM323.7 362.9H333.3V376.6H323.7zM325.6 363.0H335.3V375.9H325.6zM327.6 365.2H337.3V376.4H327.6zM329.6 363.7H339.3V378.8H329.6zM331.6 366.7H341.3V377.9H331.6zM333.6 367.2H343.3V377.8H333.6zM335.6 368.3H345.3V378.1H335.6zM337.6 368.8H347.3V379.9H337.6zM339.7 369.7H349.3V381.3H339.7zM341.7 370.4H351.3V383.9H341.7zM343.7 371.4H353.4V380.1H343.7zM345.8 372.4H355.4V383.1H345.8zM347.8 372.1H357.5V387.1H347.8zM349.9 373.9H359.5V384.5H349.9zM352.0 372.6H361.6V387.2H352.0zM354.0 373.9H363.7V388.2H354.0zM356.1 375.3H365.8V390.1H356.1zM358.2 375.9H367.9V387.8H358.2zM360.3 376.6H370.0V390.6H360.3zM362.4 377.5H372.1V392.3H362.4zM364.5 377.3H374.2V393.6H364.5zM366.6 377.6H376.3V392.1H366.6zM368.7 379.7H378.4V391.6H368.7zM370.9 379.2H380.5V389.2H370.9zM373.0 377.8H382.7V394.4H373.0zM375.2 379.6H384.8V395.9H375.2zM377.3 382.7H387.0V398.1H377.3zM379.5 382.1H389.1V394.0H379.5zM381.6 382.0H391.3V399.9H381.6zM383.8 383.0H393.5V401.5H383.8zM386.0 383.3H395.6V402.4H386.0zM388.2 382.9H397.8V400.9H388.2zM390.3 384.8H400.0V402.6H390.3zM392.5 385.6H402.2V396.4H392.5zM394.7 385.0H404.4V403.6H394.7zM397.0 384.0H406.6V406.1H397.0zM399.2 386.4H408.8V405.5H399.2zM401.4 387.6H411.1V403.9H401.4zM403.6 386.8H413.3V406.6H403.6zM405.8 384.2H415.5V402.8H405.8zM408.1 387.3H417.7V410.2H408.1zM410.3 387.0H420.0V409.8H410.3zM412.6 389.1H422.2V411.3H412.6zM414.8 388.3H424.5V406.9H414.8zM417.1 390.5H426.8V409.6H417.1zM419.4 389.1H429.0V413.4H419.4zM421.6 390.1H431.3V413.3H421.6zM423.9 392.6H433.6V414.5H423.9zM426.2 392.4H435.9V414.0H426.2zM428.5 393.1H438.1V408.9H428.5zM430.8 393.2H440.4V411.9H430.8zM433.1 395.7H442.7V413.6H433.1zM435.4 391.7H445.1V412.9H435.4zM437.7 393.9H447.4V414.0H437.7zM440.0 395.0H449.7V415.8H440.0zM442.3 395.6H452.0V418.3H442.3zM444.7 394.8H454.3V418.6H444.7zM447.0 398.0H456.7V420.6H447.0zM449.3 398.0H459.0V416.3H449.3zM451.7 397.0H461.3V421.1H451.7zM454.0 395.6H463.7V418.1H454.0zM456.4 399.3H466.0V422.7H456.4zM458.7 399.7H468.4V420.6H458.7zM461.1 400.8H470.8V425.5H461.1zM463.5 401.1H473.1V423.0H463.5zM465.8 400.2H475.5V425.0H465.8zM468.2 401.0H477.9V422.2H468.2zM470.6 403.5H480.3V425.0H470.6zM473.0 401.9H482.6V426.6H473.0zM475.4 403.0H485.0V424.1H475.4zM477.8 402.1H487.4V429.3H477.8zM480.2 404.9H489.8V423.6H480.2zM482.6 404.6H492.2V431.2H482.6zM485.0 408.4H494.6V427.1H485.0zM487.4 404.9H497.1V427.5H487.4zM489.8 407.6H499.5V433.0H489.8zM492.2 409.6H501.9V434.2H492.2zM494.7 407.2H504.3V428.9H494.7zM497.1 410.1H506.8V436.6H497.1zM499.5 411.1H509.2V433.1H499.5zM502.0 408.5H511.6V431.6H502.0zM504.4 412.0H514.1V433.6H504.4zM506.9 408.7H516.5V437.8H506.9zM509.3 411.4H519.0V438.7H509.3zM511.8 412.3H521.4V439.7H511.8zM514.2 416.6H523.9V439.6H514.2zM516.7 412.3H526.3V437.3H516.7zM519.2 409.7H528.8V439.1H519.2zM521.6 412.3H531.3V439.0H521.6zM524.1 415.3H533.8V439.3H524.1zM526.6 417.7H536.2V439.6H526.6zM529.1 415.3H538.7V444.7H529.1zM531.5 415.8H541.2V438.5H531.5zM534.0 417.1H543.7V445.9H534.0zM536.5 415.9H546.2V440.4H536.5zM539.0 415.8H548.7V446.6H539.0zM541.5 418.3H551.2V438.7H541.5zM544.0 419.1H553.7V437.6H544.0zM546.5 419.8H556.2V451.1H546.5zM549.1 417.8H558.7V450.4H549.1zM551.6 421.2H561.2V451.7H551.6zM554.1 414.9H563.7V451.2H554.1zM556.6 418.2H566.3V453.9H556.6zM559.1 418.2H568.8V453.1H559.1zM561.7 420.1H571.3V452.7H561.7zM564.2 419.8H573.9V451.3H564.2zM566.7 424.9H576.4V442.8H566.7zM569.3 419.6H578.9V451.5H569.3zM571.8 418.8H581.5V458.4H571.8zM574.3 425.0H584.0V454.7H574.3zM576.9 422.8H586.6V457.0H576.9zM579.4 422.8H589.1V452.3H579.4zM582.0 422.4H591.7V456.9H582.0zM584.6 425.5H594.2V459.5H584.6zM587.1 423.4H596.8V458.7H587.1zM589.7 424.9H599.3V456.5H589.7zM592.2 425.1H601.9V458.6H592.2zM594.8 423.9H604.5V454.1H594.8zM597.4 426.7H607.0V457.1H597.4zM600.0 423.9H609.6V448.9H600.0zM602.5 424.0H612.2V457.4H602.5zM605.1 425.4H614.8V465.6H605.1zM607.7 427.8H617.4V464.3H607.7zM610.3 425.6H619.9V466.5H610.3zM612.9 427.5H622.5V464.5H612.9zM615.4 424.7H625.1V467.1H615.4zM618.0 429.1H627.7V462.8H618.0zM620.6 425.6H630.3V469.5H620.6zM623.2 424.7H632.9V467.5H623.2zM625.8 429.3H635.5V469.8H625.8zM628.4 427.1H638.1V469.2H628.4zM631.0 430.9H640.7V469.1H631.0zM633.6 426.6H643.3V464.2H633.6zM636.3 427.5H645.9V471.3H636.3zM638.9 429.2H648.5V472.4H638.9zM641.5 429.8H651.1V463.4H641.5zM644.1 428.4H653.8V460.9H644.1zM646.7 427.7H656.4V474.3H646.7zM649.3 432.0H659.0V468.7H649.3zM652.0 429.9H661.6V470.5H652.0zM654.6 427.6H664.2V476.0H654.6zM657.2 427.1H666.9V471.1H657.2zM659.8 434.0H669.5V476.9H659.8zM662.5 433.0H672.1V470.6H662.5zM665.1 428.0H674.8V472.7H665.1zM667.7 428.4H677.4V470.9H667.7zM670.4 428.0H680.0V478.8H670.4zM673.0 435.3H682.7V473.4H673.0zM675.7 432.2H685.3V476.4H675.7zM678.3 430.5H688.0V469.5H678.3zM680.9 434.2H690.6V464.9H680.9zM683.6 429.9H693.3V466.0H683.6zM686.2 428.9H695.9V468.5H686.2zM688.9 433.5H698.6V476.5H688.9zM691.6 427.3H701.2V469.5H691.6zM694.2 436.9H703.9V472.9H694.2zM696.9 435.7H706.5V467.9H696.9zM699.5 431.9H709.2V483.0H699.5zM702.2 436.4H711.8V485.6H702.2zM704.8 435.7H714.5V467.9H704.8zM707.5 437.6H717.2V481.9H707.5zM710.2 440.6H719.8V480.4H710.2zM712.8 437.4H722.5V488.4H712.8zM715.5 435.4H725.2V485.2H715.5zM718.2 439.9H727.8V489.2H718.2zM720.9 439.3H730.5V485.0H720.9zM723.5 440.0H733.2V491.2H723.5zM726.2 441.3H735.9V482.3H726.2zM728.9 443.1H738.5V493.1H728.9zM731.6 443.8H741.2V495.1H731.6zM734.2 450.2H743.9V494.0H734.2zM736.9 446.1H746.6V489.0H736.9zM739.6 447.2H749.3V489.9H739.6zM742.3 442.5H752.0V480.9H742.3zM745.0 442.5H754.6V496.7H745.0zM747.7 448.3H757.3V498.8H747.7zM750.4 442.5H760.0V492.6H750.4zM753.0 443.3H762.7V493.9H753.0zM755.7 445.8H765.4V502.1H755.7zM758.4 441.8H768.1V495.6H758.4zM761.1 444.4H770.8V494.1H761.1zM763.8 442.5H773.5V483.1H763.8zM766.5 446.7H776.2V487.9H766.5zM769.2 441.6H778.9V502.5H769.2zM771.9 450.1H781.6V497.1H771.9zM774.6 441.5H784.3V497.7H774.6zM777.3 444.5H787.0V507.5H777.3zM780.0 442.3H789.7V506.5H780.0zM782.7 440.8H792.4V497.1H782.7zM785.4 443.6H795.1V506.6H785.4zM788.2 439.4H797.8V505.4H788.2zM790.9 442.5H800.5V485.4H790.9zM793.6 448.1H803.2V509.6H793.6zM796.3 439.9H805.9V505.5H796.3zM799.0 445.1H808.7V503.1H799.0zM801.7 446.5H811.4V488.2H801.7zM804.4 445.8H814.1V498.3H804.4zM807.1 441.6H816.8V508.1H807.1zM809.9 448.0H819.5V504.2H809.9zM812.6 451.6H822.2V512.7H812.6zM815.3 450.6H825.0V491.7H815.3zM818.0 448.0H827.7V513.4H818.0zM820.7 449.2H830.4V508.3H820.7zM823.5 446.9H833.1V505.9H823.5zM826.2 452.5H835.8V504.7H826.2zM828.9 452.3H838.6V515.6H828.9zM831.6 445.7H841.3V509.8H831.6zM834.4 445.6H844.0V493.0H834.4zM837.1 453.8H846.7V513.6H837.1zM839.8 450.4H849.5V511.9H839.8zM842.5 450.4H852.2V500.6H842.5zM845.3 449.1H854.9V520.9H845.3zM848.0 451.3H857.7V507.7H848.0zM850.7 444.4H860.4V519.6H850.7zM853.5 456.4H863.1V518.7H853.5zM856.2 445.9H865.9V516.6H856.2zM858.9 455.8H868.6V519.0H858.9zM861.7 447.3H871.3V522.8H861.7zM864.4 458.3H874.1V525.8H864.4zM867.1 455.4H876.8V520.1H867.1zM869.9 451.1H879.5V520.8H869.9zM872.6 453.3H882.3V509.8H872.6zM875.4 450.3H885.0V509.1H875.4zM878.1 447.8H887.8V527.5H878.1zM880.8 453.0H890.5V531.5H880.8zM883.6 455.6H893.3V509.9H883.6zM886.3 451.4H896.0V526.0H886.3zM889.1 452.0H898.7V520.8H889.1zM891.8 453.2H901.5V512.2H891.8zM894.6 449.2H904.2V520.3H894.6zM897.3 452.2H907.0V526.3H897.3zM900.1 450.5H909.7V525.4H900.1zM902.8 456.7H912.5V526.0H902.8zM905.6 448.4H915.2V517.7H905.6zM908.3 452.2H918.0V529.5H908.3zM911.0 448.8H920.7V527.8H911.0zM913.8 450.2H923.5V534.8H913.8zM916.6 452.0H926.2V536.9H916.6zM919.3 461.2H929.0V540.2H919.3zM922.1 454.6H931.7V521.3H922.1zM924.8 451.8H934.5V540.5H924.8zM927.6 456.3H937.2V534.5H927.6zM930.3 456.6H940.0V542.1H930.3zM933.1 452.6H942.7V543.7H933.1zM935.8 455.3H945.5V535.8H935.8zM938.6 457.0H948.2V518.0H938.6zM941.3 458.8H951.0V538.7H941.3zM944.1 457.2H953.8V561.0H944.1zM946.9 457.7H956.5V546.5H946.9zM949.6 451.7H959.3V538.8H949.6zM952.4 453.8H962.0V541.9H952.4zM955.1 452.5H964.8V535.2H955.1zM957.9 457.0H967.6V541.3H957.9zM960.6 453.1H970.3V550.5H960.6zM963.4 457.2H973.1V540.5H963.4zM966.2 454.2H975.8V535.9H966.2zM968.9 456.9H978.6V647.3H968.9zM971.7 457.9H981.4V554.6H971.7zM974.5 459.4H984.1V558.0H974.5zM977.2 456.3H986.9V536.0H977.2zM980.0 460.4H989.7V550.8H980.0zM982.8 457.7H992.4V550.1H982.8zM985.5 459.1H995.2V540.7H985.5zM988.3 460.5H997.9V558.6H988.3zM991.0 451.9H1000.7V550.1H991.0zM993.8 453.2H1003.5V561.8H993.8zM996.6 463.2H1006.2V574.0H996.6zM999.3 459.8H1009.0V565.6H999.3zM1002.1 462.6H1011.8V554.1H1002.1zM1004.9 461.5H1014.5V567.3H1004.9zM1007.7 462.0H1017.3V548.5H1007.7zM1010.4 458.4H1020.1V567.4H1010.4zM1013.2 465.3H1022.9V563.9H1013.2zM1016.0 464.0H1025.6V570.1H1016.0zM1018.7 461.0H1028.4V570.3H1018.7zM1021.5 460.3H1031.2V549.5H1021.5zM1024.3 457.3H1033.9V575.0H1024.3zM1027.0 472.1H1036.7V571.7H1027.0zM1029.8 468.2H1039.5V543.9H1029.8zM1032.6 464.5H1042.3V572.2H1032.6zM1035.4 466.5H1045.0V585.0H1035.4zM1038.1 460.3H1047.8V567.6H1038.1zM1040.9 462.9H1050.6V567.1H1040.9zM1043.7 459.3H1053.4V585.0H1043.7zM1046.5 462.6H1056.1V569.2H1046.5zM1049.2 458.7H1058.9V563.6H1049.2zM1052.0 465.1H1061.7V556.7H1052.0zM1054.8 464.5H1064.5V564.0H1054.8zM1057.6 459.1H1067.2V569.6H1057.6zM1060.3 461.9H1070.0V560.2H1060.3zM1063.1 465.8H1072.8V564.7H1063.1zM1065.9 463.6H1075.6V670.8H1065.9zM1068.7 465.0H1078.0V552.4H1068.7zM1071.4 459.7H1078.0V547.1H1071.4z" fill="#fff"/>
<path d="M118.6 576.0l1.7 -1.7l1.7 1.7l-1.7 1.7zM119.4 564.6l1.7 -1.7l1.7 1.7l-1.7 1.7zM120.1 546.6l1.7 -1.7l1.7 1.7l-1.7 1.7zM120.9 526.2l1.7 -1.7l1.7 1.7l-1.7 1.7zM121.7 505.3l1.7 -1.7l1.7 1.7l-1.7 1.7zM122.5 485.5l1.7 -1.7l1.7 1.7l-1.7 1.7zM123.2 468.7l1.7 -1.7l1.7 1.7l-1.7 1.7zM124.0 453.7l1.7 -1.7l1.7 1.7l-1.7 1.7zM124.8 436.8l1.7 -1.7l1.7 1.7l-1.7 1.7zM125.6 425.7l1.7 -1.7l1.7 1.7l-1.7 1.7zM126.3 413.1l1.7 -1.7l1.7 1.7l-1.7 1.7zM127.1 402.1l1.7 -1.7l1.7 1.7l-1.7 1.7zM127.9 391.9l1.7 -1.7l1.7 1.7l-1.7 1.7zM128.6 382.0l1.7 -1.7l1.7 1.7l-1.7 1.7zM129.4 374.7l1.7 -1.7l1.7 1.7l-1.7 1.7zM130.2 365.0l1.7 -1.7l1.7 1.7l-1.7 1.7zM131.0 359.0l1.7 -1.7l1.7 1.7l-1.7 1.7zM131.7 350.3l1.7 -1.7l1.7 1.7l-1.7 1.7zM132.5 345.7l1.7 -1.7l1.7 1.7l-1.7 1.7zM133.3 338.2l1.7 -1.7l1.7 1.7l-1.7 1.7zM134.1 335.7l1.7 -1.7l1.7 1.7l-1.7 1.7zM134.8 328.9l1.7 -1.7l1.7 1.7l-1.7 1.7zM135.6 322.3l1.7 -1.7l1.7 1.7l-1.7 1.7zM136.4 316.8l1.7 -1.7l1.7 1.7l-1.7 1.7zM137.2 310.2l1.7 -1.7l1.7 1.7l-1.7 1.7zM137.9 304.2l1.7 -1.7l1.7 1.7l-1.7 1.7zM138.7 297.8l1.7 -1.7l1.7 1.7l-1.7 1.7zM139.5 291.0l1.7 -1.7l1.7 1.7l-1.7 1.7zM140.2 285.8l1.7 -1.7l1.7 1.7l-1.7 1.7zM141.0 281.4l1.7 -1.7l1.7 1.7l-1.7 1.7zM141.8 278.2l1.7 -1.7l1.7 1.7l-1.7 1.7zM142.6 274.0l1.7 -1.7l1.7 1.7l-1.7 1.7zM143.3 271.5l1.7 -1.7l1.7 1.7l-1.7 1.7zM144.1 267.0l1.7 -1.7l1.7 1.7l-1.7 1.7zM144.9 264.1l1.7 -1.7l1.7 1.7l-1.7 1.7zM145.7 262.6l1.7 -1.7l1.7 1.7l-1.7 1.7zM146.4 261.7l1.7 -1.7l1.7 1.7l-1.7 1.7zM147.2 259.6l1.7 -1.7l1.7 1.7l-1.7 1.7zM148.0 259.2l1.7 -1.7l1.7 1.7l-1.7 1.7zM148.7 258.2l1.7 -1.7l1.7 1.7l-1.7 1.7zM149.5 256.4l1.7 -1.7l1.7 1.7l-1.7 1.7zM150.3 257.5l1.7 -1.7l1.7 1.7l-1.7 1.7zM151.1 257.7l1.7 -1.7l1.7 1.7l-1.7 1.7zM152.0 257.6l1.7 -1.7l1.7 1.7l-1.7 1.7zM153.0 259.3l1.7 -1.7l1.7 1.7l-1.7 1.7zM154.0 260.0l1.7 -1.7l1.7 1.7l-1.7 1.7zM154.9 261.0l1.7 -1.7l1.7 1.7l-1.7 1.7zM155.9 263.8l1.7 -1.7l1.7 1.7l-1.7 1.7zM156.9 266.7l1.7 -1.7l1.7 1.7l-1.7 1.7zM157.8 269.4l1.7 -1.7l1.7 1.7l-1.7 1.7zM158.8 272.1l1.7 -1.7l1.7 1.7l-1.7 1.7zM159.8 275.8l1.7 -1.7l1.7 1.7l-1.7 1.7zM160.8 278.7l1.7 -1.7l1.7 1.7l-1.7 1.7zM161.7 280.4l1.7 -1.7l1.7 1.7l-1.7 1.7zM162.7 282.7l1.7 -1.7l1.7 1.7l-1.7 1.7zM163.7 284.5l1.7 -1.7l1.7 1.7l-1.7 1.7zM164.8 288.2l1.7 -1.7l1.7 1.7l-1.7 1.7zM165.8 291.1l1.7 -1.7l1.7 1.7l-1.7 1.7zM166.8 291.5l1.7 -1.7l1.7 1.7l-1.7 1.7zM167.8 293.0l1.7 -1.7l1.7 1.7l-1.7 1.7zM168.9 296.3l1.7 -1.7l1.7 1.7l-1.7 1.7zM169.9 297.6l1.7 -1.7l1.7 1.7l-1.7 1.7zM171.0 302.3l1.7 -1.7l1.7 1.7l-1.7 1.7zM172.1 300.6l1.7 -1.7l1.7 1.7l-1.7 1.7zM173.2 305.0l1.7 -1.7l1.7 1.7l-1.7 1.7zM174.3 304.8l1.7 -1.7l1.7 1.7l-1.7 1.7zM175.4 306.5l1.7 -1.7l1.7 1.7l-1.7 1.7zM176.5 307.9l1.7 -1.7l1.7 1.7l-1.7 1.7zM177.6 308.7l1.7 -1.7l1.7 1.7l-1.7 1.7zM178.7 312.0l1.7 -1.7l1.7 1.7l-1.7 1.7zM179.8 310.7l1.7 -1.7l1.7 1.7l-1.7 1.7zM181.0 314.4l1.7 -1.7l1.7 1.7l-1.7 1.7zM182.1 314.8l1.7 -1.7l1.7 1.7l-1.7 1.7zM183.3 315.0l1.7 -1.7l1.7 1.7l-1.7 1.7zM184.5 317.2l1.7 -1.7l1.7 1.7l-1.7 1.7zM185.7 318.0l1.7 -1.7l1.7 1.7l-1.7 1.7zM186.8 320.4l1.7 -1.7l1.7 1.7l-1.7 1.7zM188.0 321.7l1.7 -1.7l1.7 1.7l-1.7 1.7zM189.3 321.3l1.7 -1.7l1.7 1.7l-1.7 1.7zM190.5 323.0l1.7 -1.7l1.7 1.7l-1.7 1.7zM191.7 324.5l1.7 -1.7l1.7 1.7l-1.7 1.7zM192.9 325.9l1.7 -1.7l1.7 1.7l-1.7 1.7zM194.2 327.6l1.7 -1.7l1.7 1.7l-1.7 1.7zM195.4 329.0l1.7 -1.7l1.7 1.7l-1.7 1.7zM196.7 331.1l1.7 -1.7l1.7 1.7l-1.7 1.7zM198.0 332.6l1.7 -1.7l1.7 1.7l-1.7 1.7zM199.2 331.8l1.7 -1.7l1.7 1.7l-1.7 1.7zM200.5 336.2l1.7 -1.7l1.7 1.7l-1.7 1.7zM201.8 335.7l1.7 -1.7l1.7 1.7l-1.7 1.7zM203.1 336.6l1.7 -1.7l1.7 1.7l-1.7 1.7zM204.4 340.4l1.7 -1.7l1.7 1.7l-1.7 1.7zM205.8 340.5l1.7 -1.7l1.7 1.7l-1.7 1.7zM207.1 342.0l1.7 -1.7l1.7 1.7l-1.7 1.7zM208.4 345.4l1.7 -1.7l1.7 1.7l-1.7 1.7zM209.8 345.1l1.7 -1.7l1.7 1.7l-1.7 1.7zM211.2 344.6l1.7 -1.7l1.7 1.7l-1.7 1.7zM212.5 347.4l1.7 -1.7l1.7 1.7l-1.7 1.7zM213.9 349.3l1.7 -1.7l1.7 1.7l-1.7 1.7zM215.3 351.2l1.7 -1.7l1.7 1.7l-1.7 1.7zM216.7 350.0l1.7 -1.7l1.7 1.7l-1.7 1.7zM218.1 354.8l1.7 -1.7l1.7 1.7l-1.7 1.7zM219.5 354.4l1.7 -1.7l1.7 1.7l-1.7 1.7zM220.9 355.4l1.7 -1.7l1.7 1.7l-1.7 1.7zM222.4 357.3l1.7 -1.7l1.7 1.7l-1.7 1.7zM223.8 358.9l1.7 -1.7l1.7 1.7l-1.7 1.7zM225.3 358.9l1.7 -1.7l1.7 1.7l-1.7 1.7zM226.7 360.9l1.7 -1.7l1.7 1.7l-1.7 1.7zM228.2 361.5l1.7 -1.7l1.7 1.7l-1.7 1.7zM229.7 364.2l1.7 -1.7l1.7 1.7l-1.7 1.7zM231.2 364.2l1.7 -1.7l1.7 1.7l-1.7 1.7zM232.7 365.0l1.7 -1.7l1.7 1.7l-1.7 1.7zM234.2 366.2l1.7 -1.7l1.7 1.7l-1.7 1.7zM235.7 369.3l1.7 -1.7l1.7 1.7l-1.7 1.7zM237.2 367.9l1.7 -1.7l1.7 1.7l-1.7 1.7zM238.8 369.1l1.7 -1.7l1.7 1.7l-1.7 1.7zM240.3 372.7l1.7 -1.7l1.7 1.7l-1.7 1.7zM241.9 374.8l1.7 -1.7l1.7 1.7l-1.7 1.7zM243.4 372.3l1.7 -1.7l1.7 1.7l-1.7 1.7zM245.0 376.1l1.7 -1.7l1.7 1.7l-1.7 1.7zM246.6 374.4l1.7 -1.7l1.7 1.7l-1.7 1.7zM248.2 375.9l1.7 -1.7l1.7 1.7l-1.7 1.7zM249.8 378.4l1.7 -1.7l1.7 1.7l-1.7 1.7zM251.4 380.3l1.7 -1.7l1.7 1.7l-1.7 1.7zM253.0 379.5l1.7 -1.7l1.7 1.7l-1.7 1.7zM254.6 381.5l1.7 -1.7l1.7 1.7l-1.7 1.7zM256.3 382.7l1.7 -1.7l1.7 1.7l-1.7 1.7zM257.9 381.1l1.7 -1.7l1.7 1.7l-1.7 1.7zM259.6 382.1l1.7 -1.7l1.7 1.7l-1.7 1.7zM261.2 384.4l1.7 -1.7l1.7 1.7l-1.7 1.7zM262.9 384.1l1.7 -1.7l1.7 1.7l-1.7 1.7zM264.6 387.6l1.7 -1.7l1.7 1.7l-1.7 1.7zM266.3 389.2l1.7 -1.7l1.7 1.7l-1.7 1.7zM268.0 389.0l1.7 -1.7l1.7 1.7l-1.7 1.7zM269.7 390.0l1.7 -1.7l1.7 1.7l-1.7 1.7zM271.4 389.9l1.7 -1.7l1.7 1.7l-1.7 1.7zM273.1 392.4l1.7 -1.7l1.7 1.7l-1.7 1.7zM274.9 392.6l1.7 -1.7l1.7 1.7l-1.7 1.7zM276.6 394.6l1.7 -1.7l1.7 1.7l-1.7 1.7zM278.4 395.4l1.7 -1.7l1.7 1.7l-1.7 1.7zM280.1 396.1l1.7 -1.7l1.7 1.7l-1.7 1.7zM281.9 398.1l1.7 -1.7l1.7 1.7l-1.7 1.7zM283.7 399.1l1.7 -1.7l1.7 1.7l-1.7 1.7zM285.4 401.1l1.7 -1.7l1.7 1.7l-1.7 1.7zM287.2 399.2l1.7 -1.7l1.7 1.7l-1.7 1.7zM289.0 400.6l1.7 -1.7l1.7 1.7l-1.7 1.7zM290.8 400.1l1.7 -1.7l1.7 1.7l-1.7 1.7zM292.7 402.7l1.7 -1.7l1.7 1.7l-1.7 1.7zM294.5 403.5l1.7 -1.7l1.7 1.7l-1.7 1.7zM296.3 403.9l1.7 -1.7l1.7 1.7l-1.7 1.7zM298.2 404.9l1.7 -1.7l1.7 1.7l-1.7 1.7zM300.0 405.8l1.7 -1.7l1.7 1.7l-1.7 1.7zM301.9 404.9l1.7 -1.7l1.7 1.7l-1.7 1.7zM303.8 406.9l1.7 -1.7l1.7 1.7l-1.7 1.7zM305.6 406.4l1.7 -1.7l1.7 1.7l-1.7 1.7zM307.5 408.5l1.7 -1.7l1.7 1.7l-1.7 1.7zM309.4 407.7l1.7 -1.7l1.7 1.7l-1.7 1.7zM311.3 410.0l1.7 -1.7l1.7 1.7l-1.7 1.7zM313.2 410.3l1.7 -1.7l1.7 1.7l-1.7 1.7zM315.1 412.4l1.7 -1.7l1.7 1.7l-1.7 1.7zM317.1 413.0l1.7 -1.7l1.7 1.7l-1.7 1.7zM319.0 413.1l1.7 -1.7l1.7 1.7l-1.7 1.7zM320.9 412.4l1.7 -1.7l1.7 1.7l-1.7 1.7zM322.9 413.1l1.7 -1.7l1.7 1.7l-1.7 1.7zM324.8 414.5l1.7 -1.7l1.7 1.7l-1.7 1.7zM326.8 415.3l1.7 -1.7l1.7 1.7l-1.7 1.7zM328.8 414.1l1.7 -1.7l1.7 1.7l-1.7 1.7zM330.7 417.6l1.7 -1.7l1.7 1.7l-1.7 1.7zM332.7 417.2l1.7 -1.7l1.7 1.7l-1.7 1.7zM334.7 417.3l1.7 -1.7l1.7 1.7l-1.7 1.7zM336.7 418.3l1.7 -1.7l1.7 1.7l-1.7 1.7zM338.7 422.7l1.7 -1.7l1.7 1.7l-1.7 1.7zM340.8 424.0l1.7 -1.7l1.7 1.7l-1.7 1.7zM342.8 421.7l1.7 -1.7l1.7 1.7l-1.7 1.7zM344.8 422.5l1.7 -1.7l1.7 1.7l-1.7 1.7zM346.9 425.8l1.7 -1.7l1.7 1.7l-1.7 1.7zM348.9 425.2l1.7 -1.7l1.7 1.7l-1.7 1.7zM351.0 428.1l1.7 -1.7l1.7 1.7l-1.7 1.7zM353.0 427.3l1.7 -1.7l1.7 1.7l-1.7 1.7zM355.1 432.1l1.7 -1.7l1.7 1.7l-1.7 1.7zM357.2 428.7l1.7 -1.7l1.7 1.7l-1.7 1.7zM359.2 427.8l1.7 -1.7l1.7 1.7l-1.7 1.7zM361.3 430.4l1.7 -1.7l1.7 1.7l-1.7 1.7zM363.4 430.9l1.7 -1.7l1.7 1.7l-1.7 1.7zM365.5 429.7l1.7 -1.7l1.7 1.7l-1.7 1.7zM367.6 430.6l1.7 -1.7l1.7 1.7l-1.7 1.7zM369.8 432.7l1.7 -1.7l1.7 1.7l-1.7 1.7zM371.9 433.7l1.7 -1.7l1.7 1.7l-1.7 1.7zM374.0 432.3l1.7 -1.7l1.7 1.7l-1.7 1.7zM376.1 433.9l1.7 -1.7l1.7 1.7l-1.7 1.7zM378.3 433.6l1.7 -1.7l1.7 1.7l-1.7 1.7zM380.4 434.7l1.7 -1.7l1.7 1.7l-1.7 1.7zM382.6 433.2l1.7 -1.7l1.7 1.7l-1.7 1.7zM384.8 439.6l1.7 -1.7l1.7 1.7l-1.7 1.7zM386.9 433.6l1.7 -1.7l1.7 1.7l-1.7 1.7zM389.1 437.7l1.7 -1.7l1.7 1.7l-1.7 1.7zM391.3 438.5l1.7 -1.7l1.7 1.7l-1.7 1.7zM393.5 441.6l1.7 -1.7l1.7 1.7l-1.7 1.7zM395.7 437.4l1.7 -1.7l1.7 1.7l-1.7 1.7zM397.9 443.3l1.7 -1.7l1.7 1.7l-1.7 1.7zM400.1 441.5l1.7 -1.7l1.7 1.7l-1.7 1.7zM402.3 442.6l1.7 -1.7l1.7 1.7l-1.7 1.7zM404.5 440.9l1.7 -1.7l1.7 1.7l-1.7 1.7zM406.7 444.5l1.7 -1.7l1.7 1.7l-1.7 1.7zM409.0 444.5l1.7 -1.7l1.7 1.7l-1.7 1.7zM411.2 446.9l1.7 -1.7l1.7 1.7l-1.7 1.7zM413.5 444.6l1.7 -1.7l1.7 1.7l-1.7 1.7zM415.7 444.6l1.7 -1.7l1.7 1.7l-1.7 1.7zM418.0 445.2l1.7 -1.7l1.7 1.7l-1.7 1.7zM420.2 444.5l1.7 -1.7l1.7 1.7l-1.7 1.7zM422.5 448.2l1.7 -1.7l1.7 1.7l-1.7 1.7zM424.8 445.8l1.7 -1.7l1.7 1.7l-1.7 1.7zM427.0 449.2l1.7 -1.7l1.7 1.7l-1.7 1.7zM429.3 450.4l1.7 -1.7l1.7 1.7l-1.7 1.7zM431.6 450.6l1.7 -1.7l1.7 1.7l-1.7 1.7zM433.9 447.6l1.7 -1.7l1.7 1.7l-1.7 1.7zM436.2 449.0l1.7 -1.7l1.7 1.7l-1.7 1.7zM438.5 450.5l1.7 -1.7l1.7 1.7l-1.7 1.7zM440.8 454.8l1.7 -1.7l1.7 1.7l-1.7 1.7zM443.1 449.1l1.7 -1.7l1.7 1.7l-1.7 1.7zM445.5 450.1l1.7 -1.7l1.7 1.7l-1.7 1.7zM447.8 454.8l1.7 -1.7l1.7 1.7l-1.7 1.7zM450.1 454.1l1.7 -1.7l1.7 1.7l-1.7 1.7zM452.5 453.4l1.7 -1.7l1.7 1.7l-1.7 1.7zM454.8 453.5l1.7 -1.7l1.7 1.7l-1.7 1.7zM457.2 457.0l1.7 -1.7l1.7 1.7l-1.7 1.7zM459.5 455.6l1.7 -1.7l1.7 1.7l-1.7 1.7zM461.9 458.3l1.7 -1.7l1.7 1.7l-1.7 1.7zM464.2 461.6l1.7 -1.7l1.7 1.7l-1.7 1.7zM466.6 458.5l1.7 -1.7l1.7 1.7l-1.7 1.7zM469.0 460.1l1.7 -1.7l1.7 1.7l-1.7 1.7zM471.3 458.1l1.7 -1.7l1.7 1.7l-1.7 1.7zM473.7 460.4l1.7 -1.7l1.7 1.7l-1.7 1.7zM476.1 456.2l1.7 -1.7l1.7 1.7l-1.7 1.7zM478.5 457.5l1.7 -1.7l1.7 1.7l-1.7 1.7zM480.9 463.7l1.7 -1.7l1.7 1.7l-1.7 1.7zM483.3 465.1l1.7 -1.7l1.7 1.7l-1.7 1.7zM485.7 466.8l1.7 -1.7l1.7 1.7l-1.7 1.7zM488.1 463.7l1.7 -1.7l1.7 1.7l-1.7 1.7zM490.5 458.7l1.7 -1.7l1.7 1.7l-1.7 1.7zM492.9 463.5l1.7 -1.7l1.7 1.7l-1.7 1.7zM495.4 466.6l1.7 -1.7l1.7 1.7l-1.7 1.7zM497.8 462.6l1.7 -1.7l1.7 1.7l-1.7 1.7zM500.2 467.9l1.7 -1.7l1.7 1.7l-1.7 1.7zM502.7 462.0l1.7 -1.7l1.7 1.7l-1.7 1.7zM505.1 464.3l1.7 -1.7l1.7 1.7l-1.7 1.7zM507.5 465.9l1.7 -1.7l1.7 1.7l-1.7 1.7zM510.0 469.1l1.7 -1.7l1.7 1.7l-1.7 1.7zM512.4 472.3l1.7 -1.7l1.7 1.7l-1.7 1.7zM514.9 464.1l1.7 -1.7l1.7 1.7l-1.7 1.7zM517.4 466.3l1.7 -1.7l1.7 1.7l-1.7 1.7zM519.8 465.5l1.7 -1.7l1.7 1.7l-1.7 1.7zM522.3 468.8l1.7 -1.7l1.7 1.7l-1.7 1.7zM524.8 467.4l1.7 -1.7l1.7 1.7l-1.7 1.7zM527.2 469.9l1.7 -1.7l1.7 1.7l-1.7 1.7zM529.7 471.5l1.7 -1.7l1.7 1.7l-1.7 1.7zM532.2 472.6l1.7 -1.7l1.7 1.7l-1.7 1.7zM534.7 468.5l1.7 -1.7l1.7 1.7l-1.7 1.7zM537.2 473.4l1.7 -1.7l1.7 1.7l-1.7 1.7zM539.7 472.5l1.7 -1.7l1.7 1.7l-1.7 1.7zM542.2 469.7l1.7 -1.7l1.7 1.7l-1.7 1.7zM544.7 473.3l1.7 -1.7l1.7 1.7l-1.7 1.7zM547.2 471.9l1.7 -1.7l1.7 1.7l-1.7 1.7zM549.7 471.1l1.7 -1.7l1.7 1.7l-1.7 1.7zM552.2 476.6l1.7 -1.7l1.7 1.7l-1.7 1.7zM554.7 470.9l1.7 -1.7l1.7 1.7l-1.7 1.7zM557.2 479.5l1.7 -1.7l1.7 1.7l-1.7 1.7zM559.7 477.9l1.7 -1.7l1.7 1.7l-1.7 1.7zM562.3 471.0l1.7 -1.7l1.7 1.7l-1.7 1.7zM564.8 471.4l1.7 -1.7l1.7 1.7l-1.7 1.7zM567.3 470.3l1.7 -1.7l1.7 1.7l-1.7 1.7zM569.9 471.7l1.7 -1.7l1.7 1.7l-1.7 1.7zM572.4 474.3l1.7 -1.7l1.7 1.7l-1.7 1.7zM574.9 478.2l1.7 -1.7l1.7 1.7l-1.7 1.7zM577.5 478.0l1.7 -1.7l1.7 1.7l-1.7 1.7zM580.0 483.3l1.7 -1.7l1.7 1.7l-1.7 1.7zM582.6 480.9l1.7 -1.7l1.7 1.7l-1.7 1.7zM585.1 484.1l1.7 -1.7l1.7 1.7l-1.7 1.7zM587.7 484.3l1.7 -1.7l1.7 1.7l-1.7 1.7zM590.2 480.1l1.7 -1.7l1.7 1.7l-1.7 1.7zM592.8 480.7l1.7 -1.7l1.7 1.7l-1.7 1.7zM595.4 480.4l1.7 -1.7l1.7 1.7l-1.7 1.7zM597.9 481.9l1.7 -1.7l1.7 1.7l-1.7 1.7zM600.5 481.2l1.7 -1.7l1.7 1.7l-1.7 1.7zM603.1 489.1l1.7 -1.7l1.7 1.7l-1.7 1.7zM605.7 485.1l1.7 -1.7l1.7 1.7l-1.7 1.7zM608.2 485.6l1.7 -1.7l1.7 1.7l-1.7 1.7zM610.8 479.1l1.7 -1.7l1.7 1.7l-1.7 1.7zM613.4 481.0l1.7 -1.7l1.7 1.7l-1.7 1.7zM616.0 486.2l1.7 -1.7l1.7 1.7l-1.7 1.7zM618.6 489.1l1.7 -1.7l1.7 1.7l-1.7 1.7zM621.2 490.3l1.7 -1.7l1.7 1.7l-1.7 1.7zM623.8 489.5l1.7 -1.7l1.7 1.7l-1.7 1.7zM626.4 485.7l1.7 -1.7l1.7 1.7l-1.7 1.7zM629.0 486.8l1.7 -1.7l1.7 1.7l-1.7 1.7zM631.6 492.4l1.7 -1.7l1.7 1.7l-1.7 1.7zM634.2 490.0l1.7 -1.7l1.7 1.7l-1.7 1.7zM636.8 495.5l1.7 -1.7l1.7 1.7l-1.7 1.7zM639.4 494.7l1.7 -1.7l1.7 1.7l-1.7 1.7zM642.0 490.2l1.7 -1.7l1.7 1.7l-1.7 1.7zM644.6 486.7l1.7 -1.7l1.7 1.7l-1.7 1.7zM647.2 492.7l1.7 -1.7l1.7 1.7l-1.7 1.7zM649.8 488.0l1.7 -1.7l1.7 1.7l-1.7 1.7zM652.5 504.2l1.7 -1.7l1.7 1.7l-1.7 1.7zM655.1 487.7l1.7 -1.7l1.7 1.7l-1.7 1.7zM657.7 491.6l1.7 -1.7l1.7 1.7l-1.7 1.7zM660.3 495.2l1.7 -1.7l1.7 1.7l-1.7 1.7zM663.0 495.9l1.7 -1.7l1.7 1.7l-1.7 1.7zM665.6 496.8l1.7 -1.7l1.7 1.7l-1.7 1.7zM668.2 499.1l1.7 -1.7l1.7 1.7l-1.7 1.7zM670.9 494.2l1.7 -1.7l1.7 1.7l-1.7 1.7zM673.5 497.9l1.7 -1.7l1.7 1.7l-1.7 1.7zM676.1 504.8l1.7 -1.7l1.7 1.7l-1.7 1.7zM678.8 495.2l1.7 -1.7l1.7 1.7l-1.7 1.7zM681.4 502.9l1.7 -1.7l1.7 1.7l-1.7 1.7zM684.1 499.7l1.7 -1.7l1.7 1.7l-1.7 1.7zM686.7 493.4l1.7 -1.7l1.7 1.7l-1.7 1.7zM689.4 504.4l1.7 -1.7l1.7 1.7l-1.7 1.7zM692.0 499.6l1.7 -1.7l1.7 1.7l-1.7 1.7zM694.7 495.7l1.7 -1.7l1.7 1.7l-1.7 1.7zM697.3 505.4l1.7 -1.7l1.7 1.7l-1.7 1.7zM700.0 503.5l1.7 -1.7l1.7 1.7l-1.7 1.7zM702.7 507.2l1.7 -1.7l1.7 1.7l-1.7 1.7zM705.3 506.8l1.7 -1.7l1.7 1.7l-1.7 1.7zM708.0 510.6l1.7 -1.7l1.7 1.7l-1.7 1.7zM710.6 498.7l1.7 -1.7l1.7 1.7l-1.7 1.7zM713.3 510.7l1.7 -1.7l1.7 1.7l-1.7 1.7zM716.0 506.8l1.7 -1.7l1.7 1.7l-1.7 1.7zM718.6 505.0l1.7 -1.7l1.7 1.7l-1.7 1.7zM721.3 514.1l1.7 -1.7l1.7 1.7l-1.7 1.7zM724.0 507.5l1.7 -1.7l1.7 1.7l-1.7 1.7zM726.7 512.9l1.7 -1.7l1.7 1.7l-1.7 1.7zM729.3 510.5l1.7 -1.7l1.7 1.7l-1.7 1.7zM732.0 515.7l1.7 -1.7l1.7 1.7l-1.7 1.7zM734.7 504.5l1.7 -1.7l1.7 1.7l-1.7 1.7zM737.4 501.7l1.7 -1.7l1.7 1.7l-1.7 1.7zM740.1 515.2l1.7 -1.7l1.7 1.7l-1.7 1.7zM742.7 508.9l1.7 -1.7l1.7 1.7l-1.7 1.7zM745.4 510.9l1.7 -1.7l1.7 1.7l-1.7 1.7zM748.1 508.4l1.7 -1.7l1.7 1.7l-1.7 1.7zM750.8 513.4l1.7 -1.7l1.7 1.7l-1.7 1.7zM753.5 506.9l1.7 -1.7l1.7 1.7l-1.7 1.7zM756.2 512.1l1.7 -1.7l1.7 1.7l-1.7 1.7zM758.9 505.8l1.7 -1.7l1.7 1.7l-1.7 1.7zM761.6 515.1l1.7 -1.7l1.7 1.7l-1.7 1.7zM764.3 513.7l1.7 -1.7l1.7 1.7l-1.7 1.7zM767.0 499.9l1.7 -1.7l1.7 1.7l-1.7 1.7zM769.7 513.4l1.7 -1.7l1.7 1.7l-1.7 1.7zM772.4 508.8l1.7 -1.7l1.7 1.7l-1.7 1.7zM775.1 524.6l1.7 -1.7l1.7 1.7l-1.7 1.7zM777.8 511.7l1.7 -1.7l1.7 1.7l-1.7 1.7zM780.5 514.8l1.7 -1.7l1.7 1.7l-1.7 1.7zM783.2 509.0l1.7 -1.7l1.7 1.7l-1.7 1.7zM785.9 521.3l1.7 -1.7l1.7 1.7l-1.7 1.7zM788.6 513.9l1.7 -1.7l1.7 1.7l-1.7 1.7zM791.3 513.3l1.7 -1.7l1.7 1.7l-1.7 1.7zM794.0 511.3l1.7 -1.7l1.7 1.7l-1.7 1.7zM796.7 521.3l1.7 -1.7l1.7 1.7l-1.7 1.7zM799.4 527.1l1.7 -1.7l1.7 1.7l-1.7 1.7zM802.1 525.2l1.7 -1.7l1.7 1.7l-1.7 1.7zM804.8 516.4l1.7 -1.7l1.7 1.7l-1.7 1.7zM807.6 516.6l1.7 -1.7l1.7 1.7l-1.7 1.7zM810.3 516.3l1.7 -1.7l1.7 1.7l-1.7 1.7zM813.0 512.0l1.7 -1.7l1.7 1.7l-1.7 1.7zM815.7 510.6l1.7 -1.7l1.7 1.7l-1.7 1.7zM818.4 530.4l1.7 -1.7l1.7 1.7l-1.7 1.7zM821.1 516.7l1.7 -1.7l1.7 1.7l-1.7 1.7zM823.9 531.0l1.7 -1.7l1.7 1.7l-1.7 1.7zM826.6 529.0l1.7 -1.7l1.7 1.7l-1.7 1.7zM829.3 519.8l1.7 -1.7l1.7 1.7l-1.7 1.7zM832.0 517.8l1.7 -1.7l1.7 1.7l-1.7 1.7zM834.8 531.0l1.7 -1.7l1.7 1.7l-1.7 1.7zM837.5 529.1l1.7 -1.7l1.7 1.7l-1.7 1.7zM840.2 516.6l1.7 -1.7l1.7 1.7l-1.7 1.7zM842.9 522.7l1.7 -1.7l1.7 1.7l-1.7 1.7zM845.7 521.4l1.7 -1.7l1.7 1.7l-1.7 1.7zM848.4 522.6l1.7 -1.7l1.7 1.7l-1.7 1.7zM851.1 518.9l1.7 -1.7l1.7 1.7l-1.7 1.7zM853.9 525.7l1.7 -1.7l1.7 1.7l-1.7 1.7zM856.6 533.1l1.7 -1.7l1.7 1.7l-1.7 1.7zM859.3 536.1l1.7 -1.7l1.7 1.7l-1.7 1.7zM862.1 527.4l1.7 -1.7l1.7 1.7l-1.7 1.7zM864.8 524.5l1.7 -1.7l1.7 1.7l-1.7 1.7zM867.5 533.6l1.7 -1.7l1.7 1.7l-1.7 1.7zM870.3 521.6l1.7 -1.7l1.7 1.7l-1.7 1.7zM873.0 535.1l1.7 -1.7l1.7 1.7l-1.7 1.7zM875.8 534.3l1.7 -1.7l1.7 1.7l-1.7 1.7zM878.5 527.7l1.7 -1.7l1.7 1.7l-1.7 1.7zM881.2 531.6l1.7 -1.7l1.7 1.7l-1.7 1.7zM884.0 530.7l1.7 -1.7l1.7 1.7l-1.7 1.7zM886.7 522.5l1.7 -1.7l1.7 1.7l-1.7 1.7zM889.5 532.6l1.7 -1.7l1.7 1.7l-1.7 1.7zM892.2 532.4l1.7 -1.7l1.7 1.7l-1.7 1.7zM895.0 521.9l1.7 -1.7l1.7 1.7l-1.7 1.7zM897.7 526.5l1.7 -1.7l1.7 1.7l-1.7 1.7zM900.4 519.7l1.7 -1.7l1.7 1.7l-1.7 1.7zM903.2 533.1l1.7 -1.7l1.7 1.7l-1.7 1.7zM905.9 533.0l1.7 -1.7l1.7 1.7l-1.7 1.7zM908.7 528.9l1.7 -1.7l1.7 1.7l-1.7 1.7zM911.4 522.2l1.7 -1.7l1.7 1.7l-1.7 1.7zM914.2 532.4l1.7 -1.7l1.7 1.7l-1.7 1.7zM916.9 529.9l1.7 -1.7l1.7 1.7l-1.7 1.7zM919.7 543.7l1.7 -1.7l1.7 1.7l-1.7 1.7zM922.4 529.3l1.7 -1.7l1.7 1.7l-1.7 1.7zM925.2 541.8l1.7 -1.7l1.7 1.7l-1.7 1.7zM927.9 541.5l1.7 -1.7l1.7 1.7l-1.7 1.7zM930.7 553.3l1.7 -1.7l1.7 1.7l-1.7 1.7zM933.4 528.8l1.7 -1.7l1.7 1.7l-1.7 1.7zM936.2 534.2l1.7 -1.7l1.7 1.7l-1.7 1.7zM939.0 538.9l1.7 -1.7l1.7 1.7l-1.7 1.7zM941.7 534.0l1.7 -1.7l1.7 1.7l-1.7 1.7zM944.5 546.1l1.7 -1.7l1.7 1.7l-1.7 1.7zM947.2 555.6l1.7 -1.7l1.7 1.7l-1.7 1.7zM950.0 542.5l1.7 -1.7l1.7 1.7l-1.7 1.7zM952.7 540.5l1.7 -1.7l1.7 1.7l-1.7 1.7zM955.5 538.0l1.7 -1.7l1.7 1.7l-1.7 1.7zM958.3 538.1l1.7 -1.7l1.7 1.7l-1.7 1.7zM961.0 535.6l1.7 -1.7l1.7 1.7l-1.7 1.7zM963.8 549.7l1.7 -1.7l1.7 1.7l-1.7 1.7zM966.5 553.8l1.7 -1.7l1.7 1.7l-1.7 1.7zM969.3 546.7l1.7 -1.7l1.7 1.7l-1.7 1.7zM972.1 531.5l1.7 -1.7l1.7 1.7l-1.7 1.7zM974.8 542.9l1.7 -1.7l1.7 1.7l-1.7 1.7zM977.6 530.2l1.7 -1.7l1.7 1.7l-1.7 1.7zM980.4 538.2l1.7 -1.7l1.7 1.7l-1.7 1.7zM983.1 538.2l1.7 -1.7l1.7 1.7l-1.7 1.7zM985.9 555.7l1.7 -1.7l1.7 1.7l-1.7 1.7zM988.6 532.6l1.7 -1.7l1.7 1.7l-1.7 1.7zM991.4 549.5l1.7 -1.7l1.7 1.7l-1.7 1.7zM994.2 554.2l1.7 -1.7l1.7 1.7l-1.7 1.7zM996.9 542.6l1.7 -1.7l1.7 1.7l-1.7 1.7zM999.7 542.3l1.7 -1.7l1.7 1.7l-1.7 1.7zM1002.5 541.6l1.7 -1.7l1.7 1.7l-1.7 1.7zM1005.2 536.2l1.7 -1.7l1.7 1.7l-1.7 1.7zM1008.0 534.6l1.7 -1.7l1.7 1.7l-1.7 1.7zM1010.8 546.3l1.7 -1.7l1.7 1.7l-1.7 1.7zM1013.6 567.8l1.7 -1.7l1.7 1.7l-1.7 1.7zM1016.3 561.8l1.7 -1.7l1.7 1.7l-1.7 1.7zM1019.1 546.3l1.7 -1.7l1.7 1.7l-1.7 1.7zM1021.9 546.7l1.7 -1.7l1.7 1.7l-1.7 1.7zM1024.6 549.5l1.7 -1.7l1.7 1.7l-1.7 1.7zM1027.4 535.7l1.7 -1.7l1.7 1.7l-1.7 1.7zM1030.2 560.7l1.7 -1.7l1.7 1.7l-1.7 1.7zM1033.0 556.1l1.7 -1.7l1.7 1.7l-1.7 1.7zM1035.7 530.5l1.7 -1.7l1.7 1.7l-1.7 1.7zM1038.5 536.9l1.7 -1.7l1.7 1.7l-1.7 1.7zM1041.3 552.2l1.7 -1.7l1.7 1.7l-1.7 1.7zM1044.0 551.4l1.7 -1.7l1.7 1.7l-1.7 1.7zM1046.8 549.0l1.7 -1.7l1.7 1.7l-1.7 1.7zM1049.6 536.0l1.7 -1.7l1.7 1.7l-1.7 1.7zM1052.4 553.2l1.7 -1.7l1.7 1.7l-1.7 1.7zM1055.1 544.6l1.7 -1.7l1.7 1.7l-1.7 1.7zM1057.9 559.5l1.7 -1.7l1.7 1.7l-1.7 1.7zM1060.7 545.5l1.7 -1.7l1.7 1.7l-1.7 1.7zM1063.5 553.4l1.7 -1.7l1.7 1.7l-1.7 1.7zM1066.2 551.6l1.7 -1.7l1.7 1.7l-1.7 1.7zM1069.0 551.7l1.7 -1.7l1.7 1.7l-1.7 1.7zM1071.8 555.3l1.7 -1.7l1.7 1.7l-1.7 1.7zM1074.6 545.5l1.7 -1.7l1.7 1.7l-1.7 1.7z" fill="#000"/>
<path d="M115.5 504.1H125.1V512.9H115.5zM116.2 482.3H125.9V489.7H116.2zM117.0 459.8H126.7V468.0H117.0zM117.8 440.3H127.4V448.3H117.8zM118.6 422.4H128.2V431.2H118.6zM119.3 408.6H129.0V413.7H119.3zM120.1 394.9H129.8V402.3H120.1zM120.9 381.3H130.5V390.4H120.9zM121.7 368.7H131.3V377.3H121.7zM122.4 357.0H132.1V363.6H122.4zM123.2 346.7H132.9V355.2H123.2zM124.0 335.7H133.6V343.8H124.0zM124.7 324.6H134.4V335.4H124.7zM125.5 317.7H135.2V326.0H125.5zM126.3 308.9H136.0V317.5H126.3zM127.1 301.8H136.7V309.6H127.1zM127.8 293.5H137.5V302.6H127.8zM128.6 287.5H138.3V295.1H128.6zM129.4 280.6H139.0V289.9H129.4zM130.2 274.5H139.8V283.6H130.2zM130.9 268.6H140.6V277.1H130.9zM131.7 263.4H141.4V271.3H131.7zM132.5 257.7H142.1V266.4H132.5zM133.2 253.0H142.9V260.0H133.2zM134.0 247.7H143.7V254.3H134.0zM134.8 242.9H144.5V250.9H134.8zM135.6 239.0H145.2V246.5H135.6zM136.3 235.1H146.0V242.6H136.3zM137.1 231.1H146.8V238.3H137.1zM137.9 228.2H147.6V232.6H137.9zM138.7 224.4H148.3V231.8H138.7zM139.4 221.8H149.1V229.7H139.4zM140.2 218.1H149.9V225.9H140.2zM141.0 215.3H150.6V223.1H141.0zM141.8 212.9H151.4V221.2H141.8zM142.5 211.5H152.2V219.0H142.5zM143.3 208.5H153.0V215.8H143.3zM144.1 207.0H153.7V215.2H144.1zM144.8 205.3H154.5V210.4H144.8zM145.6 204.4H155.3V211.6H145.6zM146.4 201.5H156.1V209.8H146.4zM147.2 200.7H156.8V209.4H147.2zM147.9 200.9H157.6V208.1H147.9zM148.9 200.3H158.6V208.1H148.9zM149.9 203.2H159.5V209.8H149.9zM150.8 205.2H160.5V212.6H150.8zM151.8 207.2H161.5V216.1H151.8zM152.8 210.3H162.4V218.4H152.8zM153.7 213.8H163.4V222.2H153.7zM154.7 216.5H164.4V223.9H154.7zM155.7 221.0H165.3V227.9H155.7zM156.6 224.2H166.3V229.8H156.6zM157.6 227.7H167.3V232.5H157.6zM158.6 230.0H168.3V236.6H158.6zM159.6 233.5H169.3V236.3H159.6zM160.6 235.2H170.3V244.4H160.6zM161.6 238.1H171.3V244.7H161.6zM162.6 241.4H172.3V248.2H162.6zM163.7 242.1H173.3V250.1H163.7zM164.7 244.7H174.4V252.9H164.7zM165.8 247.5H175.4V255.3H165.8zM166.8 249.4H176.5V256.3H166.8zM167.9 249.9H177.5V260.0H167.9zM169.0 252.9H178.6V261.6H169.0zM170.0 254.8H179.7V262.2H170.0zM171.1 255.1H180.8V262.7H171.1zM172.2 257.3H181.9V266.3H172.2zM173.3 258.9H183.0V265.0H173.3zM174.5 259.9H184.1V269.1H174.5zM175.6 260.8H185.2V270.6H175.6zM176.7 262.5H186.4V271.1H176.7zM177.9 264.2H187.5V272.9H177.9zM179.0 265.9H188.7V273.9H179.0zM180.2 268.6H189.8V276.0H180.2zM181.3 269.6H191.0V278.1H181.3zM182.5 270.4H192.2V278.7H182.5zM183.7 272.7H193.4V278.0H183.7zM184.9 273.9H194.6V282.5H184.9zM186.1 275.8H195.8V283.9H186.1zM187.3 278.2H197.0V286.2H187.3zM188.6 279.4H198.2V289.5H188.6zM189.8 282.1H199.5V291.5H189.8zM191.0 284.5H200.7V291.9H191.0zM192.3 285.7H202.0V295.3H192.3zM193.5 288.6H203.2V298.3H193.5zM194.8 290.7H204.5V299.9H194.8zM196.1 292.4H205.8V300.5H196.1zM197.4 294.0H207.1V301.8H197.4zM198.7 295.1H208.3V303.8H198.7zM200.0 296.3H209.7V304.3H200.0zM201.3 297.8H211.0V306.6H201.3zM202.6 298.6H212.3V308.3H202.6zM204.0 300.9H213.6V308.3H204.0zM205.3 300.9H215.0V310.9H205.3zM206.7 301.9H216.3V311.6H206.7zM208.0 303.4H217.7V311.1H208.0zM209.4 305.4H219.1V313.5H209.4zM210.8 306.6H220.4V314.4H210.8zM212.2 307.3H221.8V316.5H212.2zM213.6 309.1H223.2V316.8H213.6zM215.0 309.1H224.6V315.9H215.0zM216.4 310.6H226.1V317.7H216.4zM217.8 312.0H227.5V318.4H217.8zM219.3 313.0H228.9V321.4H219.3zM220.7 314.5H230.4V323.3H220.7zM222.2 314.7H231.8V325.2H222.2zM223.6 315.7H233.3V325.4H223.6zM225.1 316.0H234.8V326.9H225.1zM226.6 318.6H236.2V328.3H226.6zM228.1 319.4H237.7V327.5H228.1zM229.6 319.5H239.2V330.5H229.6zM231.1 320.1H240.7V331.0H231.1zM232.6 322.1H242.3V331.0H232.6zM234.1 323.3H243.8V333.1H234.1zM235.6 323.0H245.3V331.3H235.6zM237.2 323.7H246.9V333.5H237.2zM238.8 326.0H248.4V336.4H238.8zM240.3 326.8H250.0V337.7H240.3zM241.9 326.9H251.6V338.6H241.9zM243.5 328.0H253.1V337.9H243.5zM245.1 329.6H254.7V340.4H245.1zM246.7 330.6H256.3V337.6H246.7zM248.3 331.5H257.9V340.8H248.3zM249.9 332.0H259.6V342.3H249.9zM251.5 333.8H261.2V344.9H251.5zM253.1 333.5H262.8V345.2H253.1zM254.8 335.2H264.5V346.7H254.8zM256.4 335.7H266.1V347.4H256.4zM258.1 337.6H267.8V346.8H258.1zM259.8 337.4H269.4V348.3H259.8zM261.5 338.9H271.1V349.7H261.5zM263.2 340.0H272.8V350.5H263.2zM264.8 341.2H274.5V352.9H264.8zM266.6 341.0H276.2V352.4H266.6zM268.3 342.2H277.9V352.7H268.3zM270.0 343.9H279.7V355.9H270.0zM271.7 344.0H281.4V355.9H271.7zM273.5 344.0H283.1V356.3H273.5zM275.2 345.8H284.9V358.0H275.2zM277.0 345.8H286.6V359.6H277.0zM278.7 347.2H288.4V358.3H278.7zM280.5 348.5H290.2V358.2H280.5zM282.3 348.4H292.0V361.7H282.3zM284.1 350.7H293.8V361.4H284.1zM285.9 351.1H295.6V363.0H285.9zM287.7 350.6H297.4V363.5H287.7zM289.5 351.0H299.2V364.1H289.5zM291.4 352.0H301.0V363.9H291.4zM293.2 352.1H302.9V364.2H293.2zM295.0 354.5H304.7V365.4H295.0zM296.9 352.0H306.6V364.8H296.9zM298.8 353.8H308.4V366.4H298.8zM300.6 353.0H310.3V369.3H300.6zM302.5 353.2H312.2V368.4H302.5zM304.4 353.7H314.0V367.8H304.4zM306.3 355.9H315.9V370.7H306.3zM308.2 356.2H317.8V371.8H308.2zM310.1 357.8H319.7V370.9H310.1zM312.0 358.4H321.7V371.1H312.0zM313.9 359.2H323.6V369.0H313.9zM315.9 359.6H325.5V368.7H315.9zM317.8 361.6H327.5V374.3H317.8zM319.7 360.0H329.4V372.8H319.7zM321.7 363.1H331.4V376.6H321.7zM323.7 362.9H333.3V376.6H323.7zM325.6 363.0H335.3V375.9H325.6zM327.6 365.2H337.3V376.4H327.6zM329.6 363.7H339.3V378.8H329.6zM331.6 366.7H341.3V377.9H331.6zM333.6 367.2H343.3V377.8H333.6zM335.6 368.3H345.3V378.1H335.6zM337.6 368.8H347.3V379.9H337.6zM339.7 369.7H349.3V381.3H339.7zM341.7 370.4H351.3V383.9H341.7zM343.7 371.4H353.4V380.1H343.7zM345.8 372.4H355.4V383.1H345.8zM347.8 372.1H357.5V387.1H347.8zM349.9 373.9H359.5V384.5H349.9zM352.0 372.6H361.6V387.2H352.0zM354.0 373.9H363.7V388.2H354.0zM356.1 375.3H365.8V390.1H356.1zM358.2 375.9H367.9V387.8H358.2zM360.3 376.6H370.0V390.6H360.3zM362.4 377.5H372.1V392.3H362.4zM364.5 377.3H374.2V393.6H364.5zM366.6 377.6H376.3V392.1H366.6zM368.7 379.7H378.4V391.6H368.7zM370.9 379.2H380.5V389.2H370.9zM373.0 377.8H382.7V394.4H373.0zM375.2 379.6H384.8V395.9H375.2zM377.3 382.7H387.0V398.1H377.3zM379.5 382.1H389.1V394.0H379.5zM381.6 382.0H391.3V399.9H381.6zM383.8 383.0H393.5V401.5H383.8zM386.0 383.3H395.6V402.4H386.0zM388.2 382.9H397.8V400.9H388.2zM390.3 384.8H400.0V402.6H390.3zM392.5 385.6H402.2V396.4H392.5zM394.7 385.0H404.4V403.6H394.7zM397.0 384.0H406.6V406.1H397.0zM399.2 386.4H408.8V405.5H399.2zM401.4 387.6H411.1V403.9H401.4zM403.6 386.8H413.3V406.6H403.6zM405.8 384.2H415.5V402.8H405.8zM408.1 387.3H417.7V410.2H408.1zM410.3 387.0H420.0V409.8H410.3zM412.6 389.1H422.2V411.3H412.6zM414.8 388.3H424.5V406.9H414.8zM417.1 390.5H426.8V409.6H417.1zM419.4 389.1H429.0V413.4H419.4zM421.6 390.1H431.3V413.3H421.6zM423.9 392.6H433.6V414.5H423.9zM426.2 392.4H435.9V414.0H426.2zM428.5 393.1H438.1V408.9H428.5zM430.8 393.2H440.4V411.9H430.8zM433.1 395.7H442.7V413.6H433.1zM435.4 391.7H445.1V412.9H435.4zM437.7 393.9H447.4V414.0H437.7zM440.0 395.0H449.7V415.8H440.0zM442.3 395.6H452.0V418.3H442.3zM444.7 394.8H454.3V418.6H444.7zM447.0 398.0H456.7V420.6H447.0zM449.3 398.0H459.0V416.3H449.3zM451.7 397.0H461.3V421.1H451.7zM454.0 395.6H463.7V418.1H454.0zM456.4 399.3H466.0V422.7H456.4zM458.7 399.7H468.4V420.6H458.7zM461.1 400.8H470.8V425.5H461.1zM463.5 401.1H473.1V423.0H463.5zM465.8 400.2H475.5V425.0H465.8zM468.2 401.0H477.9V422.2H468.2zM470.6 403.5H480.3V425.0H470.6zM473.0 401.9H482.6V426.6H473.0zM475.4 403.0H485.0V424.1H475.4zM477.8 402.1H487.4V429.3H477.8zM480.2 404.9H489.8V423.6H480.2zM482.6 404.6H492.2V431.2H482.6zM485.0 408.4H494.6V427.1H485.0zM487.4 404.9H497.1V427.5H487.4zM489.8 407.6H499.5V433.0H489.8zM492.2 409.6H501.9V434.2H492.2zM494.7 407.2H504.3V428.9H494.7zM497.1 410.1H506.8V436.6H497.1zM499.5 411.1H509.2V433.1H499.5zM502.0 408.5H511.6V431.6H502.0zM504.4 412.0H514.1V433.6H504.4zM506.9 408.7H516.5V437.8H506.9zM509.3 411.4H519.0V438.7H509.3zM511.8 412.3H521.4V439.7H511.8zM514.2 416.6H523.9V439.6H514.2zM516.7 412.3H526.3V437.3H516.7zM519.2 409.7H528.8V439.1H519.2zM521.6 412.3H531.3V439.0H521.6zM524.1 415.3H533.8V439.3H524.1zM526.6 417.7H536.2V439.6H526.6zM529.1 415.3H538.7V444.7H529.1zM531.5 415.8H541.2V438.5H531.5zM534.0 417.1H543.7V445.9H534.0zM536.5 415.9H546.2V440.4H536.5zM539.0 415.8H548.7V446.6H539.0zM541.5 418.3H551.2V438.7H541.5zM544.0 419.1H553.7V437.6H544.0zM546.5 419.8H556.2V451.1H546.5zM549.1 417.8H558.7V450.4H549.1zM551.6 421.2H561.2V451.7H551.6zM554.1 414.9H563.7V451.2H554.1zM556.6 418.2H566.3V453.9H556.6zM559.1 418.2H568.8V453.1H559.1zM561.7 420.1H571.3V452.7H561.7zM564.2 419.8H573.9V451.3H564.2zM566.7 424.9H576.4V442.8H566.7zM569.3 419.6H578.9V451.5H569.3zM571.8 418.8H581.5V458.4H571.8zM574.3 425.0H584.0V454.7H574.3zM576.9 422.8H586.6V457.0H576.9zM579.4 422.8H589.1V452.3H579.4zM582.0 422.4H591.7V456.9H582.0zM584.6 425.5H594.2V459.5H584.6zM587.1 423.4H596.8V458.7H587.1zM589.7 424.9H599.3V456.5H589.7zM592.2 425.1H601.9V458.6H592.2zM594.8 423.9H604.5V454.1H594.8zM597.4 426.7H607.0V457.1H597.4zM600.0 423.9H609.6V448.9H600.0zM602.5 424.0H612.2V457.4H602.5zM605.1 425.4H614.8V465.6H605.1zM607.7 427.8H617.4V464.3H607.7zM610.3 425.6H619.9V466.5H610.3zM612.9 427.5H622.5V464.5H612.9zM615.4 424.7H625.1V467.1H615.4zM618.0 429.1H627.7V462.8H618.0zM620.6 425.6H630.3V469.5H620.6zM623.2 424.7H632.9V467.5H623.2zM625.8 429.3H635.5V469.8H625.8zM628.4 427.1H638.1V469.2H628.4zM631.0 430.9H640.7V469.1H631.0zM633.6 426.6H643.3V464.2H633.6zM636.3 427.5H645.9V471.3H636.3zM638.9 429.2H648.5V472.4H638.9zM641.5 429.8H651.1V463.4H641.5zM644.1 428.4H653.8V460.9H644.1zM646.7 427.7H656.4V474.3H646.7zM649.3 432.0H659.0V468.7H649.3zM652.0 429.9H661.6V470.5H652.0zM654.6 427.6H664.2V476.0H654.6zM657.2 427.1H666.9V471.1H657.2zM659.8 434.0H669.5V476.9H659.8zM662.5 433.0H672.1V470.6H662.5zM665.1 428.0H674.8V472.7H665.1zM667.7 428.4H677.4V470.9H667.7zM670.4 428.0H680.0V478.8H670.4zM673.0 435.3H682.7V473.4H673.0zM675.7 432.2H685.3V476.4H675.7zM678.3 430.5H688.0V469.5H678.3zM680.9 434.2H690.6V464.9H680.9zM683.6 429.9H693.3V466.0H683.6zM686.2 428.9H695.9V468.5H686.2zM688.9 433.5H698.6V476.5H688.9zM691.6 427.3H701.2V469.5H691.6zM694.2 436.9H703.9V472.9H694.2zM696.9 435.7H706.5V467.9H696.9zM699.5 431.9H709.2V483.0H699.5zM702.2 436.4H711.8V485.6H702.2zM704.8 435.7H714.5V467.9H704.8zM707.5 437.6H717.2V481.9H707.5zM710.2 440.6H719.8V480.4H710.2zM712.8 437.4H722.5V488.4H712.8zM715.5 435.4H725.2V485.2H715.5zM718.2 439.9H727.8V489.2H718.2zM720.9 439.3H730.5V485.0H720.9zM723.5 440.0H733.2V491.2H723.5zM726.2 441.3H735.9V482.3H726.2zM728.9 443.1H738.5V493.1H728.9zM731.6 443.8H741.2V495.1H731.6zM734.2 450.2H743.9V494.0H734.2zM736.9 446.1H746.6V489.0H736.9zM739.6 447.2H749.3V489.9H739.6zM742.3 442.5H752.0V480.9H742.3zM745.0 442.5H754.6V496.7H745.0zM747.7 448.3H757.3V498.8H747.7zM750.4 442.5H760.0V492.6H750.4zM753.0 443.3H762.7V493.9H753.0zM755.7 445.8H765.4V502.1H755.7zM758.4 441.8H768.1V495.6H758.4zM761.1 444.4H770.8V494.1H761.1zM763.8 442.5H773.5V483.1H763.8zM766.5 446.7H776.2V487.9H766.5zM769.2 441.6H778.9V502.5H769.2zM771.9 450.1H781.6V497.1H771.9zM774.6 441.5H784.3V497.7H774.6zM777.3 444.5H787.0V507.5H777.3zM780.0 442.3H789.7V506.5H780.0zM782.7 440.8H792.4V497.1H782.7zM785.4 443.6H795.1V506.6H785.4zM788.2 439.4H797.8V505.4H788.2zM790.9 442.5H800.5V485.4H790.9zM793.6 448.1H803.2V509.6H793.6zM796.3 439.9H805.9V505.5H796.3zM799.0 445.1H808.7V503.1H799.0zM801.7 446.5H811.4V488.2H801.7zM804.4 445.8H814.1V498.3H804.4zM807.1 441.6H816.8V508.1H807.1zM809.9 448.0H819.5V504.2H809.9zM812.6 451.6H822.2V512.7H812.6zM815.3 450.6H825.0V491.7H815.3zM818.0 448.0H827.7V513.4H818.0zM820.7 449.2H830.4V508.3H820.7zM823.5 446.9H833.1V505.9H823.5zM826.2 452.5H835.8V504.7H826.2zM828.9 452.3H838.6V515.6H828.9zM831.6 445.7H841.3V509.8H831.6zM834.4 445.6H844.0V493.0H834.4zM837.1 453.8H846.7V513.6H837.1zM839.8 450.4H849.5V511.9H839.8zM842.5 450.4H852.2V500.6H842.5zM845.3 449.1H854.9V520.9H845.3zM848.0 451.3H857.7V507.7H848.0zM850.7 444.4H860.4V519.6H850.7zM853.5 456.4H863.1V518.7H853.5zM856.2 445.9H865.9V516.6H856.2zM858.9 455.8H868.6V519.0H858.9zM861.7 447.3H871.3V522.8H861.7zM864.4 458.3H874.1V525.8H864.4zM867.1 455.4H876.8V520.1H867.1zM869.9 451.1H879.5V520.8H869.9zM872.6 453.3H882.3V509.8H872.6zM875.4 450.3H885.0V509.1H875.4zM878.1 447.8H887.8V527.5H878.1zM880.8 453.0H890.5V531.5H880.8zM883.6 455.6H893.3V509.9H883.6zM886.3 451.4H896.0V526.0H886.3zM889.1 452.0H898.7V520.8H889.1zM891.8 453.2H901.5V512.2H891.8zM894.6 449.2H904.2V520.3H894.6zM897.3 452.2H907.0V526.3H897.3zM900.1 450.5H909.7V525.4H900.1zM902.8 456.7H912.5V526.0H902.8zM905.6 448.4H915.2V517.7H905.6zM908.3 452.2H918.0V529.5H908.3zM911.0 448.8H920.7V527.8H911.0zM913.8 450.2H923.5V534.8H913.8zM916.6 452.0H926.2V536.9H916.6zM919.3 461.2H929.0V540.2H919.3zM922.1 454.6H931.7V521.3H922.1zM924.8 451.8H934.5V540.5H924.8zM927.6 456.3H937.2V534.5H927.6zM930.3 456.6H940.0V542.1H930.3zM933.1 452.6H942.7V543.7H933.1zM935.8 455.3H945.5V535.8H935.8zM938.6 457.0H948.2V518.0H938.6zM941.3 458.8H951.0V538.7H941.3zM944.1 457.2H953.8V561.0H944.1zM946.9 457.7H956.5V546.5H946.9zM949.6 451.7H959.3V538.8H949.6zM952.4 453.8H962.0V541.9H952.4zM955.1 452.5H964.8V535.2H955.1zM957.9 457.0H967.6V541.3H957.9zM960.6 453.1H970.3V550.5H960.6zM963.4 457.2H973.1V540.5H963.4zM966.2 454.2H975.8V535.9H966.2zM968.9 456.9H978.6V647.3H968.9zM971.7 457.9H981.4V554.6H971.7zM974.5 459.4H984.1V558.0H974.5zM977.2 456.3H986.9V536.0H977.2zM980.0 460.4H989.7V550.8H980.0zM982.8 457.7H992.4V550.1H982.8zM985.5 459.1H995.2V540.7H985.5zM988.3 460.5H997.9V558.6H988.3zM991.0 451.9H1000.7V550.1H991.0zM993.8 453.2H1003.5V561.8H993.8zM996.6 463.2H1006.2V574.0H996.6zM999.3 459.8H1009.0V565.6H999.3zM1002.1 462.6H1011.8V554.1H1002.1zM1004.9 461.5H1014.5V567.3H1004.9zM1007.7 462.0H1017.3V548.5H1007.7zM1010.4 458.4H1020.1V567.4H1010.4zM1013.2 465.3H1022.9V563.9H1013.2zM1016.0 464.0H1025.6V570.1H1016.0zM1018.7 461.0H1028.4V570.3H1018.7zM1021.5 460.3H1031.2V549.5H1021.5zM1024.3 457.3H1033.9V575.0H1024.3zM1027.0 472.1H1036.7V571.7H1027.0zM1029.8 468.2H1039.5V543.9H1029.8zM1032.6 464.5H1042.3V572.2H1032.6zM1035.4 466.5H1045.0V585.0H1035.4zM1038.1 460.3H1047.8V567.6H1038.1zM1040.9 462.9H1050.6V567.1H1040.9zM1043.7 459.3H1053.4V585.0H1043.7zM1046.5 462.6H1056.1V569.2H1046.5zM1049.2 458.7H1058.9V563.6H1049.2zM1052.0 465.1H1061.7V556.7H1052.0zM1054.8 464.5H1064.5V564.0H1054.8zM1057.6 459.1H1067.2V569.6H1057.6zM1060.3 461.9H1070.0V560.2H1060.3zM1063.1 465.8H1072.8V564.7H1063.1zM1065.9 463.6H1075.6V670.8H1065.9zM1068.7 465.0H1078.0V552.4H1068.7zM1071.4 459.7H1078.0V547.1H1071.4z" fill="url(#pr)"/>
<path d="M118.6 507.1l1.7 -1.7l1.7 1.7l-1.7 1.7zM119.4 486.8l1.7 -1.7l1.7 1.7l-1.7 1.7zM120.1 466.0l1.7 -1.7l1.7 1.7l-1.7 1.7zM120.9 443.7l1.7 -1.7l1.7 1.7l-1.7 1.7zM121.7 427.8l1.7 -1.7l1.7 1.7l-1.7 1.7zM122.5 413.3l1.7 -1.7l1.7 1.7l-1.7 1.7zM123.2 398.9l1.7 -1.7l1.7 1.7l-1.7 1.7zM124.0 385.9l1.7 -1.7l1.7 1.7l-1.7 1.7zM124.8 372.1l1.7 -1.7l1.7 1.7l-1.7 1.7zM125.6 360.7l1.7 -1.7l1.7 1.7l-1.7 1.7zM126.3 352.0l1.7 -1.7l1.7 1.7l-1.7 1.7zM127.1 339.8l1.7 -1.7l1.7 1.7l-1.7 1.7zM127.9 329.5l1.7 -1.7l1.7 1.7l-1.7 1.7zM128.6 320.7l1.7 -1.7l1.7 1.7l-1.7 1.7zM129.4 313.0l1.7 -1.7l1.7 1.7l-1.7 1.7zM130.2 306.5l1.7 -1.7l1.7 1.7l-1.7 1.7zM131.0 297.8l1.7 -1.7l1.7 1.7l-1.7 1.7zM131.7 292.4l1.7 -1.7l1.7 1.7l-1.7 1.7zM132.5 283.9l1.7 -1.7l1.7 1.7l-1.7 1.7zM133.3 279.8l1.7 -1.7l1.7 1.7l-1.7 1.7zM134.1 271.4l1.7 -1.7l1.7 1.7l-1.7 1.7zM134.8 266.9l1.7 -1.7l1.7 1.7l-1.7 1.7zM135.6 261.8l1.7 -1.7l1.7 1.7l-1.7 1.7zM136.4 257.3l1.7 -1.7l1.7 1.7l-1.7 1.7zM137.2 251.0l1.7 -1.7l1.7 1.7l-1.7 1.7zM137.9 246.7l1.7 -1.7l1.7 1.7l-1.7 1.7zM138.7 241.3l1.7 -1.7l1.7 1.7l-1.7 1.7zM139.5 237.1l1.7 -1.7l1.7 1.7l-1.7 1.7zM140.2 234.4l1.7 -1.7l1.7 1.7l-1.7 1.7zM141.0 230.0l1.7 -1.7l1.7 1.7l-1.7 1.7zM141.8 228.3l1.7 -1.7l1.7 1.7l-1.7 1.7zM142.6 225.0l1.7 -1.7l1.7 1.7l-1.7 1.7zM143.3 222.4l1.7 -1.7l1.7 1.7l-1.7 1.7zM144.1 219.0l1.7 -1.7l1.7 1.7l-1.7 1.7zM144.9 219.0l1.7 -1.7l1.7 1.7l-1.7 1.7zM145.7 214.4l1.7 -1.7l1.7 1.7l-1.7 1.7zM146.4 212.9l1.7 -1.7l1.7 1.7l-1.7 1.7zM147.2 213.3l1.7 -1.7l1.7 1.7l-1.7 1.7zM148.0 208.5l1.7 -1.7l1.7 1.7l-1.7 1.7zM148.7 207.6l1.7 -1.7l1.7 1.7l-1.7 1.7zM149.5 206.2l1.7 -1.7l1.7 1.7l-1.7 1.7zM150.3 203.4l1.7 -1.7l1.7 1.7l-1.7 1.7zM151.1 203.7l1.7 -1.7l1.7 1.7l-1.7 1.7zM152.0 204.4l1.7 -1.7l1.7 1.7l-1.7 1.7zM153.0 207.0l1.7 -1.7l1.7 1.7l-1.7 1.7zM154.0 209.3l1.7 -1.7l1.7 1.7l-1.7 1.7zM154.9 211.9l1.7 -1.7l1.7 1.7l-1.7 1.7zM155.9 213.5l1.7 -1.7l1.7 1.7l-1.7 1.7zM156.9 219.2l1.7 -1.7l1.7 1.7l-1.7 1.7zM157.8 221.6l1.7 -1.7l1.7 1.7l-1.7 1.7zM158.8 224.8l1.7 -1.7l1.7 1.7l-1.7 1.7zM159.8 228.2l1.7 -1.7l1.7 1.7l-1.7 1.7zM160.8 230.1l1.7 -1.7l1.7 1.7l-1.7 1.7zM161.7 234.2l1.7 -1.7l1.7 1.7l-1.7 1.7zM162.7 235.9l1.7 -1.7l1.7 1.7l-1.7 1.7zM163.7 242.0l1.7 -1.7l1.7 1.7l-1.7 1.7zM164.8 241.7l1.7 -1.7l1.7 1.7l-1.7 1.7zM165.8 243.5l1.7 -1.7l1.7 1.7l-1.7 1.7zM166.8 248.8l1.7 -1.7l1.7 1.7l-1.7 1.7zM167.8 250.4l1.7 -1.7l1.7 1.7l-1.7 1.7zM168.9 252.7l1.7 -1.7l1.7 1.7l-1.7 1.7zM169.9 252.7l1.7 -1.7l1.7 1.7l-1.7 1.7zM171.0 255.3l1.7 -1.7l1.7 1.7l-1.7 1.7zM172.1 258.3l1.7 -1.7l1.7 1.7l-1.7 1.7zM173.2 256.8l1.7 -1.7l1.7 1.7l-1.7 1.7zM174.3 259.6l1.7 -1.7l1.7 1.7l-1.7 1.7zM175.4 261.7l1.7 -1.7l1.7 1.7l-1.7 1.7zM176.5 264.4l1.7 -1.7l1.7 1.7l-1.7 1.7zM177.6 264.8l1.7 -1.7l1.7 1.7l-1.7 1.7zM178.7 265.2l1.7 -1.7l1.7 1.7l-1.7 1.7zM179.8 269.6l1.7 -1.7l1.7 1.7l-1.7 1.7zM181.0 267.5l1.7 -1.7l1.7 1.7l-1.7 1.7zM182.1 269.7l1.7 -1.7l1.7 1.7l-1.7 1.7zM183.3 272.8l1.7 -1.7l1.7 1.7l-1.7 1.7zM184.5 272.8l1.7 -1.7l1.7 1.7l-1.7 1.7zM185.7 277.1l1.7 -1.7l1.7 1.7l-1.7 1.7zM186.8 277.0l1.7 -1.7l1.7 1.7l-1.7 1.7zM188.0 278.4l1.7 -1.7l1.7 1.7l-1.7 1.7zM189.3 281.3l1.7 -1.7l1.7 1.7l-1.7 1.7zM190.5 280.4l1.7 -1.7l1.7 1.7l-1.7 1.7zM191.7 284.2l1.7 -1.7l1.7 1.7l-1.7 1.7zM192.9 286.9l1.7 -1.7l1.7 1.7l-1.7 1.7zM194.2 289.6l1.7 -1.7l1.7 1.7l-1.7 1.7zM195.4 291.0l1.7 -1.7l1.7 1.7l-1.7 1.7zM196.7 292.7l1.7 -1.7l1.7 1.7l-1.7 1.7zM198.0 294.7l1.7 -1.7l1.7 1.7l-1.7 1.7zM199.2 297.7l1.7 -1.7l1.7 1.7l-1.7 1.7zM200.5 300.8l1.7 -1.7l1.7 1.7l-1.7 1.7zM201.8 300.3l1.7 -1.7l1.7 1.7l-1.7 1.7zM203.1 300.9l1.7 -1.7l1.7 1.7l-1.7 1.7zM204.4 302.5l1.7 -1.7l1.7 1.7l-1.7 1.7zM205.8 305.0l1.7 -1.7l1.7 1.7l-1.7 1.7zM207.1 306.5l1.7 -1.7l1.7 1.7l-1.7 1.7zM208.4 306.4l1.7 -1.7l1.7 1.7l-1.7 1.7zM209.8 306.5l1.7 -1.7l1.7 1.7l-1.7 1.7zM211.2 310.3l1.7 -1.7l1.7 1.7l-1.7 1.7zM212.5 308.1l1.7 -1.7l1.7 1.7l-1.7 1.7zM213.9 311.2l1.7 -1.7l1.7 1.7l-1.7 1.7zM215.3 312.3l1.7 -1.7l1.7 1.7l-1.7 1.7zM216.7 314.5l1.7 -1.7l1.7 1.7l-1.7 1.7zM218.1 310.9l1.7 -1.7l1.7 1.7l-1.7 1.7zM219.5 315.8l1.7 -1.7l1.7 1.7l-1.7 1.7zM220.9 315.7l1.7 -1.7l1.7 1.7l-1.7 1.7zM222.4 316.9l1.7 -1.7l1.7 1.7l-1.7 1.7zM223.8 318.9l1.7 -1.7l1.7 1.7l-1.7 1.7zM225.3 320.1l1.7 -1.7l1.7 1.7l-1.7 1.7zM226.7 321.8l1.7 -1.7l1.7 1.7l-1.7 1.7zM228.2 321.2l1.7 -1.7l1.7 1.7l-1.7 1.7zM229.7 321.8l1.7 -1.7l1.7 1.7l-1.7 1.7zM231.2 324.3l1.7 -1.7l1.7 1.7l-1.7 1.7zM232.7 324.5l1.7 -1.7l1.7 1.7l-1.7 1.7zM234.2 323.9l1.7 -1.7l1.7 1.7l-1.7 1.7zM235.7 325.9l1.7 -1.7l1.7 1.7l-1.7 1.7zM237.2 326.7l1.7 -1.7l1.7 1.7l-1.7 1.7zM238.8 328.2l1.7 -1.7l1.7 1.7l-1.7 1.7zM240.3 330.2l1.7 -1.7l1.7 1.7l-1.7 1.7zM241.9 332.4l1.7 -1.7l1.7 1.7l-1.7 1.7zM243.4 332.1l1.7 -1.7l1.7 1.7l-1.7 1.7zM245.0 334.8l1.7 -1.7l1.7 1.7l-1.7 1.7zM246.6 334.5l1.7 -1.7l1.7 1.7l-1.7 1.7zM248.2 336.2l1.7 -1.7l1.7 1.7l-1.7 1.7zM249.8 336.7l1.7 -1.7l1.7 1.7l-1.7 1.7zM251.4 335.8l1.7 -1.7l1.7 1.7l-1.7 1.7zM253.0 340.5l1.7 -1.7l1.7 1.7l-1.7 1.7zM254.6 338.1l1.7 -1.7l1.7 1.7l-1.7 1.7zM256.3 340.1l1.7 -1.7l1.7 1.7l-1.7 1.7zM257.9 340.4l1.7 -1.7l1.7 1.7l-1.7 1.7zM259.6 342.8l1.7 -1.7l1.7 1.7l-1.7 1.7zM261.2 340.8l1.7 -1.7l1.7 1.7l-1.7 1.7zM262.9 342.4l1.7 -1.7l1.7 1.7l-1.7 1.7zM264.6 346.0l1.7 -1.7l1.7 1.7l-1.7 1.7zM266.3 344.5l1.7 -1.7l1.7 1.7l-1.7 1.7zM268.0 345.9l1.7 -1.7l1.7 1.7l-1.7 1.7zM269.7 348.8l1.7 -1.7l1.7 1.7l-1.7 1.7zM271.4 347.8l1.7 -1.7l1.7 1.7l-1.7 1.7zM273.1 352.0l1.7 -1.7l1.7 1.7l-1.7 1.7zM274.9 351.5l1.7 -1.7l1.7 1.7l-1.7 1.7zM276.6 346.1l1.7 -1.7l1.7 1.7l-1.7 1.7zM278.4 351.7l1.7 -1.7l1.7 1.7l-1.7 1.7zM280.1 352.0l1.7 -1.7l1.7 1.7l-1.7 1.7zM281.9 353.2l1.7 -1.7l1.7 1.7l-1.7 1.7zM283.7 352.8l1.7 -1.7l1.7 1.7l-1.7 1.7zM285.4 356.1l1.7 -1.7l1.7 1.7l-1.7 1.7zM287.2 355.6l1.7 -1.7l1.7 1.7l-1.7 1.7zM289.0 358.4l1.7 -1.7l1.7 1.7l-1.7 1.7zM290.8 356.1l1.7 -1.7l1.7 1.7l-1.7 1.7zM292.7 359.0l1.7 -1.7l1.7 1.7l-1.7 1.7zM294.5 358.2l1.7 -1.7l1.7 1.7l-1.7 1.7zM296.3 356.0l1.7 -1.7l1.7 1.7l-1.7 1.7zM298.2 359.4l1.7 -1.7l1.7 1.7l-1.7 1.7zM300.0 362.3l1.7 -1.7l1.7 1.7l-1.7 1.7zM301.9 358.8l1.7 -1.7l1.7 1.7l-1.7 1.7zM303.8 360.3l1.7 -1.7l1.7 1.7l-1.7 1.7zM305.6 364.5l1.7 -1.7l1.7 1.7l-1.7 1.7zM307.5 361.8l1.7 -1.7l1.7 1.7l-1.7 1.7zM309.4 361.4l1.7 -1.7l1.7 1.7l-1.7 1.7zM311.3 360.7l1.7 -1.7l1.7 1.7l-1.7 1.7zM313.2 367.4l1.7 -1.7l1.7 1.7l-1.7 1.7zM315.1 366.5l1.7 -1.7l1.7 1.7l-1.7 1.7zM317.1 365.9l1.7 -1.7l1.7 1.7l-1.7 1.7zM319.0 366.5l1.7 -1.7l1.7 1.7l-1.7 1.7zM320.9 368.8l1.7 -1.7l1.7 1.7l-1.7 1.7zM322.9 369.0l1.7 -1.7l1.7 1.7l-1.7 1.7zM324.8 370.5l1.7 -1.7l1.7 1.7l-1.7 1.7zM326.8 370.6l1.7 -1.7l1.7 1.7l-1.7 1.7zM328.8 370.3l1.7 -1.7l1.7 1.7l-1.7 1.7zM330.7 370.8l1.7 -1.7l1.7 1.7l-1.7 1.7zM332.7 373.3l1.7 -1.7l1.7 1.7l-1.7 1.7zM334.7 374.5l1.7 -1.7l1.7 1.7l-1.7 1.7zM336.7 373.7l1.7 -1.7l1.7 1.7l-1.7 1.7zM338.7 374.1l1.7 -1.7l1.7 1.7l-1.7 1.7zM340.8 377.1l1.7 -1.7l1.7 1.7l-1.7 1.7zM342.8 375.1l1.7 -1.7l1.7 1.7l-1.7 1.7zM344.8 376.5l1.7 -1.7l1.7 1.7l-1.7 1.7zM346.9 379.7l1.7 -1.7l1.7 1.7l-1.7 1.7zM348.9 379.1l1.7 -1.7l1.7 1.7l-1.7 1.7zM351.0 379.3l1.7 -1.7l1.7 1.7l-1.7 1.7zM353.0 381.8l1.7 -1.7l1.7 1.7l-1.7 1.7zM355.1 379.8l1.7 -1.7l1.7 1.7l-1.7 1.7zM357.2 379.7l1.7 -1.7l1.7 1.7l-1.7 1.7zM359.2 380.4l1.7 -1.7l1.7 1.7l-1.7 1.7zM361.3 383.3l1.7 -1.7l1.7 1.7l-1.7 1.7zM363.4 384.9l1.7 -1.7l1.7 1.7l-1.7 1.7zM365.5 381.3l1.7 -1.7l1.7 1.7l-1.7 1.7zM367.6 384.9l1.7 -1.7l1.7 1.7l-1.7 1.7zM369.8 382.8l1.7 -1.7l1.7 1.7l-1.7 1.7zM371.9 386.2l1.7 -1.7l1.7 1.7l-1.7 1.7zM374.0 387.3l1.7 -1.7l1.7 1.7l-1.7 1.7zM376.1 389.8l1.7 -1.7l1.7 1.7l-1.7 1.7zM378.3 388.5l1.7 -1.7l1.7 1.7l-1.7 1.7zM380.4 389.4l1.7 -1.7l1.7 1.7l-1.7 1.7zM382.6 390.2l1.7 -1.7l1.7 1.7l-1.7 1.7zM384.8 392.1l1.7 -1.7l1.7 1.7l-1.7 1.7zM386.9 390.3l1.7 -1.7l1.7 1.7l-1.7 1.7zM389.1 395.0l1.7 -1.7l1.7 1.7l-1.7 1.7zM391.3 391.9l1.7 -1.7l1.7 1.7l-1.7 1.7zM393.5 392.6l1.7 -1.7l1.7 1.7l-1.7 1.7zM395.7 393.9l1.7 -1.7l1.7 1.7l-1.7 1.7zM397.9 390.7l1.7 -1.7l1.7 1.7l-1.7 1.7zM400.1 398.7l1.7 -1.7l1.7 1.7l-1.7 1.7zM402.3 397.0l1.7 -1.7l1.7 1.7l-1.7 1.7zM404.5 398.2l1.7 -1.7l1.7 1.7l-1.7 1.7zM406.7 396.7l1.7 -1.7l1.7 1.7l-1.7 1.7zM409.0 400.0l1.7 -1.7l1.7 1.7l-1.7 1.7zM411.2 398.2l1.7 -1.7l1.7 1.7l-1.7 1.7zM413.5 399.2l1.7 -1.7l1.7 1.7l-1.7 1.7zM415.7 395.6l1.7 -1.7l1.7 1.7l-1.7 1.7zM418.0 400.6l1.7 -1.7l1.7 1.7l-1.7 1.7zM420.2 399.4l1.7 -1.7l1.7 1.7l-1.7 1.7zM422.5 405.8l1.7 -1.7l1.7 1.7l-1.7 1.7zM424.8 399.7l1.7 -1.7l1.7 1.7l-1.7 1.7zM427.0 403.5l1.7 -1.7l1.7 1.7l-1.7 1.7zM429.3 401.2l1.7 -1.7l1.7 1.7l-1.7 1.7zM431.6 409.8l1.7 -1.7l1.7 1.7l-1.7 1.7zM433.9 403.4l1.7 -1.7l1.7 1.7l-1.7 1.7zM436.2 402.6l1.7 -1.7l1.7 1.7l-1.7 1.7zM438.5 403.3l1.7 -1.7l1.7 1.7l-1.7 1.7zM440.8 406.2l1.7 -1.7l1.7 1.7l-1.7 1.7zM443.1 405.3l1.7 -1.7l1.7 1.7l-1.7 1.7zM445.5 402.1l1.7 -1.7l1.7 1.7l-1.7 1.7zM447.8 407.3l1.7 -1.7l1.7 1.7l-1.7 1.7zM450.1 405.7l1.7 -1.7l1.7 1.7l-1.7 1.7zM452.5 408.8l1.7 -1.7l1.7 1.7l-1.7 1.7zM454.8 412.2l1.7 -1.7l1.7 1.7l-1.7 1.7zM457.2 406.5l1.7 -1.7l1.7 1.7l-1.7 1.7zM459.5 412.2l1.7 -1.7l1.7 1.7l-1.7 1.7zM461.9 404.9l1.7 -1.7l1.7 1.7l-1.7 1.7zM464.2 408.3l1.7 -1.7l1.7 1.7l-1.7 1.7zM466.6 414.1l1.7 -1.7l1.7 1.7l-1.7 1.7zM469.0 408.8l1.7 -1.7l1.7 1.7l-1.7 1.7zM471.3 411.0l1.7 -1.7l1.7 1.7l-1.7 1.7zM473.7 409.2l1.7 -1.7l1.7 1.7l-1.7 1.7zM476.1 410.8l1.7 -1.7l1.7 1.7l-1.7 1.7zM478.5 416.1l1.7 -1.7l1.7 1.7l-1.7 1.7zM480.9 415.3l1.7 -1.7l1.7 1.7l-1.7 1.7zM483.3 417.9l1.7 -1.7l1.7 1.7l-1.7 1.7zM485.7 417.5l1.7 -1.7l1.7 1.7l-1.7 1.7zM488.1 415.4l1.7 -1.7l1.7 1.7l-1.7 1.7zM490.5 419.7l1.7 -1.7l1.7 1.7l-1.7 1.7zM492.9 413.7l1.7 -1.7l1.7 1.7l-1.7 1.7zM495.4 421.9l1.7 -1.7l1.7 1.7l-1.7 1.7zM497.8 421.2l1.7 -1.7l1.7 1.7l-1.7 1.7zM500.2 421.7l1.7 -1.7l1.7 1.7l-1.7 1.7zM502.7 423.1l1.7 -1.7l1.7 1.7l-1.7 1.7zM505.1 418.5l1.7 -1.7l1.7 1.7l-1.7 1.7zM507.5 428.8l1.7 -1.7l1.7 1.7l-1.7 1.7zM510.0 428.6l1.7 -1.7l1.7 1.7l-1.7 1.7zM512.4 427.2l1.7 -1.7l1.7 1.7l-1.7 1.7zM514.9 425.0l1.7 -1.7l1.7 1.7l-1.7 1.7zM517.4 423.6l1.7 -1.7l1.7 1.7l-1.7 1.7zM519.8 428.1l1.7 -1.7l1.7 1.7l-1.7 1.7zM522.3 425.2l1.7 -1.7l1.7 1.7l-1.7 1.7zM524.8 426.6l1.7 -1.7l1.7 1.7l-1.7 1.7zM527.2 426.1l1.7 -1.7l1.7 1.7l-1.7 1.7zM529.7 426.5l1.7 -1.7l1.7 1.7l-1.7 1.7zM532.2 426.5l1.7 -1.7l1.7 1.7l-1.7 1.7zM534.7 431.5l1.7 -1.7l1.7 1.7l-1.7 1.7zM537.2 427.4l1.7 -1.7l1.7 1.7l-1.7 1.7zM539.7 432.4l1.7 -1.7l1.7 1.7l-1.7 1.7zM542.2 435.1l1.7 -1.7l1.7 1.7l-1.7 1.7zM544.7 429.0l1.7 -1.7l1.7 1.7l-1.7 1.7zM547.2 435.1l1.7 -1.7l1.7 1.7l-1.7 1.7zM549.7 424.5l1.7 -1.7l1.7 1.7l-1.7 1.7zM552.2 436.9l1.7 -1.7l1.7 1.7l-1.7 1.7zM554.7 435.5l1.7 -1.7l1.7 1.7l-1.7 1.7zM557.2 436.6l1.7 -1.7l1.7 1.7l-1.7 1.7zM559.7 439.6l1.7 -1.7l1.7 1.7l-1.7 1.7zM562.3 440.5l1.7 -1.7l1.7 1.7l-1.7 1.7zM564.8 437.0l1.7 -1.7l1.7 1.7l-1.7 1.7zM567.3 439.7l1.7 -1.7l1.7 1.7l-1.7 1.7zM569.9 437.1l1.7 -1.7l1.7 1.7l-1.7 1.7zM572.4 431.5l1.7 -1.7l1.7 1.7l-1.7 1.7zM574.9 433.2l1.7 -1.7l1.7 1.7l-1.7 1.7zM577.5 436.3l1.7 -1.7l1.7 1.7l-1.7 1.7zM580.0 443.3l1.7 -1.7l1.7 1.7l-1.7 1.7zM582.6 440.5l1.7 -1.7l1.7 1.7l-1.7 1.7zM585.1 438.3l1.7 -1.7l1.7 1.7l-1.7 1.7zM587.7 440.8l1.7 -1.7l1.7 1.7l-1.7 1.7zM590.2 445.7l1.7 -1.7l1.7 1.7l-1.7 1.7zM592.8 434.0l1.7 -1.7l1.7 1.7l-1.7 1.7zM595.4 437.8l1.7 -1.7l1.7 1.7l-1.7 1.7zM597.9 440.0l1.7 -1.7l1.7 1.7l-1.7 1.7zM600.5 438.3l1.7 -1.7l1.7 1.7l-1.7 1.7zM603.1 439.3l1.7 -1.7l1.7 1.7l-1.7 1.7zM605.7 438.1l1.7 -1.7l1.7 1.7l-1.7 1.7zM608.2 446.3l1.7 -1.7l1.7 1.7l-1.7 1.7zM610.8 429.6l1.7 -1.7l1.7 1.7l-1.7 1.7zM613.4 446.7l1.7 -1.7l1.7 1.7l-1.7 1.7zM616.0 448.2l1.7 -1.7l1.7 1.7l-1.7 1.7zM618.6 440.1l1.7 -1.7l1.7 1.7l-1.7 1.7zM621.2 444.7l1.7 -1.7l1.7 1.7l-1.7 1.7zM623.8 449.4l1.7 -1.7l1.7 1.7l-1.7 1.7zM626.4 446.0l1.7 -1.7l1.7 1.7l-1.7 1.7zM629.0 447.6l1.7 -1.7l1.7 1.7l-1.7 1.7zM631.6 449.5l1.7 -1.7l1.7 1.7l-1.7 1.7zM634.2 441.8l1.7 -1.7l1.7 1.7l-1.7 1.7zM636.8 443.6l1.7 -1.7l1.7 1.7l-1.7 1.7zM639.4 444.8l1.7 -1.7l1.7 1.7l-1.7 1.7zM642.0 442.7l1.7 -1.7l1.7 1.7l-1.7 1.7zM644.6 448.1l1.7 -1.7l1.7 1.7l-1.7 1.7zM647.2 451.5l1.7 -1.7l1.7 1.7l-1.7 1.7zM649.8 447.7l1.7 -1.7l1.7 1.7l-1.7 1.7zM652.5 439.6l1.7 -1.7l1.7 1.7l-1.7 1.7zM655.1 455.0l1.7 -1.7l1.7 1.7l-1.7 1.7zM657.7 453.3l1.7 -1.7l1.7 1.7l-1.7 1.7zM660.3 446.1l1.7 -1.7l1.7 1.7l-1.7 1.7zM663.0 446.2l1.7 -1.7l1.7 1.7l-1.7 1.7zM665.6 442.4l1.7 -1.7l1.7 1.7l-1.7 1.7zM668.2 454.0l1.7 -1.7l1.7 1.7l-1.7 1.7zM670.9 443.9l1.7 -1.7l1.7 1.7l-1.7 1.7zM673.5 452.9l1.7 -1.7l1.7 1.7l-1.7 1.7zM676.1 439.1l1.7 -1.7l1.7 1.7l-1.7 1.7zM678.8 447.7l1.7 -1.7l1.7 1.7l-1.7 1.7zM681.4 455.6l1.7 -1.7l1.7 1.7l-1.7 1.7zM684.1 455.9l1.7 -1.7l1.7 1.7l-1.7 1.7zM686.7 442.1l1.7 -1.7l1.7 1.7l-1.7 1.7zM689.4 459.6l1.7 -1.7l1.7 1.7l-1.7 1.7zM692.0 454.7l1.7 -1.7l1.7 1.7l-1.7 1.7zM694.7 450.6l1.7 -1.7l1.7 1.7l-1.7 1.7zM697.3 447.2l1.7 -1.7l1.7 1.7l-1.7 1.7zM700.0 454.5l1.7 -1.7l1.7 1.7l-1.7 1.7zM702.7 458.8l1.7 -1.7l1.7 1.7l-1.7 1.7zM705.3 452.7l1.7 -1.7l1.7 1.7l-1.7 1.7zM708.0 457.9l1.7 -1.7l1.7 1.7l-1.7 1.7zM710.6 462.0l1.7 -1.7l1.7 1.7l-1.7 1.7zM713.3 452.9l1.7 -1.7l1.7 1.7l-1.7 1.7zM716.0 456.6l1.7 -1.7l1.7 1.7l-1.7 1.7zM718.6 454.8l1.7 -1.7l1.7 1.7l-1.7 1.7zM721.3 464.6l1.7 -1.7l1.7 1.7l-1.7 1.7zM724.0 462.7l1.7 -1.7l1.7 1.7l-1.7 1.7zM726.7 462.7l1.7 -1.7l1.7 1.7l-1.7 1.7zM729.3 463.8l1.7 -1.7l1.7 1.7l-1.7 1.7zM732.0 469.2l1.7 -1.7l1.7 1.7l-1.7 1.7zM734.7 473.7l1.7 -1.7l1.7 1.7l-1.7 1.7zM737.4 457.3l1.7 -1.7l1.7 1.7l-1.7 1.7zM740.1 460.4l1.7 -1.7l1.7 1.7l-1.7 1.7zM742.7 472.1l1.7 -1.7l1.7 1.7l-1.7 1.7zM745.4 459.0l1.7 -1.7l1.7 1.7l-1.7 1.7zM748.1 467.0l1.7 -1.7l1.7 1.7l-1.7 1.7zM750.8 474.3l1.7 -1.7l1.7 1.7l-1.7 1.7zM753.5 467.7l1.7 -1.7l1.7 1.7l-1.7 1.7zM756.2 461.1l1.7 -1.7l1.7 1.7l-1.7 1.7zM758.9 457.1l1.7 -1.7l1.7 1.7l-1.7 1.7zM761.6 467.5l1.7 -1.7l1.7 1.7l-1.7 1.7zM764.3 466.8l1.7 -1.7l1.7 1.7l-1.7 1.7zM767.0 477.1l1.7 -1.7l1.7 1.7l-1.7 1.7zM769.7 479.2l1.7 -1.7l1.7 1.7l-1.7 1.7zM772.4 457.5l1.7 -1.7l1.7 1.7l-1.7 1.7zM775.1 459.0l1.7 -1.7l1.7 1.7l-1.7 1.7zM777.8 462.9l1.7 -1.7l1.7 1.7l-1.7 1.7zM780.5 468.9l1.7 -1.7l1.7 1.7l-1.7 1.7zM783.2 467.2l1.7 -1.7l1.7 1.7l-1.7 1.7zM785.9 475.2l1.7 -1.7l1.7 1.7l-1.7 1.7zM788.6 471.2l1.7 -1.7l1.7 1.7l-1.7 1.7zM791.3 473.4l1.7 -1.7l1.7 1.7l-1.7 1.7zM794.0 479.0l1.7 -1.7l1.7 1.7l-1.7 1.7zM796.7 475.7l1.7 -1.7l1.7 1.7l-1.7 1.7zM799.4 474.3l1.7 -1.7l1.7 1.7l-1.7 1.7zM802.1 476.2l1.7 -1.7l1.7 1.7l-1.7 1.7zM804.8 489.9l1.7 -1.7l1.7 1.7l-1.7 1.7zM807.6 467.1l1.7 -1.7l1.7 1.7l-1.7 1.7zM810.3 471.6l1.7 -1.7l1.7 1.7l-1.7 1.7zM813.0 461.8l1.7 -1.7l1.7 1.7l-1.7 1.7zM815.7 477.2l1.7 -1.7l1.7 1.7l-1.7 1.7zM818.4 476.5l1.7 -1.7l1.7 1.7l-1.7 1.7zM821.1 468.0l1.7 -1.7l1.7 1.7l-1.7 1.7zM823.9 472.1l1.7 -1.7l1.7 1.7l-1.7 1.7zM826.6 486.6l1.7 -1.7l1.7 1.7l-1.7 1.7zM829.3 467.8l1.7 -1.7l1.7 1.7l-1.7 1.7zM832.0 469.3l1.7 -1.7l1.7 1.7l-1.7 1.7zM834.8 477.4l1.7 -1.7l1.7 1.7l-1.7 1.7zM837.5 465.1l1.7 -1.7l1.7 1.7l-1.7 1.7zM840.2 478.6l1.7 -1.7l1.7 1.7l-1.7 1.7zM842.9 480.3l1.7 -1.7l1.7 1.7l-1.7 1.7zM845.7 471.7l1.7 -1.7l1.7 1.7l-1.7 1.7zM848.4 483.2l1.7 -1.7l1.7 1.7l-1.7 1.7zM851.1 471.3l1.7 -1.7l1.7 1.7l-1.7 1.7zM853.9 478.0l1.7 -1.7l1.7 1.7l-1.7 1.7zM856.6 492.9l1.7 -1.7l1.7 1.7l-1.7 1.7zM859.3 478.5l1.7 -1.7l1.7 1.7l-1.7 1.7zM862.1 486.6l1.7 -1.7l1.7 1.7l-1.7 1.7zM864.8 489.2l1.7 -1.7l1.7 1.7l-1.7 1.7zM867.5 483.5l1.7 -1.7l1.7 1.7l-1.7 1.7zM870.3 481.2l1.7 -1.7l1.7 1.7l-1.7 1.7zM873.0 484.9l1.7 -1.7l1.7 1.7l-1.7 1.7zM875.8 475.1l1.7 -1.7l1.7 1.7l-1.7 1.7zM878.5 479.7l1.7 -1.7l1.7 1.7l-1.7 1.7zM881.2 470.4l1.7 -1.7l1.7 1.7l-1.7 1.7zM884.0 493.1l1.7 -1.7l1.7 1.7l-1.7 1.7zM886.7 489.6l1.7 -1.7l1.7 1.7l-1.7 1.7zM889.5 472.2l1.7 -1.7l1.7 1.7l-1.7 1.7zM892.2 478.4l1.7 -1.7l1.7 1.7l-1.7 1.7zM895.0 466.6l1.7 -1.7l1.7 1.7l-1.7 1.7zM897.7 487.5l1.7 -1.7l1.7 1.7l-1.7 1.7zM900.4 478.5l1.7 -1.7l1.7 1.7l-1.7 1.7zM903.2 481.3l1.7 -1.7l1.7 1.7l-1.7 1.7zM905.9 484.8l1.7 -1.7l1.7 1.7l-1.7 1.7zM908.7 475.5l1.7 -1.7l1.7 1.7l-1.7 1.7zM911.4 477.0l1.7 -1.7l1.7 1.7l-1.7 1.7zM914.2 499.9l1.7 -1.7l1.7 1.7l-1.7 1.7zM916.9 489.2l1.7 -1.7l1.7 1.7l-1.7 1.7zM919.7 485.7l1.7 -1.7l1.7 1.7l-1.7 1.7zM922.4 480.4l1.7 -1.7l1.7 1.7l-1.7 1.7zM925.2 481.6l1.7 -1.7l1.7 1.7l-1.7 1.7zM927.9 482.2l1.7 -1.7l1.7 1.7l-1.7 1.7zM930.7 481.6l1.7 -1.7l1.7 1.7l-1.7 1.7zM933.4 460.0l1.7 -1.7l1.7 1.7l-1.7 1.7zM936.2 504.4l1.7 -1.7l1.7 1.7l-1.7 1.7zM939.0 494.9l1.7 -1.7l1.7 1.7l-1.7 1.7zM941.7 483.0l1.7 -1.7l1.7 1.7l-1.7 1.7zM944.5 476.2l1.7 -1.7l1.7 1.7l-1.7 1.7zM947.2 486.7l1.7 -1.7l1.7 1.7l-1.7 1.7zM950.0 498.5l1.7 -1.7l1.7 1.7l-1.7 1.7zM952.7 500.7l1.7 -1.7l1.7 1.7l-1.7 1.7zM955.5 507.0l1.7 -1.7l1.7 1.7l-1.7 1.7zM958.3 479.6l1.7 -1.7l1.7 1.7l-1.7 1.7zM961.0 486.3l1.7 -1.7l1.7 1.7l-1.7 1.7zM963.8 486.0l1.7 -1.7l1.7 1.7l-1.7 1.7zM966.5 496.4l1.7 -1.7l1.7 1.7l-1.7 1.7zM969.3 493.3l1.7 -1.7l1.7 1.7l-1.7 1.7zM972.1 496.2l1.7 -1.7l1.7 1.7l-1.7 1.7zM974.8 503.3l1.7 -1.7l1.7 1.7l-1.7 1.7zM977.6 490.5l1.7 -1.7l1.7 1.7l-1.7 1.7zM980.4 480.3l1.7 -1.7l1.7 1.7l-1.7 1.7zM983.1 498.6l1.7 -1.7l1.7 1.7l-1.7 1.7zM985.9 498.9l1.7 -1.7l1.7 1.7l-1.7 1.7zM988.6 493.3l1.7 -1.7l1.7 1.7l-1.7 1.7zM991.4 486.2l1.7 -1.7l1.7 1.7l-1.7 1.7zM994.2 504.7l1.7 -1.7l1.7 1.7l-1.7 1.7zM996.9 496.4l1.7 -1.7l1.7 1.7l-1.7 1.7zM999.7 490.3l1.7 -1.7l1.7 1.7l-1.7 1.7zM1002.5 498.2l1.7 -1.7l1.7 1.7l-1.7 1.7zM1005.2 502.9l1.7 -1.7l1.7 1.7l-1.7 1.7zM1008.0 506.0l1.7 -1.7l1.7 1.7l-1.7 1.7zM1010.8 492.9l1.7 -1.7l1.7 1.7l-1.7 1.7zM1013.6 481.5l1.7 -1.7l1.7 1.7l-1.7 1.7zM1016.3 492.7l1.7 -1.7l1.7 1.7l-1.7 1.7zM1019.1 488.5l1.7 -1.7l1.7 1.7l-1.7 1.7zM1021.9 483.5l1.7 -1.7l1.7 1.7l-1.7 1.7zM1024.6 507.7l1.7 -1.7l1.7 1.7l-1.7 1.7zM1027.4 512.5l1.7 -1.7l1.7 1.7l-1.7 1.7zM1030.2 482.9l1.7 -1.7l1.7 1.7l-1.7 1.7zM1033.0 493.5l1.7 -1.7l1.7 1.7l-1.7 1.7zM1035.7 503.1l1.7 -1.7l1.7 1.7l-1.7 1.7zM1038.5 489.2l1.7 -1.7l1.7 1.7l-1.7 1.7zM1041.3 488.1l1.7 -1.7l1.7 1.7l-1.7 1.7zM1044.0 511.2l1.7 -1.7l1.7 1.7l-1.7 1.7zM1046.8 485.9l1.7 -1.7l1.7 1.7l-1.7 1.7zM1049.6 506.8l1.7 -1.7l1.7 1.7l-1.7 1.7zM1052.4 488.4l1.7 -1.7l1.7 1.7l-1.7 1.7zM1055.1 501.0l1.7 -1.7l1.7 1.7l-1.7 1.7zM1057.9 493.7l1.7 -1.7l1.7 1.7l-1.7 1.7zM1060.7 488.6l1.7 -1.7l1.7 1.7l-1.7 1.7zM1063.5 507.6l1.7 -1.7l1.7 1.7l-1.7 1.7zM1066.2 490.9l1.7 -1.7l1.7 1.7l-1.7 1.7zM1069.0 510.8l1.7 -1.7l1.7 1.7l-1.7 1.7zM1071.8 496.2l1.7 -1.7l1.7 1.7l-1.7 1.7zM1074.6 522.2l1.7 -1.7l1.7 1.7l-1.7 1.7z" fill="#f00"/>
</g>
<path d="M111.45 231.5H1078.0M111.45 165.4H1078.0M111.45 126.7H1078.0M111.45 99.3H1078.0M111.45 78.0H1078.0M111.45 60.6H1078.0M111.45 45.9H1078.0M111.45 33.2H1078.0M111.45 21.9H1078.0M111.45 451.2H1078.0M111.45 385.1H1078.0M111.45 346.4H1078.0M111.45 318.9H1078.0M111.45 297.6H1078.0M111.45 280.3H1078.0M111.45 265.6H1078.0M111.45 252.8H1078.0M111.45 241.6H1078.0M111.45 604.7H1078.0M111.45 566.0H1078.0M111.45 538.6H1078.0M111.45 517.3H1078.0M111.45 499.9H1078.0M111.45 485.2H1078.0M111.45 472.5H1078.0M111.45 461.2H1078.0M304.9 11.9V670.8M498.2 11.9V670.8M691.4 11.9V670.8M884.7 11.9V670.8M1078.0 11.9V670.8" stroke="#000" stroke-width="2.1" stroke-linecap="round" stroke-dasharray="0 5.19" fill="none"/>
<path d="M111.6 231.5h27M111.6 165.4h15M111.6 126.7h15M111.6 99.3h15M111.6 78.0h15M111.6 60.6h15M111.6 45.9h15M111.6 33.2h15M111.6 21.9h15M111.6 451.2h27M111.6 385.1h15M111.6 346.4h15M111.6 318.9h15M111.6 297.6h15M111.6 280.3h15M111.6 265.6h15M111.6 252.8h15M111.6 241.6h15M111.6 604.7h15M111.6 566.0h15M111.6 538.6h15M111.6 517.3h15M111.6 499.9h15M111.6 485.2h15M111.6 472.5h15M111.6 461.2h15M159.9 670.8v-10.6M208.2 670.8v-10.6M256.6 670.8v-10.6M304.9 670.8v-21M353.2 670.8v-10.6M401.5 670.8v-10.6M449.8 670.8v-10.6M498.2 670.8v-21M546.5 670.8v-10.6M594.8 670.8v-10.6M643.1 670.8v-10.6M691.4 670.8v-21M739.8 670.8v-10.6M788.1 670.8v-10.6M836.4 670.8v-10.6M884.7 670.8v-21M933.0 670.8v-10.6M981.4 670.8v-10.6M1029.7 670.8v-10.6M1078.0 670.8v-21" stroke="#000" stroke-width="2" fill="none"/>
<rect x="111.6" y="11.9" width="966.4" height="658.9" fill="none" stroke="#000" stroke-width="2"/>
<rect x="616.8" y="39.5" width="420.20000000000005" height="214.5" fill="#fff" stroke="#000" stroke-width="1.7"/>
<text font-family="Liberation Sans, sans-serif" font-size="26.1" y="76.4" fill="#000" stroke="#000" stroke-width="0.3"><tspan x="625.2">Thickness </tspan><tspan x="757.5">= 0.1 mm</tspan></text>
<rect x="631.8" y="99.9" width="73" height="38.49999999999999" fill="url(#pr)" stroke="#f00" stroke-width="4.4"/>
<path d="M666.5 119.15l2 -2l2 2l-2 2z" fill="#f00"/>
<text font-family="Liberation Sans, sans-serif" font-weight="bold" font-size="26" x="722.5" y="126.0" textLength="91.3" lengthAdjust="spacingAndGlyphs">YAC:Ce</text>
<rect x="631.8" y="153.2" width="73" height="38.6" fill="url(#pb)" stroke="#00f" stroke-width="4.4"/>
<text font-family="Liberation Sans, sans-serif" font-weight="bold" font-size="26" x="722.5" y="179.3" textLength="83.2" lengthAdjust="spacingAndGlyphs">EJ-262</text>
<rect x="631.8" y="207.2" width="73" height="38.6" fill="url(#pk)" stroke="#000" stroke-width="4.4"/>
<path d="M666.5 226.5l2 -2l2 2l-2 2z" fill="#000"/>
<text font-family="Liberation Sans, sans-serif" font-weight="bold" font-size="26" x="722.5" y="233.3" textLength="83.2" lengthAdjust="spacingAndGlyphs">EJ-444</text>
<g font-family="Liberation Sans, sans-serif" font-size="27" fill="#000" stroke="#000" stroke-width="0.3">
<text x="101.2" y="21.1" text-anchor="end" font-size="26.3">10</text>
<text x="103.3" y="242.7" text-anchor="end" font-size="26.3">1</text>
<text x="84.5" y="464.1" text-anchor="end" font-size="26.3">10</text><text x="84.2" y="451.2" font-size="17">−1</text>
<text x="84.5" y="683.7" text-anchor="end" font-size="26.3">10</text><text x="84.2" y="670.8" font-size="17">−2</text>
<text x="304.4" y="698.2" text-anchor="middle">20</text>
<text x="497.7" y="698.2" text-anchor="middle">40</text>
<text x="690.9" y="698.2" text-anchor="middle">60</text>
<text x="884.2" y="698.2" text-anchor="middle">80</text>
<text x="1077.5" y="698.2" text-anchor="middle">100</text>
<text x="1079.4" y="725.6" text-anchor="end" font-size="27.75">Incident Energy [MeV]</text>
</g>
<text font-family="Liberation Sans, sans-serif" font-size="34.5" transform="translate(28.9 483.4) rotate(-90)" textLength="300.7" lengthAdjust="spacingAndGlyphs">Number of photons</text>
</svg>
</body></html>
